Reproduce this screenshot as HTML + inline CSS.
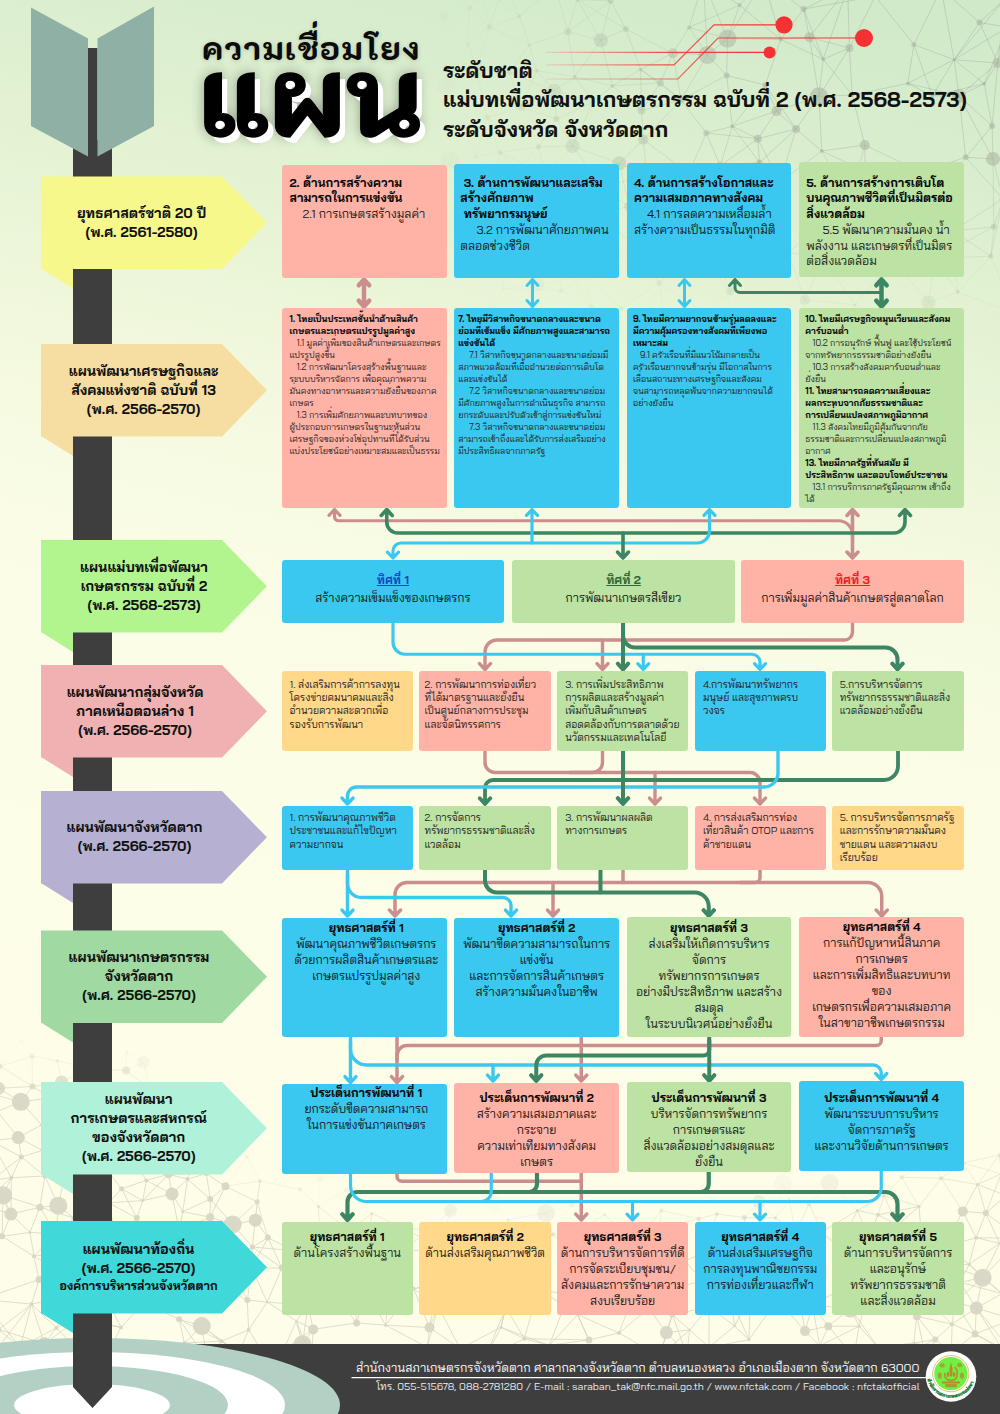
<!DOCTYPE html>
<html lang="th"><head><meta charset="utf-8"><title>ความเชื่อมโยงแผน</title>
<style>
html,body{margin:0;padding:0}
body{width:1000px;height:1414px;overflow:hidden;background:#fdfde8}
#pg{width:1000px;height:1414px;position:relative;overflow:hidden;transform:translateZ(0);font-family:"Bai Jamjuree", "Liberation Sans", "Noto Sans Thai", "Loma", sans-serif;color:#141414;
background:linear-gradient(192deg,#cfe9c9 0%,#d8edcd 10%,#e3f2d3 20%,#eff7db 30%,#f8fbe3 40%,#fcfde7 50%,#fefde9 100%)}
svg{position:absolute;left:0;top:0}
.bx{position:absolute;box-sizing:border-box;border-radius:3px;white-space:nowrap;overflow:hidden}
.bx b{font-weight:700;color:#0a0a0a}
.bx i{display:inline-block;width:13px}
.bx i.w{width:11px}
.r1{font-size:12.1px;line-height:15.75px}
.r2{font-size:8.9px;line-height:12px;color:#1e1a1a}
.r2 i{width:7px}
.r3{font-size:12px;line-height:18.5px;text-align:center;padding-top:11.3px!important}
.u{text-decoration:underline;text-decoration-thickness:1px;text-underline-offset:1px}
.r4{font-size:10.3px;line-height:13.4px;color:#202020}
.r6{font-size:12px;line-height:16px}
.c{text-align:center}
.lb{position:absolute;width:220px;height:92.5px;display:flex;align-items:center;justify-content:center;text-align:center;font-weight:700;font-size:14px;line-height:19px;white-space:nowrap;color:#111}
.t1{position:absolute;left:202px;top:27px;font-family:"K2D", "Bai Jamjuree", "Liberation Sans", "Noto Sans Thai", "Loma", sans-serif;font-weight:800;font-size:33px;line-height:40px;letter-spacing:1.5px;white-space:nowrap;color:#0b0b0b;transform-origin:0 33px;transform:scale(1,0.92);text-shadow:0 1px 6px rgba(0,0,0,.18)}
.t2{position:absolute;left:199px;top:37.8px;font-family:"K2D", "Bai Jamjuree", "Liberation Sans", "Noto Sans Thai", "Loma", sans-serif;font-weight:800;font-size:116px;line-height:120px;white-space:nowrap;color:#000;-webkit-text-stroke:1.6px #000;transform-origin:0 0;transform:scale(1.023,0.92);text-shadow:5.8px 7.4px 0 #fff,0 0 14px rgba(0,0,0,.4)}
.sub{position:absolute;left:443px;top:56px;font-weight:700;font-size:21.3px;line-height:29.3px;white-space:nowrap;color:#111}
.ft{position:absolute;right:80.5px;white-space:nowrap;color:#fff;text-align:right}
</style></head><body><div id="pg">
<svg width="1000" height="1414" viewBox="0 0 1000 1414">
<g stroke="#7d8a78" stroke-width="0.8" fill="#a9b3a2">
<line x1="600.8" y1="40.3" x2="610.8" y2="1.0" stroke-opacity="0.18"/>
<line x1="600.8" y1="40.3" x2="625.8" y2="29.1" stroke-opacity="0.18"/>
<line x1="600.8" y1="40.3" x2="612.4" y2="85.9" stroke-opacity="0.18"/>
<line x1="600.8" y1="40.3" x2="567.7" y2="31.8" stroke-opacity="0.14"/>
<line x1="600.8" y1="40.3" x2="574.8" y2="76.9" stroke-opacity="0.15"/>
<line x1="600.8" y1="40.3" x2="577.4" y2="-0.4" stroke-opacity="0.15"/>
<line x1="803.6" y1="9.0" x2="780.7" y2="39.4" stroke-opacity="0.32"/>
<line x1="803.6" y1="9.0" x2="809.4" y2="37.2" stroke-opacity="0.32"/>
<line x1="803.6" y1="9.0" x2="847.7" y2="-12.2" stroke-opacity="0.32"/>
<line x1="803.6" y1="9.0" x2="764.0" y2="-19.9" stroke-opacity="0.32"/>
<line x1="803.6" y1="9.0" x2="823.2" y2="59.2" stroke-opacity="0.32"/>
<line x1="803.6" y1="9.0" x2="875.3" y2="-3.7" stroke-opacity="0.32"/>
<line x1="732.2" y1="126.3" x2="757.8" y2="138.7" stroke-opacity="0.30"/>
<line x1="732.2" y1="126.3" x2="759.5" y2="162.5" stroke-opacity="0.30"/>
<line x1="732.2" y1="126.3" x2="765.3" y2="85.1" stroke-opacity="0.30"/>
<line x1="732.2" y1="126.3" x2="726.7" y2="75.4" stroke-opacity="0.30"/>
<line x1="732.2" y1="126.3" x2="706.2" y2="133.0" stroke-opacity="0.28"/>
<line x1="732.2" y1="126.3" x2="720.3" y2="165.9" stroke-opacity="0.28"/>
<line x1="732.2" y1="126.3" x2="776.5" y2="111.1" stroke-opacity="0.30"/>
<line x1="436.0" y1="183.0" x2="450.0" y2="159.7" stroke-opacity="0.01"/>
<line x1="436.0" y1="183.0" x2="464.2" y2="233.7" stroke-opacity="0.01"/>
<line x1="436.0" y1="183.0" x2="465.8" y2="204.1" stroke-opacity="0.01"/>
<line x1="443.3" y1="16.3" x2="489.4" y2="27.1" stroke-opacity="0.02"/>
<line x1="443.3" y1="16.3" x2="437.0" y2="62.4" stroke-opacity="0.02"/>
<line x1="443.3" y1="16.3" x2="481.2" y2="-14.3" stroke-opacity="0.02"/>
<line x1="443.3" y1="16.3" x2="467.9" y2="44.6" stroke-opacity="0.02"/>
<line x1="443.3" y1="16.3" x2="469.5" y2="8.1" stroke-opacity="0.02"/>
<line x1="663.2" y1="310.7" x2="659.2" y2="282.9" stroke-opacity="0.06"/>
<line x1="663.2" y1="310.7" x2="642.4" y2="328.6" stroke-opacity="0.03"/>
<line x1="663.2" y1="310.7" x2="706.9" y2="313.8" stroke-opacity="0.06"/>
<line x1="663.2" y1="310.7" x2="621.1" y2="308.6" stroke-opacity="0.05"/>
<line x1="476.8" y1="69.3" x2="489.4" y2="27.1" stroke-opacity="0.06"/>
<line x1="476.8" y1="69.3" x2="437.0" y2="62.4" stroke-opacity="0.02"/>
<line x1="476.8" y1="69.3" x2="509.3" y2="72.8" stroke-opacity="0.06"/>
<line x1="476.8" y1="69.3" x2="467.9" y2="44.6" stroke-opacity="0.05"/>
<line x1="476.8" y1="69.3" x2="446.2" y2="86.2" stroke-opacity="0.03"/>
<line x1="476.8" y1="69.3" x2="487.2" y2="117.6" stroke-opacity="0.06"/>
<line x1="757.8" y1="138.7" x2="796.1" y2="129.0" stroke-opacity="0.32"/>
<line x1="757.8" y1="138.7" x2="759.5" y2="162.5" stroke-opacity="0.32"/>
<line x1="757.8" y1="138.7" x2="779.8" y2="182.2" stroke-opacity="0.28"/>
<line x1="757.8" y1="138.7" x2="706.2" y2="133.0" stroke-opacity="0.28"/>
<line x1="757.8" y1="138.7" x2="720.3" y2="165.9" stroke-opacity="0.28"/>
<line x1="757.8" y1="138.7" x2="776.5" y2="111.1" stroke-opacity="0.32"/>
<line x1="1005.3" y1="-1.4" x2="1007.7" y2="27.2" stroke-opacity="0.32"/>
<line x1="1005.3" y1="-1.4" x2="979.5" y2="22.5" stroke-opacity="0.32"/>
<line x1="1005.3" y1="-1.4" x2="954.1" y2="59.7" stroke-opacity="0.32"/>
<line x1="1005.3" y1="-1.4" x2="941.2" y2="-11.3" stroke-opacity="0.32"/>
<line x1="1005.3" y1="-1.4" x2="997.8" y2="63.0" stroke-opacity="0.32"/>
<line x1="932.3" y1="95.8" x2="913.9" y2="44.6" stroke-opacity="0.32"/>
<line x1="932.3" y1="95.8" x2="984.2" y2="83.8" stroke-opacity="0.32"/>
<line x1="932.3" y1="95.8" x2="907.8" y2="83.4" stroke-opacity="0.32"/>
<line x1="932.3" y1="95.8" x2="954.1" y2="59.7" stroke-opacity="0.32"/>
<line x1="932.3" y1="95.8" x2="959.0" y2="95.9" stroke-opacity="0.32"/>
<line x1="489.4" y1="27.1" x2="529.4" y2="44.9" stroke-opacity="0.07"/>
<line x1="489.4" y1="27.1" x2="481.2" y2="-14.3" stroke-opacity="0.06"/>
<line x1="489.4" y1="27.1" x2="467.9" y2="44.6" stroke-opacity="0.05"/>
<line x1="489.4" y1="27.1" x2="519.3" y2="16.3" stroke-opacity="0.07"/>
<line x1="489.4" y1="27.1" x2="469.5" y2="8.1" stroke-opacity="0.05"/>
<line x1="489.4" y1="27.1" x2="504.9" y2="-18.9" stroke-opacity="0.07"/>
<line x1="591.3" y1="306.5" x2="642.4" y2="328.6" stroke-opacity="0.03"/>
<line x1="591.3" y1="306.5" x2="560.7" y2="257.0" stroke-opacity="0.04"/>
<line x1="591.3" y1="306.5" x2="584.6" y2="275.6" stroke-opacity="0.04"/>
<line x1="591.3" y1="306.5" x2="621.1" y2="308.6" stroke-opacity="0.04"/>
<line x1="591.3" y1="306.5" x2="561.2" y2="291.1" stroke-opacity="0.04"/>
<line x1="512.1" y1="212.6" x2="551.3" y2="209.8" stroke-opacity="0.07"/>
<line x1="512.1" y1="212.6" x2="494.2" y2="175.6" stroke-opacity="0.07"/>
<line x1="512.1" y1="212.6" x2="464.2" y2="233.7" stroke-opacity="0.03"/>
<line x1="512.1" y1="212.6" x2="465.8" y2="204.1" stroke-opacity="0.03"/>
<line x1="512.1" y1="212.6" x2="517.5" y2="169.9" stroke-opacity="0.07"/>
<line x1="512.1" y1="212.6" x2="501.5" y2="258.2" stroke-opacity="0.04"/>
<line x1="796.1" y1="129.0" x2="821.8" y2="151.0" stroke-opacity="0.32"/>
<line x1="796.1" y1="129.0" x2="759.5" y2="162.5" stroke-opacity="0.32"/>
<line x1="796.1" y1="129.0" x2="765.3" y2="85.1" stroke-opacity="0.32"/>
<line x1="796.1" y1="129.0" x2="779.8" y2="182.2" stroke-opacity="0.28"/>
<line x1="796.1" y1="129.0" x2="818.9" y2="96.3" stroke-opacity="0.32"/>
<line x1="796.1" y1="129.0" x2="776.5" y2="111.1" stroke-opacity="0.32"/>
<line x1="739.6" y1="5.1" x2="780.7" y2="39.4" stroke-opacity="0.31"/>
<line x1="739.6" y1="5.1" x2="727.5" y2="38.6" stroke-opacity="0.30"/>
<line x1="739.6" y1="5.1" x2="703.4" y2="-18.7" stroke-opacity="0.27"/>
<line x1="739.6" y1="5.1" x2="689.1" y2="27.4" stroke-opacity="0.26"/>
<line x1="739.6" y1="5.1" x2="764.0" y2="-19.9" stroke-opacity="0.31"/>
<line x1="437.0" y1="62.4" x2="467.9" y2="44.6" stroke-opacity="0.02"/>
<line x1="437.0" y1="62.4" x2="446.2" y2="86.2" stroke-opacity="0.02"/>
<line x1="821.8" y1="151.0" x2="865.1" y2="171.2" stroke-opacity="0.30"/>
<line x1="821.8" y1="151.0" x2="849.6" y2="202.6" stroke-opacity="0.25"/>
<line x1="821.8" y1="151.0" x2="779.8" y2="182.2" stroke-opacity="0.28"/>
<line x1="821.8" y1="151.0" x2="818.9" y2="96.3" stroke-opacity="0.32"/>
<line x1="821.8" y1="151.0" x2="864.8" y2="145.1" stroke-opacity="0.32"/>
<line x1="594.8" y1="214.2" x2="551.3" y2="209.8" stroke-opacity="0.10"/>
<line x1="594.8" y1="214.2" x2="639.2" y2="247.5" stroke-opacity="0.12"/>
<line x1="594.8" y1="214.2" x2="628.9" y2="206.5" stroke-opacity="0.12"/>
<line x1="594.8" y1="214.2" x2="560.7" y2="257.0" stroke-opacity="0.07"/>
<line x1="594.8" y1="214.2" x2="602.1" y2="187.3" stroke-opacity="0.12"/>
<line x1="681.0" y1="99.9" x2="643.3" y2="139.6" stroke-opacity="0.22"/>
<line x1="681.0" y1="99.9" x2="672.9" y2="53.2" stroke-opacity="0.25"/>
<line x1="681.0" y1="99.9" x2="726.7" y2="75.4" stroke-opacity="0.25"/>
<line x1="681.0" y1="99.9" x2="641.5" y2="110.5" stroke-opacity="0.21"/>
<line x1="681.0" y1="99.9" x2="706.2" y2="133.0" stroke-opacity="0.25"/>
<line x1="681.0" y1="99.9" x2="640.6" y2="69.4" stroke-opacity="0.21"/>
<line x1="681.0" y1="99.9" x2="660.4" y2="82.9" stroke-opacity="0.23"/>
<line x1="681.0" y1="99.9" x2="707.4" y2="54.9" stroke-opacity="0.25"/>
<line x1="892.5" y1="259.6" x2="874.0" y2="209.2" stroke-opacity="0.16"/>
<line x1="892.5" y1="259.6" x2="935.3" y2="258.5" stroke-opacity="0.16"/>
<line x1="892.5" y1="259.6" x2="928.6" y2="302.4" stroke-opacity="0.09"/>
<line x1="892.5" y1="259.6" x2="865.3" y2="243.0" stroke-opacity="0.16"/>
<line x1="892.5" y1="259.6" x2="855.0" y2="304.9" stroke-opacity="0.09"/>
<line x1="551.3" y1="209.8" x2="544.7" y2="174.0" stroke-opacity="0.10"/>
<line x1="551.3" y1="209.8" x2="560.7" y2="257.0" stroke-opacity="0.07"/>
<line x1="551.3" y1="209.8" x2="517.5" y2="169.9" stroke-opacity="0.09"/>
<line x1="725.6" y1="330.1" x2="730.2" y2="291.6" stroke-opacity="0.04"/>
<line x1="725.6" y1="330.1" x2="761.7" y2="341.7" stroke-opacity="0.03"/>
<line x1="725.6" y1="330.1" x2="706.9" y2="313.8" stroke-opacity="0.04"/>
<line x1="852.3" y1="95.2" x2="849.4" y2="48.0" stroke-opacity="0.32"/>
<line x1="852.3" y1="95.2" x2="907.8" y2="83.4" stroke-opacity="0.32"/>
<line x1="852.3" y1="95.2" x2="818.9" y2="96.3" stroke-opacity="0.32"/>
<line x1="852.3" y1="95.2" x2="864.8" y2="145.1" stroke-opacity="0.32"/>
<line x1="852.3" y1="95.2" x2="823.2" y2="59.2" stroke-opacity="0.32"/>
<line x1="1007.7" y1="27.2" x2="984.2" y2="83.8" stroke-opacity="0.32"/>
<line x1="1007.7" y1="27.2" x2="979.5" y2="22.5" stroke-opacity="0.32"/>
<line x1="1007.7" y1="27.2" x2="954.1" y2="59.7" stroke-opacity="0.32"/>
<line x1="1007.7" y1="27.2" x2="997.8" y2="63.0" stroke-opacity="0.32"/>
<line x1="659.2" y1="282.9" x2="693.9" y2="245.7" stroke-opacity="0.09"/>
<line x1="659.2" y1="282.9" x2="639.2" y2="247.5" stroke-opacity="0.09"/>
<line x1="659.2" y1="282.9" x2="642.4" y2="328.6" stroke-opacity="0.03"/>
<line x1="659.2" y1="282.9" x2="706.9" y2="313.8" stroke-opacity="0.06"/>
<line x1="659.2" y1="282.9" x2="621.1" y2="308.6" stroke-opacity="0.05"/>
<line x1="494.2" y1="175.6" x2="450.0" y2="159.7" stroke-opacity="0.03"/>
<line x1="494.2" y1="175.6" x2="465.8" y2="204.1" stroke-opacity="0.03"/>
<line x1="494.2" y1="175.6" x2="475.4" y2="156.8" stroke-opacity="0.05"/>
<line x1="494.2" y1="175.6" x2="500.1" y2="152.6" stroke-opacity="0.07"/>
<line x1="494.2" y1="175.6" x2="517.5" y2="169.9" stroke-opacity="0.07"/>
<line x1="874.0" y1="209.2" x2="831.1" y2="217.7" stroke-opacity="0.23"/>
<line x1="874.0" y1="209.2" x2="921.1" y2="171.8" stroke-opacity="0.24"/>
<line x1="874.0" y1="209.2" x2="865.1" y2="171.2" stroke-opacity="0.24"/>
<line x1="874.0" y1="209.2" x2="849.6" y2="202.6" stroke-opacity="0.24"/>
<line x1="874.0" y1="209.2" x2="865.3" y2="243.0" stroke-opacity="0.19"/>
<line x1="831.1" y1="217.7" x2="849.6" y2="202.6" stroke-opacity="0.23"/>
<line x1="831.1" y1="217.7" x2="865.3" y2="243.0" stroke-opacity="0.19"/>
<line x1="831.1" y1="217.7" x2="823.4" y2="257.3" stroke-opacity="0.16"/>
<line x1="831.1" y1="217.7" x2="788.3" y2="252.3" stroke-opacity="0.17"/>
<line x1="759.5" y1="162.5" x2="779.8" y2="182.2" stroke-opacity="0.28"/>
<line x1="759.5" y1="162.5" x2="720.3" y2="165.9" stroke-opacity="0.28"/>
<line x1="693.9" y1="245.7" x2="639.2" y2="247.5" stroke-opacity="0.12"/>
<line x1="693.9" y1="245.7" x2="719.6" y2="227.0" stroke-opacity="0.15"/>
<line x1="693.9" y1="245.7" x2="730.2" y2="291.6" stroke-opacity="0.10"/>
<line x1="693.9" y1="245.7" x2="717.5" y2="257.1" stroke-opacity="0.15"/>
<line x1="693.9" y1="245.7" x2="746.3" y2="231.1" stroke-opacity="0.15"/>
<line x1="693.9" y1="245.7" x2="683.5" y2="200.6" stroke-opacity="0.15"/>
<line x1="639.2" y1="247.5" x2="628.9" y2="206.5" stroke-opacity="0.12"/>
<line x1="639.2" y1="247.5" x2="584.6" y2="275.6" stroke-opacity="0.07"/>
<line x1="642.4" y1="328.6" x2="621.1" y2="308.6" stroke-opacity="0.03"/>
<line x1="450.0" y1="159.7" x2="462.9" y2="125.4" stroke-opacity="0.03"/>
<line x1="450.0" y1="159.7" x2="465.8" y2="204.1" stroke-opacity="0.03"/>
<line x1="450.0" y1="159.7" x2="475.4" y2="156.8" stroke-opacity="0.03"/>
<line x1="908.0" y1="325.6" x2="928.6" y2="302.4" stroke-opacity="0.06"/>
<line x1="908.0" y1="325.6" x2="886.0" y2="338.8" stroke-opacity="0.03"/>
<line x1="908.0" y1="325.6" x2="855.0" y2="304.9" stroke-opacity="0.06"/>
<line x1="908.0" y1="325.6" x2="956.9" y2="333.4" stroke-opacity="0.04"/>
<line x1="572.6" y1="146.1" x2="544.7" y2="174.0" stroke-opacity="0.11"/>
<line x1="572.6" y1="146.1" x2="556.4" y2="119.0" stroke-opacity="0.13"/>
<line x1="572.6" y1="146.1" x2="619.3" y2="163.3" stroke-opacity="0.15"/>
<line x1="572.6" y1="146.1" x2="602.1" y2="187.3" stroke-opacity="0.15"/>
<line x1="572.6" y1="146.1" x2="593.4" y2="102.0" stroke-opacity="0.15"/>
<line x1="572.6" y1="146.1" x2="538.5" y2="146.8" stroke-opacity="0.11"/>
<line x1="509.3" y1="72.8" x2="529.4" y2="44.9" stroke-opacity="0.09"/>
<line x1="509.3" y1="72.8" x2="536.7" y2="70.7" stroke-opacity="0.09"/>
<line x1="509.3" y1="72.8" x2="554.1" y2="90.8" stroke-opacity="0.09"/>
<line x1="509.3" y1="72.8" x2="521.4" y2="107.4" stroke-opacity="0.09"/>
<line x1="544.7" y1="174.0" x2="500.1" y2="152.6" stroke-opacity="0.08"/>
<line x1="544.7" y1="174.0" x2="517.5" y2="169.9" stroke-opacity="0.09"/>
<line x1="544.7" y1="174.0" x2="538.5" y2="146.8" stroke-opacity="0.11"/>
<line x1="765.3" y1="85.1" x2="780.7" y2="39.4" stroke-opacity="0.32"/>
<line x1="765.3" y1="85.1" x2="726.7" y2="75.4" stroke-opacity="0.30"/>
<line x1="765.3" y1="85.1" x2="776.5" y2="111.1" stroke-opacity="0.32"/>
<line x1="628.9" y1="206.5" x2="619.3" y2="163.3" stroke-opacity="0.16"/>
<line x1="628.9" y1="206.5" x2="602.1" y2="187.3" stroke-opacity="0.15"/>
<line x1="628.9" y1="206.5" x2="646.9" y2="174.9" stroke-opacity="0.16"/>
<line x1="990.9" y1="256.2" x2="957.7" y2="292.0" stroke-opacity="0.11"/>
<line x1="990.9" y1="256.2" x2="935.3" y2="258.5" stroke-opacity="0.16"/>
<line x1="990.9" y1="256.2" x2="1013.7" y2="313.0" stroke-opacity="0.08"/>
<line x1="990.9" y1="256.2" x2="1003.0" y2="198.8" stroke-opacity="0.17"/>
<line x1="990.9" y1="256.2" x2="953.0" y2="230.9" stroke-opacity="0.17"/>
<line x1="990.9" y1="256.2" x2="993.8" y2="226.8" stroke-opacity="0.17"/>
<line x1="719.6" y1="227.0" x2="711.0" y2="192.7" stroke-opacity="0.19"/>
<line x1="719.6" y1="227.0" x2="717.5" y2="257.1" stroke-opacity="0.15"/>
<line x1="719.6" y1="227.0" x2="753.8" y2="260.2" stroke-opacity="0.16"/>
<line x1="719.6" y1="227.0" x2="746.3" y2="231.1" stroke-opacity="0.19"/>
<line x1="719.6" y1="227.0" x2="683.5" y2="200.6" stroke-opacity="0.19"/>
<line x1="957.7" y1="292.0" x2="935.3" y2="258.5" stroke-opacity="0.11"/>
<line x1="957.7" y1="292.0" x2="928.6" y2="302.4" stroke-opacity="0.09"/>
<line x1="957.7" y1="292.0" x2="1013.7" y2="313.0" stroke-opacity="0.08"/>
<line x1="957.7" y1="292.0" x2="953.0" y2="230.9" stroke-opacity="0.11"/>
<line x1="957.7" y1="292.0" x2="1006.4" y2="354.5" stroke-opacity="0.01"/>
<line x1="957.7" y1="292.0" x2="956.9" y2="333.4" stroke-opacity="0.04"/>
<line x1="643.3" y1="139.6" x2="688.9" y2="173.5" stroke-opacity="0.22"/>
<line x1="643.3" y1="139.6" x2="619.3" y2="163.3" stroke-opacity="0.19"/>
<line x1="643.3" y1="139.6" x2="646.9" y2="174.9" stroke-opacity="0.20"/>
<line x1="643.3" y1="139.6" x2="641.5" y2="110.5" stroke-opacity="0.21"/>
<line x1="464.2" y1="233.7" x2="465.8" y2="204.1" stroke-opacity="0.03"/>
<line x1="464.2" y1="233.7" x2="501.5" y2="258.2" stroke-opacity="0.03"/>
<line x1="529.4" y1="44.9" x2="536.7" y2="70.7" stroke-opacity="0.11"/>
<line x1="529.4" y1="44.9" x2="567.7" y2="31.8" stroke-opacity="0.11"/>
<line x1="529.4" y1="44.9" x2="519.3" y2="16.3" stroke-opacity="0.10"/>
<line x1="610.8" y1="1.0" x2="625.8" y2="29.1" stroke-opacity="0.19"/>
<line x1="610.8" y1="1.0" x2="567.7" y2="31.8" stroke-opacity="0.14"/>
<line x1="610.8" y1="1.0" x2="555.3" y2="-13.9" stroke-opacity="0.13"/>
<line x1="610.8" y1="1.0" x2="577.4" y2="-0.4" stroke-opacity="0.15"/>
<line x1="462.9" y1="125.4" x2="475.4" y2="156.8" stroke-opacity="0.04"/>
<line x1="462.9" y1="125.4" x2="500.1" y2="152.6" stroke-opacity="0.04"/>
<line x1="462.9" y1="125.4" x2="446.2" y2="86.2" stroke-opacity="0.03"/>
<line x1="462.9" y1="125.4" x2="487.2" y2="117.6" stroke-opacity="0.04"/>
<line x1="780.7" y1="39.4" x2="727.5" y2="38.6" stroke-opacity="0.30"/>
<line x1="780.7" y1="39.4" x2="809.4" y2="37.2" stroke-opacity="0.32"/>
<line x1="780.7" y1="39.4" x2="764.0" y2="-19.9" stroke-opacity="0.32"/>
<line x1="780.7" y1="39.4" x2="823.2" y2="59.2" stroke-opacity="0.32"/>
<line x1="556.4" y1="119.0" x2="554.1" y2="90.8" stroke-opacity="0.13"/>
<line x1="556.4" y1="119.0" x2="521.4" y2="107.4" stroke-opacity="0.10"/>
<line x1="556.4" y1="119.0" x2="593.4" y2="102.0" stroke-opacity="0.13"/>
<line x1="556.4" y1="119.0" x2="538.5" y2="146.8" stroke-opacity="0.11"/>
<line x1="625.8" y1="29.1" x2="672.9" y2="53.2" stroke-opacity="0.20"/>
<line x1="625.8" y1="29.1" x2="577.4" y2="-0.4" stroke-opacity="0.15"/>
<line x1="625.8" y1="29.1" x2="640.6" y2="69.4" stroke-opacity="0.20"/>
<line x1="688.9" y1="173.5" x2="711.0" y2="192.7" stroke-opacity="0.24"/>
<line x1="688.9" y1="173.5" x2="646.9" y2="174.9" stroke-opacity="0.20"/>
<line x1="688.9" y1="173.5" x2="706.2" y2="133.0" stroke-opacity="0.24"/>
<line x1="688.9" y1="173.5" x2="720.3" y2="165.9" stroke-opacity="0.24"/>
<line x1="688.9" y1="173.5" x2="683.5" y2="200.6" stroke-opacity="0.20"/>
<line x1="612.4" y1="85.9" x2="593.4" y2="102.0" stroke-opacity="0.17"/>
<line x1="612.4" y1="85.9" x2="574.8" y2="76.9" stroke-opacity="0.15"/>
<line x1="612.4" y1="85.9" x2="641.5" y2="110.5" stroke-opacity="0.19"/>
<line x1="612.4" y1="85.9" x2="640.6" y2="69.4" stroke-opacity="0.19"/>
<line x1="612.4" y1="85.9" x2="660.4" y2="82.9" stroke-opacity="0.19"/>
<line x1="913.9" y1="44.6" x2="907.8" y2="83.4" stroke-opacity="0.32"/>
<line x1="913.9" y1="44.6" x2="954.1" y2="59.7" stroke-opacity="0.32"/>
<line x1="913.9" y1="44.6" x2="941.2" y2="-11.3" stroke-opacity="0.32"/>
<line x1="913.9" y1="44.6" x2="875.3" y2="-3.7" stroke-opacity="0.32"/>
<line x1="727.5" y1="38.6" x2="726.7" y2="75.4" stroke-opacity="0.30"/>
<line x1="727.5" y1="38.6" x2="703.4" y2="-18.7" stroke-opacity="0.27"/>
<line x1="727.5" y1="38.6" x2="689.1" y2="27.4" stroke-opacity="0.26"/>
<line x1="727.5" y1="38.6" x2="764.0" y2="-19.9" stroke-opacity="0.30"/>
<line x1="727.5" y1="38.6" x2="707.4" y2="54.9" stroke-opacity="0.28"/>
<line x1="935.3" y1="258.5" x2="928.6" y2="302.4" stroke-opacity="0.09"/>
<line x1="935.3" y1="258.5" x2="953.0" y2="230.9" stroke-opacity="0.16"/>
<line x1="935.3" y1="258.5" x2="993.8" y2="226.8" stroke-opacity="0.16"/>
<line x1="503.6" y1="288.8" x2="490.6" y2="310.6" stroke-opacity="0.02"/>
<line x1="503.6" y1="288.8" x2="537.3" y2="284.2" stroke-opacity="0.03"/>
<line x1="503.6" y1="288.8" x2="561.2" y2="291.1" stroke-opacity="0.03"/>
<line x1="503.6" y1="288.8" x2="501.5" y2="258.2" stroke-opacity="0.03"/>
<line x1="730.2" y1="291.6" x2="761.7" y2="341.7" stroke-opacity="0.03"/>
<line x1="730.2" y1="291.6" x2="717.5" y2="257.1" stroke-opacity="0.10"/>
<line x1="730.2" y1="291.6" x2="753.8" y2="260.2" stroke-opacity="0.10"/>
<line x1="730.2" y1="291.6" x2="706.9" y2="313.8" stroke-opacity="0.06"/>
<line x1="928.6" y1="302.4" x2="956.9" y2="333.4" stroke-opacity="0.04"/>
<line x1="560.7" y1="257.0" x2="584.6" y2="275.6" stroke-opacity="0.07"/>
<line x1="560.7" y1="257.0" x2="537.3" y2="284.2" stroke-opacity="0.04"/>
<line x1="560.7" y1="257.0" x2="561.2" y2="291.1" stroke-opacity="0.05"/>
<line x1="993.0" y1="158.9" x2="992.1" y2="125.9" stroke-opacity="0.32"/>
<line x1="993.0" y1="158.9" x2="965.7" y2="157.3" stroke-opacity="0.32"/>
<line x1="993.0" y1="158.9" x2="1003.0" y2="198.8" stroke-opacity="0.26"/>
<line x1="993.0" y1="158.9" x2="959.0" y2="95.9" stroke-opacity="0.32"/>
<line x1="993.0" y1="158.9" x2="993.8" y2="226.8" stroke-opacity="0.21"/>
<line x1="992.1" y1="125.9" x2="965.7" y2="157.3" stroke-opacity="0.32"/>
<line x1="992.1" y1="125.9" x2="984.2" y2="83.8" stroke-opacity="0.32"/>
<line x1="992.1" y1="125.9" x2="959.0" y2="95.9" stroke-opacity="0.32"/>
<line x1="992.1" y1="125.9" x2="997.8" y2="63.0" stroke-opacity="0.32"/>
<line x1="536.7" y1="70.7" x2="554.1" y2="90.8" stroke-opacity="0.11"/>
<line x1="536.7" y1="70.7" x2="521.4" y2="107.4" stroke-opacity="0.10"/>
<line x1="536.7" y1="70.7" x2="574.8" y2="76.9" stroke-opacity="0.11"/>
<line x1="921.1" y1="171.8" x2="865.1" y2="171.2" stroke-opacity="0.30"/>
<line x1="921.1" y1="171.8" x2="965.7" y2="157.3" stroke-opacity="0.30"/>
<line x1="921.1" y1="171.8" x2="953.0" y2="230.9" stroke-opacity="0.21"/>
<line x1="921.1" y1="171.8" x2="864.8" y2="145.1" stroke-opacity="0.30"/>
<line x1="804.8" y1="299.9" x2="833.5" y2="330.6" stroke-opacity="0.05"/>
<line x1="804.8" y1="299.9" x2="855.0" y2="304.9" stroke-opacity="0.09"/>
<line x1="804.8" y1="299.9" x2="823.4" y2="257.3" stroke-opacity="0.10"/>
<line x1="804.8" y1="299.9" x2="788.3" y2="252.3" stroke-opacity="0.10"/>
<line x1="804.8" y1="299.9" x2="813.8" y2="350.1" stroke-opacity="0.02"/>
<line x1="865.1" y1="171.2" x2="849.6" y2="202.6" stroke-opacity="0.25"/>
<line x1="865.1" y1="171.2" x2="864.8" y2="145.1" stroke-opacity="0.30"/>
<line x1="849.4" y1="48.0" x2="809.4" y2="37.2" stroke-opacity="0.32"/>
<line x1="849.4" y1="48.0" x2="847.7" y2="-12.2" stroke-opacity="0.32"/>
<line x1="849.4" y1="48.0" x2="818.9" y2="96.3" stroke-opacity="0.32"/>
<line x1="849.4" y1="48.0" x2="823.2" y2="59.2" stroke-opacity="0.32"/>
<line x1="849.4" y1="48.0" x2="875.3" y2="-3.7" stroke-opacity="0.32"/>
<line x1="490.6" y1="310.6" x2="537.3" y2="284.2" stroke-opacity="0.02"/>
<line x1="490.6" y1="310.6" x2="501.5" y2="258.2" stroke-opacity="0.02"/>
<line x1="481.2" y1="-14.3" x2="519.3" y2="16.3" stroke-opacity="0.06"/>
<line x1="481.2" y1="-14.3" x2="469.5" y2="8.1" stroke-opacity="0.05"/>
<line x1="481.2" y1="-14.3" x2="504.9" y2="-18.9" stroke-opacity="0.06"/>
<line x1="619.3" y1="163.3" x2="602.1" y2="187.3" stroke-opacity="0.15"/>
<line x1="619.3" y1="163.3" x2="646.9" y2="174.9" stroke-opacity="0.19"/>
<line x1="761.7" y1="341.7" x2="813.8" y2="350.1" stroke-opacity="0.02"/>
<line x1="711.0" y1="192.7" x2="746.3" y2="231.1" stroke-opacity="0.20"/>
<line x1="711.0" y1="192.7" x2="720.3" y2="165.9" stroke-opacity="0.24"/>
<line x1="711.0" y1="192.7" x2="683.5" y2="200.6" stroke-opacity="0.20"/>
<line x1="672.9" y1="53.2" x2="689.1" y2="27.4" stroke-opacity="0.25"/>
<line x1="672.9" y1="53.2" x2="640.6" y2="69.4" stroke-opacity="0.21"/>
<line x1="672.9" y1="53.2" x2="660.4" y2="82.9" stroke-opacity="0.23"/>
<line x1="672.9" y1="53.2" x2="707.4" y2="54.9" stroke-opacity="0.25"/>
<line x1="849.6" y1="202.6" x2="865.3" y2="243.0" stroke-opacity="0.19"/>
<line x1="849.6" y1="202.6" x2="864.8" y2="145.1" stroke-opacity="0.25"/>
<line x1="602.1" y1="187.3" x2="646.9" y2="174.9" stroke-opacity="0.15"/>
<line x1="554.1" y1="90.8" x2="521.4" y2="107.4" stroke-opacity="0.10"/>
<line x1="554.1" y1="90.8" x2="593.4" y2="102.0" stroke-opacity="0.13"/>
<line x1="554.1" y1="90.8" x2="574.8" y2="76.9" stroke-opacity="0.13"/>
<line x1="965.7" y1="157.3" x2="1003.0" y2="198.8" stroke-opacity="0.26"/>
<line x1="965.7" y1="157.3" x2="959.0" y2="95.9" stroke-opacity="0.32"/>
<line x1="779.8" y1="182.2" x2="746.3" y2="231.1" stroke-opacity="0.20"/>
<line x1="717.5" y1="257.1" x2="753.8" y2="260.2" stroke-opacity="0.15"/>
<line x1="717.5" y1="257.1" x2="746.3" y2="231.1" stroke-opacity="0.15"/>
<line x1="833.5" y1="330.6" x2="855.0" y2="304.9" stroke-opacity="0.05"/>
<line x1="833.5" y1="330.6" x2="813.8" y2="350.1" stroke-opacity="0.02"/>
<line x1="984.2" y1="83.8" x2="954.1" y2="59.7" stroke-opacity="0.32"/>
<line x1="984.2" y1="83.8" x2="959.0" y2="95.9" stroke-opacity="0.32"/>
<line x1="984.2" y1="83.8" x2="997.8" y2="63.0" stroke-opacity="0.32"/>
<line x1="475.4" y1="156.8" x2="500.1" y2="152.6" stroke-opacity="0.05"/>
<line x1="475.4" y1="156.8" x2="487.2" y2="117.6" stroke-opacity="0.05"/>
<line x1="886.0" y1="338.8" x2="855.0" y2="304.9" stroke-opacity="0.03"/>
<line x1="809.4" y1="37.2" x2="847.7" y2="-12.2" stroke-opacity="0.32"/>
<line x1="809.4" y1="37.2" x2="818.9" y2="96.3" stroke-opacity="0.32"/>
<line x1="809.4" y1="37.2" x2="823.2" y2="59.2" stroke-opacity="0.32"/>
<line x1="646.9" y1="174.9" x2="683.5" y2="200.6" stroke-opacity="0.20"/>
<line x1="1013.7" y1="313.0" x2="1006.4" y2="354.5" stroke-opacity="0.01"/>
<line x1="1013.7" y1="313.0" x2="956.9" y2="333.4" stroke-opacity="0.04"/>
<line x1="500.1" y1="152.6" x2="517.5" y2="169.9" stroke-opacity="0.08"/>
<line x1="500.1" y1="152.6" x2="487.2" y2="117.6" stroke-opacity="0.07"/>
<line x1="500.1" y1="152.6" x2="538.5" y2="146.8" stroke-opacity="0.08"/>
<line x1="521.4" y1="107.4" x2="487.2" y2="117.6" stroke-opacity="0.07"/>
<line x1="847.7" y1="-12.2" x2="823.2" y2="59.2" stroke-opacity="0.32"/>
<line x1="847.7" y1="-12.2" x2="875.3" y2="-3.7" stroke-opacity="0.32"/>
<line x1="567.7" y1="31.8" x2="555.3" y2="-13.9" stroke-opacity="0.13"/>
<line x1="567.7" y1="31.8" x2="574.8" y2="76.9" stroke-opacity="0.14"/>
<line x1="567.7" y1="31.8" x2="577.4" y2="-0.4" stroke-opacity="0.14"/>
<line x1="907.8" y1="83.4" x2="954.1" y2="59.7" stroke-opacity="0.32"/>
<line x1="907.8" y1="83.4" x2="959.0" y2="95.9" stroke-opacity="0.32"/>
<line x1="753.8" y1="260.2" x2="746.3" y2="231.1" stroke-opacity="0.16"/>
<line x1="753.8" y1="260.2" x2="788.3" y2="252.3" stroke-opacity="0.16"/>
<line x1="726.7" y1="75.4" x2="707.4" y2="54.9" stroke-opacity="0.28"/>
<line x1="467.9" y1="44.6" x2="446.2" y2="86.2" stroke-opacity="0.03"/>
<line x1="467.9" y1="44.6" x2="469.5" y2="8.1" stroke-opacity="0.05"/>
<line x1="593.4" y1="102.0" x2="574.8" y2="76.9" stroke-opacity="0.15"/>
<line x1="555.3" y1="-13.9" x2="577.4" y2="-0.4" stroke-opacity="0.13"/>
<line x1="555.3" y1="-13.9" x2="519.3" y2="16.3" stroke-opacity="0.10"/>
<line x1="555.3" y1="-13.9" x2="504.9" y2="-18.9" stroke-opacity="0.08"/>
<line x1="517.5" y1="169.9" x2="538.5" y2="146.8" stroke-opacity="0.09"/>
<line x1="979.5" y1="22.5" x2="954.1" y2="59.7" stroke-opacity="0.32"/>
<line x1="979.5" y1="22.5" x2="941.2" y2="-11.3" stroke-opacity="0.32"/>
<line x1="979.5" y1="22.5" x2="997.8" y2="63.0" stroke-opacity="0.32"/>
<line x1="1003.0" y1="198.8" x2="953.0" y2="230.9" stroke-opacity="0.21"/>
<line x1="1003.0" y1="198.8" x2="993.8" y2="226.8" stroke-opacity="0.21"/>
<line x1="865.3" y1="243.0" x2="823.4" y2="257.3" stroke-opacity="0.16"/>
<line x1="641.5" y1="110.5" x2="640.6" y2="69.4" stroke-opacity="0.21"/>
<line x1="641.5" y1="110.5" x2="660.4" y2="82.9" stroke-opacity="0.21"/>
<line x1="953.0" y1="230.9" x2="993.8" y2="226.8" stroke-opacity="0.21"/>
<line x1="855.0" y1="304.9" x2="823.4" y2="257.3" stroke-opacity="0.09"/>
<line x1="823.4" y1="257.3" x2="788.3" y2="252.3" stroke-opacity="0.16"/>
<line x1="746.3" y1="231.1" x2="788.3" y2="252.3" stroke-opacity="0.17"/>
<line x1="703.4" y1="-18.7" x2="689.1" y2="27.4" stroke-opacity="0.26"/>
<line x1="703.4" y1="-18.7" x2="764.0" y2="-19.9" stroke-opacity="0.27"/>
<line x1="703.4" y1="-18.7" x2="707.4" y2="54.9" stroke-opacity="0.27"/>
<line x1="706.2" y1="133.0" x2="720.3" y2="165.9" stroke-opacity="0.28"/>
<line x1="818.9" y1="96.3" x2="823.2" y2="59.2" stroke-opacity="0.32"/>
<line x1="818.9" y1="96.3" x2="776.5" y2="111.1" stroke-opacity="0.32"/>
<line x1="689.1" y1="27.4" x2="707.4" y2="54.9" stroke-opacity="0.26"/>
<line x1="954.1" y1="59.7" x2="959.0" y2="95.9" stroke-opacity="0.32"/>
<line x1="954.1" y1="59.7" x2="941.2" y2="-11.3" stroke-opacity="0.32"/>
<line x1="954.1" y1="59.7" x2="997.8" y2="63.0" stroke-opacity="0.32"/>
<line x1="1006.4" y1="354.5" x2="956.9" y2="333.4" stroke-opacity="0.01"/>
<line x1="959.0" y1="95.9" x2="997.8" y2="63.0" stroke-opacity="0.32"/>
<line x1="584.6" y1="275.6" x2="537.3" y2="284.2" stroke-opacity="0.04"/>
<line x1="584.6" y1="275.6" x2="621.1" y2="308.6" stroke-opacity="0.05"/>
<line x1="584.6" y1="275.6" x2="561.2" y2="291.1" stroke-opacity="0.05"/>
<line x1="519.3" y1="16.3" x2="504.9" y2="-18.9" stroke-opacity="0.08"/>
<line x1="941.2" y1="-11.3" x2="875.3" y2="-3.7" stroke-opacity="0.32"/>
<line x1="469.5" y1="8.1" x2="504.9" y2="-18.9" stroke-opacity="0.05"/>
<line x1="640.6" y1="69.4" x2="660.4" y2="82.9" stroke-opacity="0.21"/>
<line x1="537.3" y1="284.2" x2="561.2" y2="291.1" stroke-opacity="0.04"/>
<line x1="537.3" y1="284.2" x2="501.5" y2="258.2" stroke-opacity="0.04"/>
<circle cx="600.8" cy="40.3" r="7" stroke="none" fill-opacity="0.30"/>
<circle cx="803.6" cy="9.0" r="3" stroke="none" fill-opacity="0.55"/>
<circle cx="732.2" cy="126.3" r="2" stroke="none" fill-opacity="0.52"/>
<circle cx="436.0" cy="183.0" r="5" stroke="none" fill-opacity="0.02"/>
<circle cx="443.3" cy="16.3" r="5" stroke="none" fill-opacity="0.04"/>
<circle cx="663.2" cy="310.7" r="3" stroke="none" fill-opacity="0.10"/>
<circle cx="476.8" cy="69.3" r="9" stroke="none" fill-opacity="0.09"/>
<circle cx="757.8" cy="138.7" r="4" stroke="none" fill-opacity="0.55"/>
<circle cx="1005.3" cy="-1.4" r="2" stroke="none" fill-opacity="0.55"/>
<circle cx="932.3" cy="95.8" r="2" stroke="none" fill-opacity="0.55"/>
<circle cx="489.4" cy="27.1" r="3" stroke="none" fill-opacity="0.12"/>
<circle cx="591.3" cy="306.5" r="2.5" stroke="none" fill-opacity="0.08"/>
<circle cx="512.1" cy="212.6" r="2" stroke="none" fill-opacity="0.11"/>
<circle cx="796.1" cy="129.0" r="4" stroke="none" fill-opacity="0.55"/>
<circle cx="739.6" cy="5.1" r="2" stroke="none" fill-opacity="0.53"/>
<circle cx="437.0" cy="62.4" r="2" stroke="none" fill-opacity="0.03"/>
<circle cx="821.8" cy="151.0" r="2" stroke="none" fill-opacity="0.55"/>
<circle cx="594.8" cy="214.2" r="3" stroke="none" fill-opacity="0.21"/>
<circle cx="681.0" cy="99.9" r="3.5" stroke="none" fill-opacity="0.43"/>
<circle cx="892.5" cy="259.6" r="2.5" stroke="none" fill-opacity="0.28"/>
<circle cx="551.3" cy="209.8" r="2.5" stroke="none" fill-opacity="0.16"/>
<circle cx="725.6" cy="330.1" r="2" stroke="none" fill-opacity="0.08"/>
<circle cx="852.3" cy="95.2" r="1.5" stroke="none" fill-opacity="0.55"/>
<circle cx="1007.7" cy="27.2" r="3.5" stroke="none" fill-opacity="0.55"/>
<circle cx="659.2" cy="282.9" r="3" stroke="none" fill-opacity="0.15"/>
<circle cx="494.2" cy="175.6" r="1.5" stroke="none" fill-opacity="0.11"/>
<circle cx="874.0" cy="209.2" r="5" stroke="none" fill-opacity="0.41"/>
<circle cx="831.1" cy="217.7" r="7" stroke="none" fill-opacity="0.39"/>
<circle cx="759.5" cy="162.5" r="3" stroke="none" fill-opacity="0.54"/>
<circle cx="693.9" cy="245.7" r="2" stroke="none" fill-opacity="0.26"/>
<circle cx="639.2" cy="247.5" r="9" stroke="none" fill-opacity="0.21"/>
<circle cx="642.4" cy="328.6" r="5" stroke="none" fill-opacity="0.06"/>
<circle cx="450.0" cy="159.7" r="9" stroke="none" fill-opacity="0.05"/>
<circle cx="908.0" cy="325.6" r="2" stroke="none" fill-opacity="0.09"/>
<circle cx="572.6" cy="146.1" r="7" stroke="none" fill-opacity="0.25"/>
<circle cx="509.3" cy="72.8" r="2.5" stroke="none" fill-opacity="0.15"/>
<circle cx="544.7" cy="174.0" r="5" stroke="none" fill-opacity="0.19"/>
<circle cx="765.3" cy="85.1" r="3" stroke="none" fill-opacity="0.55"/>
<circle cx="628.9" cy="206.5" r="5" stroke="none" fill-opacity="0.27"/>
<circle cx="990.9" cy="256.2" r="2.5" stroke="none" fill-opacity="0.29"/>
<circle cx="719.6" cy="227.0" r="3.5" stroke="none" fill-opacity="0.33"/>
<circle cx="957.7" cy="292.0" r="2" stroke="none" fill-opacity="0.19"/>
<circle cx="643.3" cy="139.6" r="5" stroke="none" fill-opacity="0.37"/>
<circle cx="464.2" cy="233.7" r="2.5" stroke="none" fill-opacity="0.05"/>
<circle cx="529.4" cy="44.9" r="1.5" stroke="none" fill-opacity="0.18"/>
<circle cx="610.8" cy="1.0" r="3" stroke="none" fill-opacity="0.32"/>
<circle cx="462.9" cy="125.4" r="4" stroke="none" fill-opacity="0.07"/>
<circle cx="780.7" cy="39.4" r="2" stroke="none" fill-opacity="0.55"/>
<circle cx="556.4" cy="119.0" r="3" stroke="none" fill-opacity="0.23"/>
<circle cx="625.8" cy="29.1" r="3" stroke="none" fill-opacity="0.34"/>
<circle cx="688.9" cy="173.5" r="2" stroke="none" fill-opacity="0.42"/>
<circle cx="612.4" cy="85.9" r="2" stroke="none" fill-opacity="0.32"/>
<circle cx="913.9" cy="44.6" r="2.5" stroke="none" fill-opacity="0.55"/>
<circle cx="727.5" cy="38.6" r="9" stroke="none" fill-opacity="0.51"/>
<circle cx="935.3" cy="258.5" r="2.5" stroke="none" fill-opacity="0.28"/>
<circle cx="503.6" cy="288.8" r="1.5" stroke="none" fill-opacity="0.05"/>
<circle cx="730.2" cy="291.6" r="4" stroke="none" fill-opacity="0.18"/>
<circle cx="928.6" cy="302.4" r="7" stroke="none" fill-opacity="0.16"/>
<circle cx="560.7" cy="257.0" r="1.5" stroke="none" fill-opacity="0.12"/>
<circle cx="993.0" cy="158.9" r="7" stroke="none" fill-opacity="0.55"/>
<circle cx="992.1" cy="125.9" r="3" stroke="none" fill-opacity="0.55"/>
<circle cx="536.7" cy="70.7" r="2" stroke="none" fill-opacity="0.19"/>
<circle cx="921.1" cy="171.8" r="3" stroke="none" fill-opacity="0.52"/>
<circle cx="804.8" cy="299.9" r="5" stroke="none" fill-opacity="0.17"/>
<circle cx="865.1" cy="171.2" r="3.5" stroke="none" fill-opacity="0.52"/>
<circle cx="849.4" cy="48.0" r="4" stroke="none" fill-opacity="0.55"/>
<circle cx="490.6" cy="310.6" r="7" stroke="none" fill-opacity="0.03"/>
<circle cx="481.2" cy="-14.3" r="2.5" stroke="none" fill-opacity="0.10"/>
<circle cx="619.3" cy="163.3" r="7" stroke="none" fill-opacity="0.33"/>
<circle cx="761.7" cy="341.7" r="3" stroke="none" fill-opacity="0.05"/>
<circle cx="711.0" cy="192.7" r="2.5" stroke="none" fill-opacity="0.41"/>
<circle cx="672.9" cy="53.2" r="5" stroke="none" fill-opacity="0.42"/>
<circle cx="849.6" cy="202.6" r="2.5" stroke="none" fill-opacity="0.43"/>
<circle cx="602.1" cy="187.3" r="3" stroke="none" fill-opacity="0.26"/>
<circle cx="465.8" cy="204.1" r="3" stroke="none" fill-opacity="0.06"/>
<circle cx="554.1" cy="90.8" r="7" stroke="none" fill-opacity="0.22"/>
<circle cx="965.7" cy="157.3" r="3" stroke="none" fill-opacity="0.55"/>
<circle cx="779.8" cy="182.2" r="3.5" stroke="none" fill-opacity="0.49"/>
<circle cx="717.5" cy="257.1" r="4" stroke="none" fill-opacity="0.26"/>
<circle cx="833.5" cy="330.6" r="3.5" stroke="none" fill-opacity="0.08"/>
<circle cx="984.2" cy="83.8" r="2" stroke="none" fill-opacity="0.55"/>
<circle cx="475.4" cy="156.8" r="1.5" stroke="none" fill-opacity="0.09"/>
<circle cx="886.0" cy="338.8" r="1.5" stroke="none" fill-opacity="0.06"/>
<circle cx="809.4" cy="37.2" r="5" stroke="none" fill-opacity="0.55"/>
<circle cx="646.9" cy="174.9" r="3.5" stroke="none" fill-opacity="0.35"/>
<circle cx="1013.7" cy="313.0" r="3.5" stroke="none" fill-opacity="0.13"/>
<circle cx="500.1" cy="152.6" r="2.5" stroke="none" fill-opacity="0.13"/>
<circle cx="521.4" cy="107.4" r="3.5" stroke="none" fill-opacity="0.17"/>
<circle cx="847.7" cy="-12.2" r="5" stroke="none" fill-opacity="0.55"/>
<circle cx="567.7" cy="31.8" r="3.5" stroke="none" fill-opacity="0.25"/>
<circle cx="907.8" cy="83.4" r="2" stroke="none" fill-opacity="0.55"/>
<circle cx="753.8" cy="260.2" r="3.5" stroke="none" fill-opacity="0.27"/>
<circle cx="726.7" cy="75.4" r="3" stroke="none" fill-opacity="0.51"/>
<circle cx="467.9" cy="44.6" r="2" stroke="none" fill-opacity="0.08"/>
<circle cx="593.4" cy="102.0" r="2" stroke="none" fill-opacity="0.29"/>
<circle cx="555.3" cy="-13.9" r="2" stroke="none" fill-opacity="0.23"/>
<circle cx="517.5" cy="169.9" r="3" stroke="none" fill-opacity="0.15"/>
<circle cx="979.5" cy="22.5" r="3" stroke="none" fill-opacity="0.55"/>
<circle cx="706.9" cy="313.8" r="3" stroke="none" fill-opacity="0.11"/>
<circle cx="574.8" cy="76.9" r="2" stroke="none" fill-opacity="0.26"/>
<circle cx="1003.0" cy="198.8" r="3.5" stroke="none" fill-opacity="0.44"/>
<circle cx="865.3" cy="243.0" r="4" stroke="none" fill-opacity="0.32"/>
<circle cx="641.5" cy="110.5" r="4" stroke="none" fill-opacity="0.37"/>
<circle cx="953.0" cy="230.9" r="7" stroke="none" fill-opacity="0.35"/>
<circle cx="855.0" cy="304.9" r="1.5" stroke="none" fill-opacity="0.15"/>
<circle cx="823.4" cy="257.3" r="1.5" stroke="none" fill-opacity="0.28"/>
<circle cx="746.3" cy="231.1" r="7" stroke="none" fill-opacity="0.35"/>
<circle cx="788.3" cy="252.3" r="2" stroke="none" fill-opacity="0.30"/>
<circle cx="703.4" cy="-18.7" r="2" stroke="none" fill-opacity="0.47"/>
<circle cx="446.2" cy="86.2" r="9" stroke="none" fill-opacity="0.04"/>
<circle cx="706.2" cy="133.0" r="3" stroke="none" fill-opacity="0.48"/>
<circle cx="818.9" cy="96.3" r="9" stroke="none" fill-opacity="0.55"/>
<circle cx="720.3" cy="165.9" r="4" stroke="none" fill-opacity="0.49"/>
<circle cx="689.1" cy="27.4" r="2" stroke="none" fill-opacity="0.45"/>
<circle cx="954.1" cy="59.7" r="1.5" stroke="none" fill-opacity="0.55"/>
<circle cx="1006.4" cy="354.5" r="4" stroke="none" fill-opacity="0.02"/>
<circle cx="487.2" cy="117.6" r="3" stroke="none" fill-opacity="0.11"/>
<circle cx="959.0" cy="95.9" r="7" stroke="none" fill-opacity="0.55"/>
<circle cx="577.4" cy="-0.4" r="2" stroke="none" fill-opacity="0.26"/>
<circle cx="584.6" cy="275.6" r="1.5" stroke="none" fill-opacity="0.12"/>
<circle cx="519.3" cy="16.3" r="2" stroke="none" fill-opacity="0.17"/>
<circle cx="864.8" cy="145.1" r="5" stroke="none" fill-opacity="0.55"/>
<circle cx="941.2" cy="-11.3" r="9" stroke="none" fill-opacity="0.55"/>
<circle cx="764.0" cy="-19.9" r="9" stroke="none" fill-opacity="0.55"/>
<circle cx="683.5" cy="200.6" r="2" stroke="none" fill-opacity="0.35"/>
<circle cx="469.5" cy="8.1" r="2.5" stroke="none" fill-opacity="0.08"/>
<circle cx="640.6" cy="69.4" r="2" stroke="none" fill-opacity="0.37"/>
<circle cx="660.4" cy="82.9" r="3.5" stroke="none" fill-opacity="0.40"/>
<circle cx="813.8" cy="350.1" r="2.5" stroke="none" fill-opacity="0.03"/>
<circle cx="823.2" cy="59.2" r="2" stroke="none" fill-opacity="0.55"/>
<circle cx="537.3" cy="284.2" r="7" stroke="none" fill-opacity="0.07"/>
<circle cx="707.4" cy="54.9" r="9" stroke="none" fill-opacity="0.48"/>
<circle cx="538.5" cy="146.8" r="2.5" stroke="none" fill-opacity="0.20"/>
<circle cx="956.9" cy="333.4" r="2" stroke="none" fill-opacity="0.07"/>
<circle cx="504.9" cy="-18.9" r="3" stroke="none" fill-opacity="0.14"/>
<circle cx="997.8" cy="63.0" r="5" stroke="none" fill-opacity="0.55"/>
<circle cx="621.1" cy="308.6" r="2.5" stroke="none" fill-opacity="0.09"/>
<circle cx="875.3" cy="-3.7" r="2" stroke="none" fill-opacity="0.55"/>
<circle cx="993.8" cy="226.8" r="3" stroke="none" fill-opacity="0.37"/>
<circle cx="776.5" cy="111.1" r="5" stroke="none" fill-opacity="0.55"/>
<circle cx="561.2" cy="291.1" r="2.5" stroke="none" fill-opacity="0.08"/>
<circle cx="501.5" cy="258.2" r="3.5" stroke="none" fill-opacity="0.07"/>
</g>
<g stroke="#cfccb8" stroke-width="0.8" fill="#d8d6c4">
<line x1="450.5" y1="1210.3" x2="440.6" y2="1247.1" stroke-opacity="0.24"/>
<line x1="450.5" y1="1210.3" x2="493.4" y2="1202.7" stroke-opacity="0.05"/>
<line x1="450.5" y1="1210.3" x2="430.0" y2="1230.0" stroke-opacity="0.24"/>
<line x1="941.2" y1="1178.3" x2="977.5" y2="1184.5" stroke-opacity="0.51"/>
<line x1="941.2" y1="1178.3" x2="963.1" y2="1163.0" stroke-opacity="0.38"/>
<line x1="941.2" y1="1178.3" x2="931.6" y2="1159.6" stroke-opacity="0.23"/>
<line x1="941.2" y1="1178.3" x2="962.8" y2="1211.4" stroke-opacity="0.51"/>
<line x1="941.2" y1="1178.3" x2="919.1" y2="1206.4" stroke-opacity="0.51"/>
<line x1="941.2" y1="1178.3" x2="901.8" y2="1177.3" stroke-opacity="0.37"/>
<line x1="941.2" y1="1178.3" x2="954.1" y2="1142.3" stroke-opacity="0.08"/>
<line x1="508.2" y1="1219.7" x2="519.9" y2="1237.7" stroke-opacity="0.27"/>
<line x1="508.2" y1="1219.7" x2="499.8" y2="1245.2" stroke-opacity="0.27"/>
<line x1="508.2" y1="1219.7" x2="545.9" y2="1212.9" stroke-opacity="0.22"/>
<line x1="508.2" y1="1219.7" x2="493.4" y2="1202.7" stroke-opacity="0.05"/>
<line x1="172.0" y1="1194.0" x2="179.1" y2="1230.1" stroke-opacity="0.80"/>
<line x1="172.0" y1="1194.0" x2="168.5" y2="1174.3" stroke-opacity="0.80"/>
<line x1="172.0" y1="1194.0" x2="146.3" y2="1180.4" stroke-opacity="0.80"/>
<line x1="172.0" y1="1194.0" x2="182.8" y2="1211.7" stroke-opacity="0.80"/>
<line x1="172.0" y1="1194.0" x2="187.5" y2="1179.1" stroke-opacity="0.80"/>
<line x1="172.0" y1="1194.0" x2="142.8" y2="1200.6" stroke-opacity="0.80"/>
<line x1="635.1" y1="1289.6" x2="619.1" y2="1333.0" stroke-opacity="0.80"/>
<line x1="635.1" y1="1289.6" x2="619.0" y2="1277.1" stroke-opacity="0.80"/>
<line x1="635.1" y1="1289.6" x2="647.3" y2="1264.0" stroke-opacity="0.80"/>
<line x1="635.1" y1="1289.6" x2="671.2" y2="1288.8" stroke-opacity="0.80"/>
<line x1="635.1" y1="1289.6" x2="600.7" y2="1263.0" stroke-opacity="0.80"/>
<line x1="635.1" y1="1289.6" x2="648.8" y2="1308.2" stroke-opacity="0.80"/>
<line x1="77.9" y1="1123.2" x2="102.7" y2="1103.8" stroke-opacity="0.80"/>
<line x1="77.9" y1="1123.2" x2="73.7" y2="1097.0" stroke-opacity="0.79"/>
<line x1="77.9" y1="1123.2" x2="90.5" y2="1148.4" stroke-opacity="0.80"/>
<line x1="77.9" y1="1123.2" x2="71.9" y2="1143.6" stroke-opacity="0.80"/>
<line x1="77.9" y1="1123.2" x2="102.7" y2="1128.8" stroke-opacity="0.80"/>
<line x1="74.3" y1="1295.3" x2="67.1" y2="1275.1" stroke-opacity="0.80"/>
<line x1="74.3" y1="1295.3" x2="89.1" y2="1268.5" stroke-opacity="0.80"/>
<line x1="74.3" y1="1295.3" x2="56.4" y2="1327.9" stroke-opacity="0.80"/>
<line x1="74.3" y1="1295.3" x2="98.4" y2="1323.5" stroke-opacity="0.80"/>
<line x1="74.3" y1="1295.3" x2="80.9" y2="1317.6" stroke-opacity="0.80"/>
<line x1="74.3" y1="1295.3" x2="107.6" y2="1300.4" stroke-opacity="0.80"/>
<line x1="74.3" y1="1295.3" x2="31.6" y2="1304.1" stroke-opacity="0.80"/>
<line x1="74.3" y1="1295.3" x2="39.0" y2="1279.6" stroke-opacity="0.80"/>
<line x1="1001.5" y1="1348.0" x2="1017.6" y2="1358.5" stroke-opacity="0.80"/>
<line x1="1001.5" y1="1348.0" x2="976.4" y2="1308.1" stroke-opacity="0.80"/>
<line x1="1001.5" y1="1348.0" x2="1013.1" y2="1319.1" stroke-opacity="0.80"/>
<line x1="1001.5" y1="1348.0" x2="975.1" y2="1334.0" stroke-opacity="0.80"/>
<line x1="1001.5" y1="1348.0" x2="951.3" y2="1352.3" stroke-opacity="0.80"/>
<line x1="660.1" y1="1229.3" x2="698.9" y2="1218.7" stroke-opacity="0.47"/>
<line x1="660.1" y1="1229.3" x2="635.2" y2="1242.7" stroke-opacity="0.57"/>
<line x1="660.1" y1="1229.3" x2="647.3" y2="1264.0" stroke-opacity="0.57"/>
<line x1="660.1" y1="1229.3" x2="661.3" y2="1210.6" stroke-opacity="0.32"/>
<line x1="660.1" y1="1229.3" x2="684.8" y2="1260.8" stroke-opacity="0.57"/>
<line x1="177.8" y1="1102.3" x2="201.4" y2="1111.7" stroke-opacity="0.11"/>
<line x1="177.8" y1="1102.3" x2="158.5" y2="1106.6" stroke-opacity="0.26"/>
<line x1="177.8" y1="1102.3" x2="150.4" y2="1089.2" stroke-opacity="0.26"/>
<line x1="177.8" y1="1102.3" x2="190.2" y2="1137.7" stroke-opacity="0.26"/>
<line x1="11.3" y1="1177.7" x2="-8.8" y2="1180.5" stroke-opacity="0.80"/>
<line x1="11.3" y1="1177.7" x2="-9.0" y2="1140.9" stroke-opacity="0.80"/>
<line x1="11.3" y1="1177.7" x2="3.1" y2="1195.3" stroke-opacity="0.80"/>
<line x1="11.3" y1="1177.7" x2="44.8" y2="1176.0" stroke-opacity="0.80"/>
<line x1="11.3" y1="1177.7" x2="21.3" y2="1157.0" stroke-opacity="0.80"/>
<line x1="11.3" y1="1177.7" x2="-19.0" y2="1204.9" stroke-opacity="0.80"/>
<line x1="11.3" y1="1177.7" x2="10.9" y2="1214.1" stroke-opacity="0.80"/>
<line x1="438.2" y1="1306.4" x2="413.8" y2="1288.8" stroke-opacity="0.80"/>
<line x1="438.2" y1="1306.4" x2="460.6" y2="1280.0" stroke-opacity="0.80"/>
<line x1="438.2" y1="1306.4" x2="460.2" y2="1348.7" stroke-opacity="0.80"/>
<line x1="438.2" y1="1306.4" x2="429.5" y2="1327.5" stroke-opacity="0.80"/>
<line x1="438.2" y1="1306.4" x2="438.1" y2="1282.8" stroke-opacity="0.80"/>
<line x1="438.2" y1="1306.4" x2="427.3" y2="1347.3" stroke-opacity="0.80"/>
<line x1="519.9" y1="1237.7" x2="499.8" y2="1245.2" stroke-opacity="0.52"/>
<line x1="519.9" y1="1237.7" x2="517.2" y2="1266.0" stroke-opacity="0.52"/>
<line x1="519.9" y1="1237.7" x2="552.7" y2="1234.6" stroke-opacity="0.52"/>
<line x1="519.9" y1="1237.7" x2="545.9" y2="1212.9" stroke-opacity="0.22"/>
<line x1="499.8" y1="1245.2" x2="481.5" y2="1268.4" stroke-opacity="0.60"/>
<line x1="499.8" y1="1245.2" x2="517.2" y2="1266.0" stroke-opacity="0.60"/>
<line x1="499.8" y1="1245.2" x2="493.4" y2="1202.7" stroke-opacity="0.05"/>
<line x1="1017.6" y1="1358.5" x2="976.4" y2="1308.1" stroke-opacity="0.80"/>
<line x1="1017.6" y1="1358.5" x2="1013.1" y2="1319.1" stroke-opacity="0.80"/>
<line x1="1017.6" y1="1358.5" x2="975.1" y2="1334.0" stroke-opacity="0.80"/>
<line x1="1017.6" y1="1358.5" x2="951.3" y2="1352.3" stroke-opacity="0.80"/>
<line x1="853.8" y1="1260.7" x2="868.6" y2="1238.2" stroke-opacity="0.80"/>
<line x1="853.8" y1="1260.7" x2="839.3" y2="1246.7" stroke-opacity="0.80"/>
<line x1="853.8" y1="1260.7" x2="867.6" y2="1294.0" stroke-opacity="0.80"/>
<line x1="853.8" y1="1260.7" x2="844.2" y2="1287.5" stroke-opacity="0.80"/>
<line x1="853.8" y1="1260.7" x2="884.9" y2="1262.0" stroke-opacity="0.80"/>
<line x1="976.4" y1="1308.1" x2="982.6" y2="1277.7" stroke-opacity="0.80"/>
<line x1="976.4" y1="1308.1" x2="1013.1" y2="1319.1" stroke-opacity="0.80"/>
<line x1="976.4" y1="1308.1" x2="975.1" y2="1334.0" stroke-opacity="0.80"/>
<line x1="976.4" y1="1308.1" x2="1002.0" y2="1293.6" stroke-opacity="0.80"/>
<line x1="976.4" y1="1308.1" x2="952.1" y2="1324.2" stroke-opacity="0.80"/>
<line x1="976.4" y1="1308.1" x2="960.1" y2="1282.3" stroke-opacity="0.80"/>
<line x1="976.4" y1="1308.1" x2="955.2" y2="1302.0" stroke-opacity="0.80"/>
<line x1="-19.4" y1="1091.3" x2="-2.8" y2="1111.5" stroke-opacity="0.75"/>
<line x1="-19.4" y1="1091.3" x2="-0.1" y2="1066.2" stroke-opacity="0.42"/>
<line x1="-19.4" y1="1091.3" x2="-1.5" y2="1088.3" stroke-opacity="0.71"/>
<line x1="-19.4" y1="1091.3" x2="-9.0" y2="1140.9" stroke-opacity="0.75"/>
<line x1="-19.4" y1="1091.3" x2="20.8" y2="1101.8" stroke-opacity="0.75"/>
<line x1="999.6" y1="1155.1" x2="977.5" y2="1184.5" stroke-opacity="0.40"/>
<line x1="999.6" y1="1155.1" x2="1001.3" y2="1173.8" stroke-opacity="0.40"/>
<line x1="999.6" y1="1155.1" x2="963.1" y2="1163.0" stroke-opacity="0.38"/>
<line x1="999.6" y1="1155.1" x2="1006.2" y2="1195.5" stroke-opacity="0.40"/>
<line x1="56.0" y1="1234.0" x2="73.7" y2="1218.1" stroke-opacity="0.80"/>
<line x1="56.0" y1="1234.0" x2="58.3" y2="1205.7" stroke-opacity="0.80"/>
<line x1="56.0" y1="1234.0" x2="69.9" y2="1249.9" stroke-opacity="0.80"/>
<line x1="56.0" y1="1234.0" x2="34.0" y2="1256.3" stroke-opacity="0.80"/>
<line x1="56.0" y1="1234.0" x2="39.9" y2="1207.2" stroke-opacity="0.80"/>
<line x1="56.0" y1="1234.0" x2="29.9" y2="1232.4" stroke-opacity="0.80"/>
<line x1="982.6" y1="1277.7" x2="999.7" y2="1243.4" stroke-opacity="0.80"/>
<line x1="982.6" y1="1277.7" x2="949.9" y2="1265.6" stroke-opacity="0.80"/>
<line x1="982.6" y1="1277.7" x2="1002.0" y2="1293.6" stroke-opacity="0.80"/>
<line x1="982.6" y1="1277.7" x2="1019.9" y2="1238.4" stroke-opacity="0.80"/>
<line x1="982.6" y1="1277.7" x2="960.1" y2="1282.3" stroke-opacity="0.80"/>
<line x1="982.6" y1="1277.7" x2="955.2" y2="1302.0" stroke-opacity="0.80"/>
<line x1="982.6" y1="1277.7" x2="969.1" y2="1264.3" stroke-opacity="0.80"/>
<line x1="102.7" y1="1103.8" x2="73.7" y2="1097.0" stroke-opacity="0.79"/>
<line x1="102.7" y1="1103.8" x2="132.1" y2="1125.7" stroke-opacity="0.80"/>
<line x1="102.7" y1="1103.8" x2="90.1" y2="1068.6" stroke-opacity="0.40"/>
<line x1="102.7" y1="1103.8" x2="102.7" y2="1128.8" stroke-opacity="0.80"/>
<line x1="85.1" y1="1040.4" x2="57.3" y2="1060.7" stroke-opacity="0.03"/>
<line x1="85.1" y1="1040.4" x2="90.1" y2="1068.6" stroke-opacity="0.03"/>
<line x1="178.3" y1="1268.8" x2="179.1" y2="1230.1" stroke-opacity="0.80"/>
<line x1="178.3" y1="1268.8" x2="142.9" y2="1276.6" stroke-opacity="0.80"/>
<line x1="178.3" y1="1268.8" x2="201.8" y2="1245.1" stroke-opacity="0.80"/>
<line x1="178.3" y1="1268.8" x2="209.3" y2="1280.2" stroke-opacity="0.80"/>
<line x1="178.3" y1="1268.8" x2="146.2" y2="1254.8" stroke-opacity="0.80"/>
<line x1="116.2" y1="1238.9" x2="89.1" y2="1268.5" stroke-opacity="0.80"/>
<line x1="116.2" y1="1238.9" x2="127.4" y2="1262.6" stroke-opacity="0.80"/>
<line x1="116.2" y1="1238.9" x2="108.7" y2="1202.8" stroke-opacity="0.80"/>
<line x1="116.2" y1="1238.9" x2="146.2" y2="1254.8" stroke-opacity="0.80"/>
<line x1="116.2" y1="1238.9" x2="136.8" y2="1218.1" stroke-opacity="0.80"/>
<line x1="101.2" y1="1163.1" x2="121.6" y2="1188.8" stroke-opacity="0.80"/>
<line x1="101.2" y1="1163.1" x2="66.1" y2="1169.9" stroke-opacity="0.80"/>
<line x1="101.2" y1="1163.1" x2="90.5" y2="1148.4" stroke-opacity="0.80"/>
<line x1="101.2" y1="1163.1" x2="128.7" y2="1151.4" stroke-opacity="0.80"/>
<line x1="101.2" y1="1163.1" x2="71.9" y2="1143.6" stroke-opacity="0.80"/>
<line x1="101.2" y1="1163.1" x2="102.7" y2="1128.8" stroke-opacity="0.80"/>
<line x1="201.4" y1="1111.7" x2="190.2" y2="1137.7" stroke-opacity="0.11"/>
<line x1="296.3" y1="1320.9" x2="311.7" y2="1359.8" stroke-opacity="0.80"/>
<line x1="296.3" y1="1320.9" x2="308.0" y2="1305.3" stroke-opacity="0.80"/>
<line x1="296.3" y1="1320.9" x2="313.2" y2="1329.4" stroke-opacity="0.80"/>
<line x1="296.3" y1="1320.9" x2="283.7" y2="1349.7" stroke-opacity="0.80"/>
<line x1="296.3" y1="1320.9" x2="267.2" y2="1302.1" stroke-opacity="0.80"/>
<line x1="296.3" y1="1320.9" x2="302.5" y2="1344.3" stroke-opacity="0.80"/>
<line x1="199.1" y1="1154.1" x2="163.3" y2="1145.4" stroke-opacity="0.70"/>
<line x1="199.1" y1="1154.1" x2="168.5" y2="1174.3" stroke-opacity="0.70"/>
<line x1="199.1" y1="1154.1" x2="187.5" y2="1179.1" stroke-opacity="0.70"/>
<line x1="199.1" y1="1154.1" x2="206.3" y2="1173.6" stroke-opacity="0.70"/>
<line x1="199.1" y1="1154.1" x2="190.2" y2="1137.7" stroke-opacity="0.59"/>
<line x1="868.6" y1="1238.2" x2="897.5" y2="1225.2" stroke-opacity="0.80"/>
<line x1="868.6" y1="1238.2" x2="878.0" y2="1214.8" stroke-opacity="0.79"/>
<line x1="868.6" y1="1238.2" x2="857.4" y2="1210.4" stroke-opacity="0.66"/>
<line x1="868.6" y1="1238.2" x2="839.3" y2="1246.7" stroke-opacity="0.80"/>
<line x1="868.6" y1="1238.2" x2="884.9" y2="1262.0" stroke-opacity="0.80"/>
<line x1="84.3" y1="1356.4" x2="44.4" y2="1343.5" stroke-opacity="0.80"/>
<line x1="84.3" y1="1356.4" x2="56.4" y2="1327.9" stroke-opacity="0.80"/>
<line x1="84.3" y1="1356.4" x2="98.4" y2="1323.5" stroke-opacity="0.80"/>
<line x1="84.3" y1="1356.4" x2="80.9" y2="1317.6" stroke-opacity="0.80"/>
<line x1="84.3" y1="1356.4" x2="109.0" y2="1351.0" stroke-opacity="0.80"/>
<line x1="73.7" y1="1218.1" x2="58.3" y2="1205.7" stroke-opacity="0.80"/>
<line x1="73.7" y1="1218.1" x2="69.9" y2="1249.9" stroke-opacity="0.80"/>
<line x1="73.7" y1="1218.1" x2="108.7" y2="1202.8" stroke-opacity="0.80"/>
<line x1="73.7" y1="1218.1" x2="39.9" y2="1207.2" stroke-opacity="0.80"/>
<line x1="232.7" y1="1224.4" x2="227.9" y2="1259.6" stroke-opacity="0.80"/>
<line x1="232.7" y1="1224.4" x2="210.3" y2="1199.1" stroke-opacity="0.80"/>
<line x1="232.7" y1="1224.4" x2="257.2" y2="1201.8" stroke-opacity="0.64"/>
<line x1="232.7" y1="1224.4" x2="210.1" y2="1217.2" stroke-opacity="0.80"/>
<line x1="232.7" y1="1224.4" x2="255.3" y2="1220.2" stroke-opacity="0.80"/>
<line x1="232.7" y1="1224.4" x2="252.4" y2="1247.1" stroke-opacity="0.80"/>
<line x1="977.5" y1="1184.5" x2="1001.3" y2="1173.8" stroke-opacity="0.65"/>
<line x1="977.5" y1="1184.5" x2="985.8" y2="1213.1" stroke-opacity="0.72"/>
<line x1="977.5" y1="1184.5" x2="963.1" y2="1163.0" stroke-opacity="0.38"/>
<line x1="977.5" y1="1184.5" x2="962.8" y2="1211.4" stroke-opacity="0.72"/>
<line x1="977.5" y1="1184.5" x2="1006.2" y2="1195.5" stroke-opacity="0.72"/>
<line x1="577.6" y1="1314.6" x2="619.1" y2="1333.0" stroke-opacity="0.80"/>
<line x1="577.6" y1="1314.6" x2="538.4" y2="1288.9" stroke-opacity="0.80"/>
<line x1="577.6" y1="1314.6" x2="549.2" y2="1345.4" stroke-opacity="0.80"/>
<line x1="577.6" y1="1314.6" x2="568.6" y2="1295.0" stroke-opacity="0.80"/>
<line x1="577.6" y1="1314.6" x2="588.9" y2="1339.9" stroke-opacity="0.80"/>
<line x1="924.8" y1="1298.1" x2="916.9" y2="1316.2" stroke-opacity="0.80"/>
<line x1="924.8" y1="1298.1" x2="894.5" y2="1290.9" stroke-opacity="0.80"/>
<line x1="924.8" y1="1298.1" x2="952.1" y2="1324.2" stroke-opacity="0.80"/>
<line x1="924.8" y1="1298.1" x2="960.1" y2="1282.3" stroke-opacity="0.80"/>
<line x1="924.8" y1="1298.1" x2="955.2" y2="1302.0" stroke-opacity="0.80"/>
<line x1="749.0" y1="1339.7" x2="709.0" y2="1347.3" stroke-opacity="0.80"/>
<line x1="749.0" y1="1339.7" x2="730.8" y2="1298.2" stroke-opacity="0.80"/>
<line x1="749.0" y1="1339.7" x2="750.4" y2="1295.6" stroke-opacity="0.80"/>
<line x1="749.0" y1="1339.7" x2="777.5" y2="1299.2" stroke-opacity="0.80"/>
<line x1="749.0" y1="1339.7" x2="734.6" y2="1326.0" stroke-opacity="0.80"/>
<line x1="184.5" y1="1343.0" x2="201.8" y2="1326.0" stroke-opacity="0.80"/>
<line x1="184.5" y1="1343.0" x2="206.9" y2="1359.4" stroke-opacity="0.80"/>
<line x1="184.5" y1="1343.0" x2="221.4" y2="1341.2" stroke-opacity="0.80"/>
<line x1="184.5" y1="1343.0" x2="238.9" y2="1353.1" stroke-opacity="0.80"/>
<line x1="184.5" y1="1343.0" x2="179.2" y2="1319.3" stroke-opacity="0.80"/>
<line x1="897.5" y1="1225.2" x2="878.0" y2="1214.8" stroke-opacity="0.79"/>
<line x1="897.5" y1="1225.2" x2="922.0" y2="1244.4" stroke-opacity="0.80"/>
<line x1="897.5" y1="1225.2" x2="884.0" y2="1195.5" stroke-opacity="0.55"/>
<line x1="897.5" y1="1225.2" x2="919.1" y2="1206.4" stroke-opacity="0.80"/>
<line x1="897.5" y1="1225.2" x2="884.9" y2="1262.0" stroke-opacity="0.80"/>
<line x1="20.2" y1="1347.3" x2="-1.4" y2="1329.5" stroke-opacity="0.80"/>
<line x1="20.2" y1="1347.3" x2="44.4" y2="1343.5" stroke-opacity="0.80"/>
<line x1="20.2" y1="1347.3" x2="56.4" y2="1327.9" stroke-opacity="0.80"/>
<line x1="20.2" y1="1347.3" x2="-18.6" y2="1299.3" stroke-opacity="0.80"/>
<line x1="20.2" y1="1347.3" x2="-9.1" y2="1357.2" stroke-opacity="0.80"/>
<line x1="20.2" y1="1347.3" x2="31.6" y2="1304.1" stroke-opacity="0.80"/>
<line x1="227.9" y1="1259.6" x2="247.3" y2="1300.1" stroke-opacity="0.80"/>
<line x1="227.9" y1="1259.6" x2="201.8" y2="1245.1" stroke-opacity="0.80"/>
<line x1="227.9" y1="1259.6" x2="209.3" y2="1280.2" stroke-opacity="0.80"/>
<line x1="227.9" y1="1259.6" x2="252.4" y2="1247.1" stroke-opacity="0.80"/>
<line x1="227.9" y1="1259.6" x2="251.7" y2="1268.3" stroke-opacity="0.80"/>
<line x1="247.3" y1="1300.1" x2="248.6" y2="1329.8" stroke-opacity="0.80"/>
<line x1="247.3" y1="1300.1" x2="209.3" y2="1280.2" stroke-opacity="0.80"/>
<line x1="247.3" y1="1300.1" x2="267.2" y2="1302.1" stroke-opacity="0.80"/>
<line x1="247.3" y1="1300.1" x2="251.7" y2="1268.3" stroke-opacity="0.80"/>
<line x1="51.5" y1="1097.7" x2="32.5" y2="1086.5" stroke-opacity="0.67"/>
<line x1="51.5" y1="1097.7" x2="41.6" y2="1124.9" stroke-opacity="0.80"/>
<line x1="51.5" y1="1097.7" x2="73.7" y2="1097.0" stroke-opacity="0.79"/>
<line x1="51.5" y1="1097.7" x2="20.8" y2="1101.8" stroke-opacity="0.80"/>
<line x1="51.5" y1="1097.7" x2="61.6" y2="1082.0" stroke-opacity="0.60"/>
<line x1="-2.8" y1="1111.5" x2="-1.5" y2="1088.3" stroke-opacity="0.71"/>
<line x1="-2.8" y1="1111.5" x2="-9.0" y2="1140.9" stroke-opacity="0.80"/>
<line x1="-2.8" y1="1111.5" x2="20.8" y2="1101.8" stroke-opacity="0.80"/>
<line x1="-2.8" y1="1111.5" x2="18.3" y2="1137.6" stroke-opacity="0.80"/>
<line x1="163.3" y1="1145.4" x2="168.5" y2="1174.3" stroke-opacity="0.80"/>
<line x1="163.3" y1="1145.4" x2="128.7" y2="1151.4" stroke-opacity="0.80"/>
<line x1="163.3" y1="1145.4" x2="132.1" y2="1125.7" stroke-opacity="0.80"/>
<line x1="163.3" y1="1145.4" x2="158.5" y2="1106.6" stroke-opacity="0.55"/>
<line x1="163.3" y1="1145.4" x2="190.2" y2="1137.7" stroke-opacity="0.59"/>
<line x1="356.6" y1="1322.9" x2="313.2" y2="1329.4" stroke-opacity="0.80"/>
<line x1="356.6" y1="1322.9" x2="328.4" y2="1287.9" stroke-opacity="0.80"/>
<line x1="356.6" y1="1322.9" x2="385.6" y2="1325.2" stroke-opacity="0.80"/>
<line x1="356.6" y1="1322.9" x2="366.4" y2="1290.9" stroke-opacity="0.80"/>
<line x1="356.6" y1="1322.9" x2="353.3" y2="1276.2" stroke-opacity="0.80"/>
<line x1="999.7" y1="1243.4" x2="1019.9" y2="1238.4" stroke-opacity="0.80"/>
<line x1="999.7" y1="1243.4" x2="985.8" y2="1213.1" stroke-opacity="0.80"/>
<line x1="999.7" y1="1243.4" x2="976.1" y2="1237.7" stroke-opacity="0.80"/>
<line x1="999.7" y1="1243.4" x2="969.1" y2="1264.3" stroke-opacity="0.80"/>
<line x1="698.9" y1="1218.7" x2="706.3" y2="1189.1" stroke-opacity="0.08"/>
<line x1="698.9" y1="1218.7" x2="717.0" y2="1214.0" stroke-opacity="0.43"/>
<line x1="698.9" y1="1218.7" x2="661.3" y2="1210.6" stroke-opacity="0.32"/>
<line x1="698.9" y1="1218.7" x2="703.2" y2="1253.4" stroke-opacity="0.47"/>
<line x1="-1.4" y1="1329.5" x2="44.4" y2="1343.5" stroke-opacity="0.80"/>
<line x1="-1.4" y1="1329.5" x2="-18.6" y2="1299.3" stroke-opacity="0.80"/>
<line x1="-1.4" y1="1329.5" x2="-9.1" y2="1357.2" stroke-opacity="0.80"/>
<line x1="-1.4" y1="1329.5" x2="31.6" y2="1304.1" stroke-opacity="0.80"/>
<line x1="709.0" y1="1347.3" x2="689.7" y2="1329.9" stroke-opacity="0.80"/>
<line x1="709.0" y1="1347.3" x2="709.1" y2="1307.0" stroke-opacity="0.80"/>
<line x1="709.0" y1="1347.3" x2="734.6" y2="1326.0" stroke-opacity="0.80"/>
<line x1="709.0" y1="1347.3" x2="686.8" y2="1354.5" stroke-opacity="0.80"/>
<line x1="2.1" y1="1236.3" x2="3.1" y2="1195.3" stroke-opacity="0.80"/>
<line x1="2.1" y1="1236.3" x2="34.0" y2="1256.3" stroke-opacity="0.80"/>
<line x1="2.1" y1="1236.3" x2="-19.0" y2="1204.9" stroke-opacity="0.80"/>
<line x1="2.1" y1="1236.3" x2="29.9" y2="1232.4" stroke-opacity="0.80"/>
<line x1="2.1" y1="1236.3" x2="10.9" y2="1214.1" stroke-opacity="0.80"/>
<line x1="481.5" y1="1268.4" x2="517.2" y2="1266.0" stroke-opacity="0.80"/>
<line x1="481.5" y1="1268.4" x2="460.6" y2="1280.0" stroke-opacity="0.80"/>
<line x1="481.5" y1="1268.4" x2="509.7" y2="1288.1" stroke-opacity="0.80"/>
<line x1="481.5" y1="1268.4" x2="438.1" y2="1282.8" stroke-opacity="0.80"/>
<line x1="311.7" y1="1359.8" x2="313.2" y2="1329.4" stroke-opacity="0.80"/>
<line x1="311.7" y1="1359.8" x2="283.7" y2="1349.7" stroke-opacity="0.80"/>
<line x1="311.7" y1="1359.8" x2="265.5" y2="1356.7" stroke-opacity="0.80"/>
<line x1="311.7" y1="1359.8" x2="302.5" y2="1344.3" stroke-opacity="0.80"/>
<line x1="58.3" y1="1205.7" x2="66.1" y2="1169.9" stroke-opacity="0.80"/>
<line x1="58.3" y1="1205.7" x2="44.8" y2="1176.0" stroke-opacity="0.80"/>
<line x1="58.3" y1="1205.7" x2="39.9" y2="1207.2" stroke-opacity="0.80"/>
<line x1="746.6" y1="1259.3" x2="744.4" y2="1217.5" stroke-opacity="0.51"/>
<line x1="746.6" y1="1259.3" x2="730.8" y2="1298.2" stroke-opacity="0.80"/>
<line x1="746.6" y1="1259.3" x2="750.4" y2="1295.6" stroke-opacity="0.80"/>
<line x1="746.6" y1="1259.3" x2="768.4" y2="1275.6" stroke-opacity="0.80"/>
<line x1="746.6" y1="1259.3" x2="703.2" y2="1253.4" stroke-opacity="0.80"/>
<line x1="805.0" y1="1331.1" x2="819.7" y2="1345.9" stroke-opacity="0.80"/>
<line x1="805.0" y1="1331.1" x2="828.3" y2="1326.2" stroke-opacity="0.80"/>
<line x1="805.0" y1="1331.1" x2="777.5" y2="1299.2" stroke-opacity="0.80"/>
<line x1="805.0" y1="1331.1" x2="798.0" y2="1289.0" stroke-opacity="0.80"/>
<line x1="805.0" y1="1331.1" x2="812.5" y2="1305.2" stroke-opacity="0.80"/>
<line x1="345.9" y1="1252.9" x2="320.0" y2="1246.4" stroke-opacity="0.80"/>
<line x1="345.9" y1="1252.9" x2="328.4" y2="1287.9" stroke-opacity="0.80"/>
<line x1="345.9" y1="1252.9" x2="349.6" y2="1230.7" stroke-opacity="0.71"/>
<line x1="345.9" y1="1252.9" x2="367.4" y2="1245.1" stroke-opacity="0.80"/>
<line x1="345.9" y1="1252.9" x2="305.9" y2="1263.4" stroke-opacity="0.80"/>
<line x1="345.9" y1="1252.9" x2="353.3" y2="1276.2" stroke-opacity="0.80"/>
<line x1="345.9" y1="1252.9" x2="369.5" y2="1265.8" stroke-opacity="0.80"/>
<line x1="916.9" y1="1316.2" x2="894.5" y2="1290.9" stroke-opacity="0.80"/>
<line x1="916.9" y1="1316.2" x2="935.3" y2="1339.6" stroke-opacity="0.80"/>
<line x1="916.9" y1="1316.2" x2="952.1" y2="1324.2" stroke-opacity="0.80"/>
<line x1="916.9" y1="1316.2" x2="925.7" y2="1357.3" stroke-opacity="0.80"/>
<line x1="916.9" y1="1316.2" x2="913.8" y2="1342.9" stroke-opacity="0.80"/>
<line x1="413.8" y1="1288.8" x2="389.3" y2="1289.3" stroke-opacity="0.80"/>
<line x1="413.8" y1="1288.8" x2="398.9" y2="1253.0" stroke-opacity="0.80"/>
<line x1="413.8" y1="1288.8" x2="460.6" y2="1280.0" stroke-opacity="0.80"/>
<line x1="413.8" y1="1288.8" x2="385.6" y2="1325.2" stroke-opacity="0.80"/>
<line x1="413.8" y1="1288.8" x2="429.5" y2="1327.5" stroke-opacity="0.80"/>
<line x1="413.8" y1="1288.8" x2="438.1" y2="1282.8" stroke-opacity="0.80"/>
<line x1="878.0" y1="1214.8" x2="857.4" y2="1210.4" stroke-opacity="0.66"/>
<line x1="878.0" y1="1214.8" x2="884.0" y2="1195.5" stroke-opacity="0.55"/>
<line x1="878.0" y1="1214.8" x2="919.1" y2="1206.4" stroke-opacity="0.79"/>
<line x1="586.0" y1="1227.0" x2="552.7" y2="1234.6" stroke-opacity="0.46"/>
<line x1="586.0" y1="1227.0" x2="579.5" y2="1257.0" stroke-opacity="0.46"/>
<line x1="586.0" y1="1227.0" x2="600.7" y2="1263.0" stroke-opacity="0.46"/>
<line x1="586.0" y1="1227.0" x2="571.7" y2="1204.7" stroke-opacity="0.14"/>
<line x1="586.0" y1="1227.0" x2="604.7" y2="1214.7" stroke-opacity="0.31"/>
<line x1="1013.1" y1="1319.1" x2="975.1" y2="1334.0" stroke-opacity="0.80"/>
<line x1="1013.1" y1="1319.1" x2="1002.0" y2="1293.6" stroke-opacity="0.80"/>
<line x1="744.4" y1="1217.5" x2="717.0" y2="1214.0" stroke-opacity="0.43"/>
<line x1="744.4" y1="1217.5" x2="758.9" y2="1201.6" stroke-opacity="0.31"/>
<line x1="744.4" y1="1217.5" x2="775.5" y2="1218.0" stroke-opacity="0.51"/>
<line x1="67.1" y1="1275.1" x2="89.1" y2="1268.5" stroke-opacity="0.80"/>
<line x1="67.1" y1="1275.1" x2="69.9" y2="1249.9" stroke-opacity="0.80"/>
<line x1="67.1" y1="1275.1" x2="34.0" y2="1256.3" stroke-opacity="0.80"/>
<line x1="67.1" y1="1275.1" x2="39.0" y2="1279.6" stroke-opacity="0.80"/>
<line x1="706.3" y1="1189.1" x2="717.0" y2="1214.0" stroke-opacity="0.08"/>
<line x1="619.1" y1="1333.0" x2="659.8" y2="1356.3" stroke-opacity="0.80"/>
<line x1="619.1" y1="1333.0" x2="588.9" y2="1339.9" stroke-opacity="0.80"/>
<line x1="619.1" y1="1333.0" x2="648.8" y2="1308.2" stroke-opacity="0.80"/>
<line x1="293.1" y1="1250.6" x2="320.0" y2="1246.4" stroke-opacity="0.80"/>
<line x1="293.1" y1="1250.6" x2="281.8" y2="1267.8" stroke-opacity="0.80"/>
<line x1="293.1" y1="1250.6" x2="267.9" y2="1237.6" stroke-opacity="0.80"/>
<line x1="293.1" y1="1250.6" x2="252.4" y2="1247.1" stroke-opacity="0.80"/>
<line x1="293.1" y1="1250.6" x2="305.9" y2="1263.4" stroke-opacity="0.80"/>
<line x1="922.0" y1="1244.4" x2="949.9" y2="1265.6" stroke-opacity="0.80"/>
<line x1="922.0" y1="1244.4" x2="919.1" y2="1206.4" stroke-opacity="0.80"/>
<line x1="922.0" y1="1244.4" x2="943.8" y2="1246.8" stroke-opacity="0.80"/>
<line x1="922.0" y1="1244.4" x2="884.9" y2="1262.0" stroke-opacity="0.80"/>
<line x1="320.0" y1="1246.4" x2="349.6" y2="1230.7" stroke-opacity="0.71"/>
<line x1="320.0" y1="1246.4" x2="318.4" y2="1206.5" stroke-opacity="0.46"/>
<line x1="320.0" y1="1246.4" x2="305.9" y2="1263.4" stroke-opacity="0.80"/>
<line x1="121.6" y1="1188.8" x2="146.3" y2="1180.4" stroke-opacity="0.80"/>
<line x1="121.6" y1="1188.8" x2="108.7" y2="1202.8" stroke-opacity="0.80"/>
<line x1="121.6" y1="1188.8" x2="136.8" y2="1218.1" stroke-opacity="0.80"/>
<line x1="121.6" y1="1188.8" x2="142.8" y2="1200.6" stroke-opacity="0.80"/>
<line x1="850.6" y1="1308.6" x2="894.5" y2="1290.9" stroke-opacity="0.80"/>
<line x1="850.6" y1="1308.6" x2="859.1" y2="1326.2" stroke-opacity="0.80"/>
<line x1="850.6" y1="1308.6" x2="828.3" y2="1326.2" stroke-opacity="0.80"/>
<line x1="850.6" y1="1308.6" x2="867.6" y2="1294.0" stroke-opacity="0.80"/>
<line x1="850.6" y1="1308.6" x2="844.2" y2="1287.5" stroke-opacity="0.80"/>
<line x1="850.6" y1="1308.6" x2="812.5" y2="1305.2" stroke-opacity="0.80"/>
<line x1="850.6" y1="1308.6" x2="878.4" y2="1347.7" stroke-opacity="0.80"/>
<line x1="308.0" y1="1305.3" x2="313.2" y2="1329.4" stroke-opacity="0.80"/>
<line x1="308.0" y1="1305.3" x2="328.4" y2="1287.9" stroke-opacity="0.80"/>
<line x1="308.0" y1="1305.3" x2="267.2" y2="1302.1" stroke-opacity="0.80"/>
<line x1="308.0" y1="1305.3" x2="302.5" y2="1344.3" stroke-opacity="0.80"/>
<line x1="1001.3" y1="1173.8" x2="985.8" y2="1213.1" stroke-opacity="0.65"/>
<line x1="1001.3" y1="1173.8" x2="963.1" y2="1163.0" stroke-opacity="0.38"/>
<line x1="1001.3" y1="1173.8" x2="1006.2" y2="1195.5" stroke-opacity="0.65"/>
<line x1="717.0" y1="1214.0" x2="703.2" y2="1253.4" stroke-opacity="0.43"/>
<line x1="-0.1" y1="1066.2" x2="-1.5" y2="1088.3" stroke-opacity="0.42"/>
<line x1="-0.1" y1="1066.2" x2="32.5" y2="1086.5" stroke-opacity="0.42"/>
<line x1="-0.1" y1="1066.2" x2="21.1" y2="1040.7" stroke-opacity="0.06"/>
<line x1="-0.1" y1="1066.2" x2="32.0" y2="1056.1" stroke-opacity="0.26"/>
<line x1="635.2" y1="1242.7" x2="619.0" y2="1277.1" stroke-opacity="0.72"/>
<line x1="635.2" y1="1242.7" x2="647.3" y2="1264.0" stroke-opacity="0.72"/>
<line x1="635.2" y1="1242.7" x2="661.3" y2="1210.6" stroke-opacity="0.32"/>
<line x1="635.2" y1="1242.7" x2="600.7" y2="1263.0" stroke-opacity="0.72"/>
<line x1="635.2" y1="1242.7" x2="604.7" y2="1214.7" stroke-opacity="0.31"/>
<line x1="819.7" y1="1345.9" x2="859.1" y2="1326.2" stroke-opacity="0.80"/>
<line x1="819.7" y1="1345.9" x2="828.3" y2="1326.2" stroke-opacity="0.80"/>
<line x1="819.7" y1="1345.9" x2="853.8" y2="1356.7" stroke-opacity="0.80"/>
<line x1="819.7" y1="1345.9" x2="812.5" y2="1305.2" stroke-opacity="0.80"/>
<line x1="-8.8" y1="1180.5" x2="-9.0" y2="1140.9" stroke-opacity="0.80"/>
<line x1="-8.8" y1="1180.5" x2="3.1" y2="1195.3" stroke-opacity="0.80"/>
<line x1="-8.8" y1="1180.5" x2="21.3" y2="1157.0" stroke-opacity="0.80"/>
<line x1="-8.8" y1="1180.5" x2="-19.0" y2="1204.9" stroke-opacity="0.80"/>
<line x1="-8.8" y1="1180.5" x2="10.9" y2="1214.1" stroke-opacity="0.80"/>
<line x1="619.0" y1="1277.1" x2="647.3" y2="1264.0" stroke-opacity="0.80"/>
<line x1="619.0" y1="1277.1" x2="579.5" y2="1257.0" stroke-opacity="0.80"/>
<line x1="619.0" y1="1277.1" x2="600.7" y2="1263.0" stroke-opacity="0.80"/>
<line x1="619.0" y1="1277.1" x2="648.8" y2="1308.2" stroke-opacity="0.80"/>
<line x1="389.3" y1="1289.3" x2="398.9" y2="1253.0" stroke-opacity="0.80"/>
<line x1="389.3" y1="1289.3" x2="385.6" y2="1325.2" stroke-opacity="0.80"/>
<line x1="389.3" y1="1289.3" x2="366.4" y2="1290.9" stroke-opacity="0.80"/>
<line x1="389.3" y1="1289.3" x2="369.5" y2="1265.8" stroke-opacity="0.80"/>
<line x1="949.9" y1="1265.6" x2="943.8" y2="1246.8" stroke-opacity="0.80"/>
<line x1="949.9" y1="1265.6" x2="960.1" y2="1282.3" stroke-opacity="0.80"/>
<line x1="949.9" y1="1265.6" x2="969.1" y2="1264.3" stroke-opacity="0.80"/>
<line x1="371.9" y1="1213.4" x2="349.6" y2="1230.7" stroke-opacity="0.44"/>
<line x1="371.9" y1="1213.4" x2="346.7" y2="1190.1" stroke-opacity="0.18"/>
<line x1="371.9" y1="1213.4" x2="367.4" y2="1245.1" stroke-opacity="0.44"/>
<line x1="371.9" y1="1213.4" x2="402.7" y2="1228.1" stroke-opacity="0.44"/>
<line x1="894.5" y1="1290.9" x2="867.6" y2="1294.0" stroke-opacity="0.80"/>
<line x1="894.5" y1="1290.9" x2="884.9" y2="1262.0" stroke-opacity="0.80"/>
<line x1="730.8" y1="1298.2" x2="750.4" y2="1295.6" stroke-opacity="0.80"/>
<line x1="730.8" y1="1298.2" x2="709.1" y2="1307.0" stroke-opacity="0.80"/>
<line x1="730.8" y1="1298.2" x2="702.6" y2="1280.9" stroke-opacity="0.80"/>
<line x1="730.8" y1="1298.2" x2="734.6" y2="1326.0" stroke-opacity="0.80"/>
<line x1="647.3" y1="1264.0" x2="684.8" y2="1260.8" stroke-opacity="0.80"/>
<line x1="647.3" y1="1264.0" x2="671.2" y2="1288.8" stroke-opacity="0.80"/>
<line x1="201.8" y1="1326.0" x2="206.9" y2="1359.4" stroke-opacity="0.80"/>
<line x1="201.8" y1="1326.0" x2="221.4" y2="1341.2" stroke-opacity="0.80"/>
<line x1="201.8" y1="1326.0" x2="238.9" y2="1353.1" stroke-opacity="0.80"/>
<line x1="201.8" y1="1326.0" x2="179.2" y2="1319.3" stroke-opacity="0.80"/>
<line x1="538.4" y1="1288.9" x2="517.2" y2="1266.0" stroke-opacity="0.80"/>
<line x1="538.4" y1="1288.9" x2="524.3" y2="1338.7" stroke-opacity="0.80"/>
<line x1="538.4" y1="1288.9" x2="509.7" y2="1288.1" stroke-opacity="0.80"/>
<line x1="538.4" y1="1288.9" x2="505.9" y2="1307.4" stroke-opacity="0.80"/>
<line x1="538.4" y1="1288.9" x2="568.6" y2="1295.0" stroke-opacity="0.80"/>
<line x1="313.2" y1="1329.4" x2="283.7" y2="1349.7" stroke-opacity="0.80"/>
<line x1="313.2" y1="1329.4" x2="302.5" y2="1344.3" stroke-opacity="0.80"/>
<line x1="66.1" y1="1169.9" x2="44.8" y2="1176.0" stroke-opacity="0.80"/>
<line x1="66.1" y1="1169.9" x2="90.5" y2="1148.4" stroke-opacity="0.80"/>
<line x1="66.1" y1="1169.9" x2="42.5" y2="1150.3" stroke-opacity="0.80"/>
<line x1="66.1" y1="1169.9" x2="71.9" y2="1143.6" stroke-opacity="0.80"/>
<line x1="328.4" y1="1287.9" x2="366.4" y2="1290.9" stroke-opacity="0.80"/>
<line x1="328.4" y1="1287.9" x2="305.9" y2="1263.4" stroke-opacity="0.80"/>
<line x1="328.4" y1="1287.9" x2="353.3" y2="1276.2" stroke-opacity="0.80"/>
<line x1="126.1" y1="1070.5" x2="126.5" y2="1052.1" stroke-opacity="0.16"/>
<line x1="126.1" y1="1070.5" x2="143.4" y2="1062.2" stroke-opacity="0.14"/>
<line x1="126.1" y1="1070.5" x2="150.4" y2="1089.2" stroke-opacity="0.41"/>
<line x1="126.1" y1="1070.5" x2="90.1" y2="1068.6" stroke-opacity="0.40"/>
<line x1="517.2" y1="1266.0" x2="509.7" y2="1288.1" stroke-opacity="0.80"/>
<line x1="517.2" y1="1266.0" x2="505.9" y2="1307.4" stroke-opacity="0.80"/>
<line x1="210.3" y1="1199.1" x2="182.8" y2="1211.7" stroke-opacity="0.80"/>
<line x1="210.3" y1="1199.1" x2="187.5" y2="1179.1" stroke-opacity="0.80"/>
<line x1="210.3" y1="1199.1" x2="225.4" y2="1186.3" stroke-opacity="0.80"/>
<line x1="210.3" y1="1199.1" x2="210.1" y2="1217.2" stroke-opacity="0.80"/>
<line x1="210.3" y1="1199.1" x2="206.3" y2="1173.6" stroke-opacity="0.80"/>
<line x1="281.8" y1="1267.8" x2="267.9" y2="1237.6" stroke-opacity="0.80"/>
<line x1="281.8" y1="1267.8" x2="252.4" y2="1247.1" stroke-opacity="0.80"/>
<line x1="281.8" y1="1267.8" x2="267.2" y2="1302.1" stroke-opacity="0.80"/>
<line x1="281.8" y1="1267.8" x2="305.9" y2="1263.4" stroke-opacity="0.80"/>
<line x1="281.8" y1="1267.8" x2="251.7" y2="1268.3" stroke-opacity="0.80"/>
<line x1="857.4" y1="1210.4" x2="821.6" y2="1232.1" stroke-opacity="0.66"/>
<line x1="857.4" y1="1210.4" x2="839.3" y2="1246.7" stroke-opacity="0.66"/>
<line x1="857.4" y1="1210.4" x2="829.8" y2="1183.0" stroke-opacity="0.21"/>
<line x1="857.4" y1="1210.4" x2="884.0" y2="1195.5" stroke-opacity="0.55"/>
<line x1="859.1" y1="1326.2" x2="828.3" y2="1326.2" stroke-opacity="0.80"/>
<line x1="859.1" y1="1326.2" x2="853.8" y2="1356.7" stroke-opacity="0.80"/>
<line x1="859.1" y1="1326.2" x2="867.6" y2="1294.0" stroke-opacity="0.80"/>
<line x1="859.1" y1="1326.2" x2="878.4" y2="1347.7" stroke-opacity="0.80"/>
<line x1="975.1" y1="1334.0" x2="952.1" y2="1324.2" stroke-opacity="0.80"/>
<line x1="975.1" y1="1334.0" x2="951.3" y2="1352.3" stroke-opacity="0.80"/>
<line x1="975.1" y1="1334.0" x2="955.2" y2="1302.0" stroke-opacity="0.80"/>
<line x1="260.0" y1="1180.9" x2="246.9" y2="1156.5" stroke-opacity="0.16"/>
<line x1="260.0" y1="1180.9" x2="257.2" y2="1201.8" stroke-opacity="0.33"/>
<line x1="260.0" y1="1180.9" x2="300.2" y2="1189.5" stroke-opacity="0.26"/>
<line x1="260.0" y1="1180.9" x2="225.4" y2="1186.3" stroke-opacity="0.33"/>
<line x1="260.0" y1="1180.9" x2="255.3" y2="1220.2" stroke-opacity="0.33"/>
<line x1="828.3" y1="1326.2" x2="853.8" y2="1356.7" stroke-opacity="0.80"/>
<line x1="828.3" y1="1326.2" x2="812.5" y2="1305.2" stroke-opacity="0.80"/>
<line x1="179.1" y1="1230.1" x2="201.8" y2="1245.1" stroke-opacity="0.80"/>
<line x1="179.1" y1="1230.1" x2="182.8" y2="1211.7" stroke-opacity="0.80"/>
<line x1="179.1" y1="1230.1" x2="210.1" y2="1217.2" stroke-opacity="0.80"/>
<line x1="349.6" y1="1230.7" x2="318.4" y2="1206.5" stroke-opacity="0.46"/>
<line x1="349.6" y1="1230.7" x2="367.4" y2="1245.1" stroke-opacity="0.71"/>
<line x1="89.1" y1="1268.5" x2="69.9" y2="1249.9" stroke-opacity="0.80"/>
<line x1="89.1" y1="1268.5" x2="127.4" y2="1262.6" stroke-opacity="0.80"/>
<line x1="89.1" y1="1268.5" x2="107.6" y2="1300.4" stroke-opacity="0.80"/>
<line x1="750.4" y1="1295.6" x2="777.5" y2="1299.2" stroke-opacity="0.80"/>
<line x1="750.4" y1="1295.6" x2="768.4" y2="1275.6" stroke-opacity="0.80"/>
<line x1="750.4" y1="1295.6" x2="734.6" y2="1326.0" stroke-opacity="0.80"/>
<line x1="206.9" y1="1359.4" x2="221.4" y2="1341.2" stroke-opacity="0.80"/>
<line x1="206.9" y1="1359.4" x2="238.9" y2="1353.1" stroke-opacity="0.80"/>
<line x1="206.9" y1="1359.4" x2="179.2" y2="1319.3" stroke-opacity="0.80"/>
<line x1="398.9" y1="1253.0" x2="440.6" y2="1247.1" stroke-opacity="0.75"/>
<line x1="398.9" y1="1253.0" x2="367.4" y2="1245.1" stroke-opacity="0.80"/>
<line x1="398.9" y1="1253.0" x2="369.5" y2="1265.8" stroke-opacity="0.80"/>
<line x1="398.9" y1="1253.0" x2="402.7" y2="1228.1" stroke-opacity="0.57"/>
<line x1="398.9" y1="1253.0" x2="430.0" y2="1230.0" stroke-opacity="0.54"/>
<line x1="-1.5" y1="1088.3" x2="32.5" y2="1086.5" stroke-opacity="0.67"/>
<line x1="-1.5" y1="1088.3" x2="20.8" y2="1101.8" stroke-opacity="0.71"/>
<line x1="689.7" y1="1329.9" x2="709.1" y2="1307.0" stroke-opacity="0.80"/>
<line x1="689.7" y1="1329.9" x2="659.8" y2="1356.3" stroke-opacity="0.80"/>
<line x1="689.7" y1="1329.9" x2="672.3" y2="1314.6" stroke-opacity="0.80"/>
<line x1="689.7" y1="1329.9" x2="686.8" y2="1354.5" stroke-opacity="0.80"/>
<line x1="689.7" y1="1329.9" x2="666.4" y2="1332.6" stroke-opacity="0.80"/>
<line x1="853.8" y1="1356.7" x2="894.9" y2="1358.4" stroke-opacity="0.80"/>
<line x1="853.8" y1="1356.7" x2="878.4" y2="1347.7" stroke-opacity="0.80"/>
<line x1="44.4" y1="1343.5" x2="56.4" y2="1327.9" stroke-opacity="0.80"/>
<line x1="44.4" y1="1343.5" x2="80.9" y2="1317.6" stroke-opacity="0.80"/>
<line x1="44.4" y1="1343.5" x2="-9.1" y2="1357.2" stroke-opacity="0.80"/>
<line x1="44.4" y1="1343.5" x2="31.6" y2="1304.1" stroke-opacity="0.80"/>
<line x1="460.6" y1="1280.0" x2="440.6" y2="1247.1" stroke-opacity="0.75"/>
<line x1="460.6" y1="1280.0" x2="438.1" y2="1282.8" stroke-opacity="0.80"/>
<line x1="319.9" y1="1178.8" x2="318.4" y2="1206.5" stroke-opacity="0.08"/>
<line x1="319.9" y1="1178.8" x2="346.7" y2="1190.1" stroke-opacity="0.08"/>
<line x1="319.9" y1="1178.8" x2="300.2" y2="1189.5" stroke-opacity="0.08"/>
<line x1="709.1" y1="1307.0" x2="702.6" y2="1280.9" stroke-opacity="0.80"/>
<line x1="709.1" y1="1307.0" x2="734.6" y2="1326.0" stroke-opacity="0.80"/>
<line x1="709.1" y1="1307.0" x2="672.3" y2="1314.6" stroke-opacity="0.80"/>
<line x1="168.5" y1="1174.3" x2="146.3" y2="1180.4" stroke-opacity="0.80"/>
<line x1="168.5" y1="1174.3" x2="187.5" y2="1179.1" stroke-opacity="0.80"/>
<line x1="168.5" y1="1174.3" x2="206.3" y2="1173.6" stroke-opacity="0.80"/>
<line x1="168.5" y1="1174.3" x2="142.8" y2="1200.6" stroke-opacity="0.80"/>
<line x1="1002.0" y1="1293.6" x2="960.1" y2="1282.3" stroke-opacity="0.80"/>
<line x1="1002.0" y1="1293.6" x2="969.1" y2="1264.3" stroke-opacity="0.80"/>
<line x1="248.6" y1="1329.8" x2="221.4" y2="1341.2" stroke-opacity="0.80"/>
<line x1="248.6" y1="1329.8" x2="238.9" y2="1353.1" stroke-opacity="0.80"/>
<line x1="248.6" y1="1329.8" x2="265.5" y2="1356.7" stroke-opacity="0.80"/>
<line x1="248.6" y1="1329.8" x2="267.2" y2="1302.1" stroke-opacity="0.80"/>
<line x1="702.6" y1="1280.9" x2="684.8" y2="1260.8" stroke-opacity="0.80"/>
<line x1="702.6" y1="1280.9" x2="671.2" y2="1288.8" stroke-opacity="0.80"/>
<line x1="702.6" y1="1280.9" x2="703.2" y2="1253.4" stroke-opacity="0.80"/>
<line x1="-9.0" y1="1140.9" x2="21.3" y2="1157.0" stroke-opacity="0.80"/>
<line x1="-9.0" y1="1140.9" x2="18.3" y2="1137.6" stroke-opacity="0.80"/>
<line x1="221.4" y1="1341.2" x2="238.9" y2="1353.1" stroke-opacity="0.80"/>
<line x1="221.4" y1="1341.2" x2="179.2" y2="1319.3" stroke-opacity="0.80"/>
<line x1="1019.9" y1="1238.4" x2="985.8" y2="1213.1" stroke-opacity="0.80"/>
<line x1="1019.9" y1="1238.4" x2="976.1" y2="1237.7" stroke-opacity="0.80"/>
<line x1="1019.9" y1="1238.4" x2="1006.2" y2="1195.5" stroke-opacity="0.80"/>
<line x1="246.9" y1="1156.5" x2="225.4" y2="1186.3" stroke-opacity="0.16"/>
<line x1="32.5" y1="1086.5" x2="21.1" y2="1040.7" stroke-opacity="0.06"/>
<line x1="32.5" y1="1086.5" x2="32.0" y2="1056.1" stroke-opacity="0.26"/>
<line x1="32.5" y1="1086.5" x2="20.8" y2="1101.8" stroke-opacity="0.67"/>
<line x1="32.5" y1="1086.5" x2="61.6" y2="1082.0" stroke-opacity="0.60"/>
<line x1="985.8" y1="1213.1" x2="976.1" y2="1237.7" stroke-opacity="0.80"/>
<line x1="985.8" y1="1213.1" x2="962.8" y2="1211.4" stroke-opacity="0.80"/>
<line x1="985.8" y1="1213.1" x2="1006.2" y2="1195.5" stroke-opacity="0.80"/>
<line x1="146.3" y1="1180.4" x2="128.7" y2="1151.4" stroke-opacity="0.80"/>
<line x1="146.3" y1="1180.4" x2="142.8" y2="1200.6" stroke-opacity="0.80"/>
<line x1="963.1" y1="1163.0" x2="931.6" y2="1159.6" stroke-opacity="0.23"/>
<line x1="963.1" y1="1163.0" x2="954.1" y2="1142.3" stroke-opacity="0.08"/>
<line x1="142.9" y1="1276.6" x2="143.9" y2="1302.9" stroke-opacity="0.80"/>
<line x1="142.9" y1="1276.6" x2="127.4" y2="1262.6" stroke-opacity="0.80"/>
<line x1="142.9" y1="1276.6" x2="107.6" y2="1300.4" stroke-opacity="0.80"/>
<line x1="142.9" y1="1276.6" x2="146.2" y2="1254.8" stroke-opacity="0.80"/>
<line x1="385.6" y1="1325.2" x2="366.4" y2="1290.9" stroke-opacity="0.80"/>
<line x1="385.6" y1="1325.2" x2="429.5" y2="1327.5" stroke-opacity="0.80"/>
<line x1="385.6" y1="1325.2" x2="427.3" y2="1347.3" stroke-opacity="0.80"/>
<line x1="56.4" y1="1327.9" x2="80.9" y2="1317.6" stroke-opacity="0.80"/>
<line x1="56.4" y1="1327.9" x2="31.6" y2="1304.1" stroke-opacity="0.80"/>
<line x1="524.3" y1="1338.7" x2="549.2" y2="1345.4" stroke-opacity="0.80"/>
<line x1="524.3" y1="1338.7" x2="485.2" y2="1358.2" stroke-opacity="0.80"/>
<line x1="524.3" y1="1338.7" x2="505.9" y2="1307.4" stroke-opacity="0.80"/>
<line x1="524.3" y1="1338.7" x2="588.9" y2="1339.9" stroke-opacity="0.80"/>
<line x1="524.3" y1="1338.7" x2="501.0" y2="1327.3" stroke-opacity="0.80"/>
<line x1="440.6" y1="1247.1" x2="438.1" y2="1282.8" stroke-opacity="0.75"/>
<line x1="440.6" y1="1247.1" x2="402.7" y2="1228.1" stroke-opacity="0.57"/>
<line x1="440.6" y1="1247.1" x2="430.0" y2="1230.0" stroke-opacity="0.54"/>
<line x1="789.1" y1="1200.5" x2="795.7" y2="1232.5" stroke-opacity="0.33"/>
<line x1="789.1" y1="1200.5" x2="809.0" y2="1203.8" stroke-opacity="0.33"/>
<line x1="789.1" y1="1200.5" x2="758.9" y2="1201.6" stroke-opacity="0.31"/>
<line x1="789.1" y1="1200.5" x2="783.0" y2="1183.4" stroke-opacity="0.09"/>
<line x1="789.1" y1="1200.5" x2="775.5" y2="1218.0" stroke-opacity="0.33"/>
<line x1="98.4" y1="1323.5" x2="80.9" y2="1317.6" stroke-opacity="0.80"/>
<line x1="98.4" y1="1323.5" x2="109.0" y2="1351.0" stroke-opacity="0.80"/>
<line x1="98.4" y1="1323.5" x2="121.0" y2="1327.4" stroke-opacity="0.80"/>
<line x1="98.4" y1="1323.5" x2="107.6" y2="1300.4" stroke-opacity="0.80"/>
<line x1="795.7" y1="1232.5" x2="821.6" y2="1232.1" stroke-opacity="0.76"/>
<line x1="795.7" y1="1232.5" x2="809.0" y2="1203.8" stroke-opacity="0.41"/>
<line x1="795.7" y1="1232.5" x2="804.0" y2="1270.0" stroke-opacity="0.76"/>
<line x1="795.7" y1="1232.5" x2="775.5" y2="1218.0" stroke-opacity="0.55"/>
<line x1="238.9" y1="1353.1" x2="283.7" y2="1349.7" stroke-opacity="0.80"/>
<line x1="238.9" y1="1353.1" x2="265.5" y2="1356.7" stroke-opacity="0.80"/>
<line x1="21.1" y1="1040.7" x2="57.3" y2="1060.7" stroke-opacity="0.06"/>
<line x1="21.1" y1="1040.7" x2="32.0" y2="1056.1" stroke-opacity="0.06"/>
<line x1="69.9" y1="1249.9" x2="34.0" y2="1256.3" stroke-opacity="0.80"/>
<line x1="69.9" y1="1249.9" x2="39.0" y2="1279.6" stroke-opacity="0.80"/>
<line x1="552.7" y1="1234.6" x2="545.9" y2="1212.9" stroke-opacity="0.22"/>
<line x1="552.7" y1="1234.6" x2="579.5" y2="1257.0" stroke-opacity="0.52"/>
<line x1="552.7" y1="1234.6" x2="571.7" y2="1204.7" stroke-opacity="0.14"/>
<line x1="57.3" y1="1060.7" x2="32.0" y2="1056.1" stroke-opacity="0.26"/>
<line x1="57.3" y1="1060.7" x2="61.6" y2="1082.0" stroke-opacity="0.31"/>
<line x1="57.3" y1="1060.7" x2="90.1" y2="1068.6" stroke-opacity="0.31"/>
<line x1="821.6" y1="1232.1" x2="809.0" y2="1203.8" stroke-opacity="0.41"/>
<line x1="821.6" y1="1232.1" x2="839.3" y2="1246.7" stroke-opacity="0.80"/>
<line x1="821.6" y1="1232.1" x2="804.0" y2="1270.0" stroke-opacity="0.80"/>
<line x1="659.8" y1="1356.3" x2="672.3" y2="1314.6" stroke-opacity="0.80"/>
<line x1="659.8" y1="1356.3" x2="686.8" y2="1354.5" stroke-opacity="0.80"/>
<line x1="659.8" y1="1356.3" x2="666.4" y2="1332.6" stroke-opacity="0.80"/>
<line x1="318.4" y1="1206.5" x2="346.7" y2="1190.1" stroke-opacity="0.18"/>
<line x1="318.4" y1="1206.5" x2="300.2" y2="1189.5" stroke-opacity="0.26"/>
<line x1="80.9" y1="1317.6" x2="109.0" y2="1351.0" stroke-opacity="0.80"/>
<line x1="80.9" y1="1317.6" x2="121.0" y2="1327.4" stroke-opacity="0.80"/>
<line x1="80.9" y1="1317.6" x2="107.6" y2="1300.4" stroke-opacity="0.80"/>
<line x1="201.8" y1="1245.1" x2="209.3" y2="1280.2" stroke-opacity="0.80"/>
<line x1="201.8" y1="1245.1" x2="210.1" y2="1217.2" stroke-opacity="0.80"/>
<line x1="935.3" y1="1339.6" x2="952.1" y2="1324.2" stroke-opacity="0.80"/>
<line x1="935.3" y1="1339.6" x2="925.7" y2="1357.3" stroke-opacity="0.80"/>
<line x1="935.3" y1="1339.6" x2="951.3" y2="1352.3" stroke-opacity="0.80"/>
<line x1="935.3" y1="1339.6" x2="894.9" y2="1358.4" stroke-opacity="0.80"/>
<line x1="935.3" y1="1339.6" x2="913.8" y2="1342.9" stroke-opacity="0.80"/>
<line x1="952.1" y1="1324.2" x2="951.3" y2="1352.3" stroke-opacity="0.80"/>
<line x1="952.1" y1="1324.2" x2="955.2" y2="1302.0" stroke-opacity="0.80"/>
<line x1="182.8" y1="1211.7" x2="187.5" y2="1179.1" stroke-opacity="0.80"/>
<line x1="182.8" y1="1211.7" x2="210.1" y2="1217.2" stroke-opacity="0.80"/>
<line x1="809.0" y1="1203.8" x2="829.8" y2="1183.0" stroke-opacity="0.21"/>
<line x1="809.0" y1="1203.8" x2="783.0" y2="1183.4" stroke-opacity="0.09"/>
<line x1="3.1" y1="1195.3" x2="-19.0" y2="1204.9" stroke-opacity="0.80"/>
<line x1="3.1" y1="1195.3" x2="39.9" y2="1207.2" stroke-opacity="0.80"/>
<line x1="3.1" y1="1195.3" x2="10.9" y2="1214.1" stroke-opacity="0.80"/>
<line x1="545.9" y1="1212.9" x2="571.7" y2="1204.7" stroke-opacity="0.14"/>
<line x1="209.3" y1="1280.2" x2="251.7" y2="1268.3" stroke-opacity="0.80"/>
<line x1="931.6" y1="1159.6" x2="901.8" y2="1177.3" stroke-opacity="0.23"/>
<line x1="931.6" y1="1159.6" x2="954.1" y2="1142.3" stroke-opacity="0.08"/>
<line x1="839.3" y1="1246.7" x2="844.2" y2="1287.5" stroke-opacity="0.80"/>
<line x1="867.6" y1="1294.0" x2="844.2" y2="1287.5" stroke-opacity="0.80"/>
<line x1="867.6" y1="1294.0" x2="884.9" y2="1262.0" stroke-opacity="0.80"/>
<line x1="976.1" y1="1237.7" x2="962.8" y2="1211.4" stroke-opacity="0.80"/>
<line x1="976.1" y1="1237.7" x2="943.8" y2="1246.8" stroke-opacity="0.80"/>
<line x1="976.1" y1="1237.7" x2="969.1" y2="1264.3" stroke-opacity="0.80"/>
<line x1="283.7" y1="1349.7" x2="265.5" y2="1356.7" stroke-opacity="0.80"/>
<line x1="283.7" y1="1349.7" x2="302.5" y2="1344.3" stroke-opacity="0.80"/>
<line x1="41.6" y1="1124.9" x2="20.8" y2="1101.8" stroke-opacity="0.80"/>
<line x1="41.6" y1="1124.9" x2="42.5" y2="1150.3" stroke-opacity="0.80"/>
<line x1="41.6" y1="1124.9" x2="18.3" y2="1137.6" stroke-opacity="0.80"/>
<line x1="41.6" y1="1124.9" x2="71.9" y2="1143.6" stroke-opacity="0.80"/>
<line x1="44.8" y1="1176.0" x2="21.3" y2="1157.0" stroke-opacity="0.80"/>
<line x1="44.8" y1="1176.0" x2="42.5" y2="1150.3" stroke-opacity="0.80"/>
<line x1="44.8" y1="1176.0" x2="39.9" y2="1207.2" stroke-opacity="0.80"/>
<line x1="549.2" y1="1345.4" x2="568.6" y2="1295.0" stroke-opacity="0.80"/>
<line x1="549.2" y1="1345.4" x2="588.9" y2="1339.9" stroke-opacity="0.80"/>
<line x1="549.2" y1="1345.4" x2="501.0" y2="1327.3" stroke-opacity="0.80"/>
<line x1="265.5" y1="1356.7" x2="302.5" y2="1344.3" stroke-opacity="0.80"/>
<line x1="366.4" y1="1290.9" x2="353.3" y2="1276.2" stroke-opacity="0.80"/>
<line x1="366.4" y1="1290.9" x2="369.5" y2="1265.8" stroke-opacity="0.80"/>
<line x1="884.0" y1="1195.5" x2="919.1" y2="1206.4" stroke-opacity="0.55"/>
<line x1="884.0" y1="1195.5" x2="901.8" y2="1177.3" stroke-opacity="0.37"/>
<line x1="257.2" y1="1201.8" x2="267.9" y2="1237.6" stroke-opacity="0.64"/>
<line x1="257.2" y1="1201.8" x2="225.4" y2="1186.3" stroke-opacity="0.64"/>
<line x1="257.2" y1="1201.8" x2="255.3" y2="1220.2" stroke-opacity="0.64"/>
<line x1="-18.6" y1="1299.3" x2="-9.1" y2="1357.2" stroke-opacity="0.80"/>
<line x1="-18.6" y1="1299.3" x2="31.6" y2="1304.1" stroke-opacity="0.80"/>
<line x1="-18.6" y1="1299.3" x2="39.0" y2="1279.6" stroke-opacity="0.80"/>
<line x1="143.9" y1="1302.9" x2="127.4" y2="1262.6" stroke-opacity="0.80"/>
<line x1="143.9" y1="1302.9" x2="121.0" y2="1327.4" stroke-opacity="0.80"/>
<line x1="143.9" y1="1302.9" x2="107.6" y2="1300.4" stroke-opacity="0.80"/>
<line x1="143.9" y1="1302.9" x2="179.2" y2="1319.3" stroke-opacity="0.80"/>
<line x1="460.2" y1="1348.7" x2="485.2" y2="1358.2" stroke-opacity="0.80"/>
<line x1="460.2" y1="1348.7" x2="429.5" y2="1327.5" stroke-opacity="0.80"/>
<line x1="460.2" y1="1348.7" x2="427.3" y2="1347.3" stroke-opacity="0.80"/>
<line x1="460.2" y1="1348.7" x2="501.0" y2="1327.3" stroke-opacity="0.80"/>
<line x1="-9.1" y1="1357.2" x2="31.6" y2="1304.1" stroke-opacity="0.80"/>
<line x1="962.8" y1="1211.4" x2="943.8" y2="1246.8" stroke-opacity="0.80"/>
<line x1="126.5" y1="1052.1" x2="143.4" y2="1062.2" stroke-opacity="0.14"/>
<line x1="684.8" y1="1260.8" x2="671.2" y2="1288.8" stroke-opacity="0.80"/>
<line x1="684.8" y1="1260.8" x2="703.2" y2="1253.4" stroke-opacity="0.80"/>
<line x1="73.7" y1="1097.0" x2="61.6" y2="1082.0" stroke-opacity="0.60"/>
<line x1="73.7" y1="1097.0" x2="90.1" y2="1068.6" stroke-opacity="0.40"/>
<line x1="143.4" y1="1062.2" x2="150.4" y2="1089.2" stroke-opacity="0.14"/>
<line x1="777.5" y1="1299.2" x2="768.4" y2="1275.6" stroke-opacity="0.80"/>
<line x1="777.5" y1="1299.2" x2="798.0" y2="1289.0" stroke-opacity="0.80"/>
<line x1="777.5" y1="1299.2" x2="812.5" y2="1305.2" stroke-opacity="0.80"/>
<line x1="777.5" y1="1299.2" x2="804.0" y2="1270.0" stroke-opacity="0.80"/>
<line x1="90.5" y1="1148.4" x2="71.9" y2="1143.6" stroke-opacity="0.80"/>
<line x1="90.5" y1="1148.4" x2="102.7" y2="1128.8" stroke-opacity="0.80"/>
<line x1="509.7" y1="1288.1" x2="505.9" y2="1307.4" stroke-opacity="0.80"/>
<line x1="509.7" y1="1288.1" x2="501.0" y2="1327.3" stroke-opacity="0.80"/>
<line x1="919.1" y1="1206.4" x2="901.8" y2="1177.3" stroke-opacity="0.37"/>
<line x1="127.4" y1="1262.6" x2="107.6" y2="1300.4" stroke-opacity="0.80"/>
<line x1="127.4" y1="1262.6" x2="146.2" y2="1254.8" stroke-opacity="0.80"/>
<line x1="579.5" y1="1257.0" x2="600.7" y2="1263.0" stroke-opacity="0.80"/>
<line x1="579.5" y1="1257.0" x2="568.6" y2="1295.0" stroke-opacity="0.80"/>
<line x1="109.0" y1="1351.0" x2="121.0" y2="1327.4" stroke-opacity="0.80"/>
<line x1="109.0" y1="1351.0" x2="107.6" y2="1300.4" stroke-opacity="0.80"/>
<line x1="121.0" y1="1327.4" x2="107.6" y2="1300.4" stroke-opacity="0.80"/>
<line x1="925.7" y1="1357.3" x2="951.3" y2="1352.3" stroke-opacity="0.80"/>
<line x1="925.7" y1="1357.3" x2="894.9" y2="1358.4" stroke-opacity="0.80"/>
<line x1="925.7" y1="1357.3" x2="913.8" y2="1342.9" stroke-opacity="0.80"/>
<line x1="187.5" y1="1179.1" x2="206.3" y2="1173.6" stroke-opacity="0.80"/>
<line x1="128.7" y1="1151.4" x2="132.1" y2="1125.7" stroke-opacity="0.80"/>
<line x1="128.7" y1="1151.4" x2="102.7" y2="1128.8" stroke-opacity="0.80"/>
<line x1="768.4" y1="1275.6" x2="798.0" y2="1289.0" stroke-opacity="0.80"/>
<line x1="768.4" y1="1275.6" x2="804.0" y2="1270.0" stroke-opacity="0.80"/>
<line x1="485.2" y1="1358.2" x2="505.9" y2="1307.4" stroke-opacity="0.80"/>
<line x1="485.2" y1="1358.2" x2="427.3" y2="1347.3" stroke-opacity="0.80"/>
<line x1="485.2" y1="1358.2" x2="501.0" y2="1327.3" stroke-opacity="0.80"/>
<line x1="429.5" y1="1327.5" x2="438.1" y2="1282.8" stroke-opacity="0.80"/>
<line x1="429.5" y1="1327.5" x2="427.3" y2="1347.3" stroke-opacity="0.80"/>
<line x1="34.0" y1="1256.3" x2="39.0" y2="1279.6" stroke-opacity="0.80"/>
<line x1="34.0" y1="1256.3" x2="29.9" y2="1232.4" stroke-opacity="0.80"/>
<line x1="672.3" y1="1314.6" x2="671.2" y2="1288.8" stroke-opacity="0.80"/>
<line x1="672.3" y1="1314.6" x2="648.8" y2="1308.2" stroke-opacity="0.80"/>
<line x1="672.3" y1="1314.6" x2="686.8" y2="1354.5" stroke-opacity="0.80"/>
<line x1="672.3" y1="1314.6" x2="666.4" y2="1332.6" stroke-opacity="0.80"/>
<line x1="108.7" y1="1202.8" x2="136.8" y2="1218.1" stroke-opacity="0.80"/>
<line x1="108.7" y1="1202.8" x2="142.8" y2="1200.6" stroke-opacity="0.80"/>
<line x1="951.3" y1="1352.3" x2="913.8" y2="1342.9" stroke-opacity="0.80"/>
<line x1="894.9" y1="1358.4" x2="913.8" y2="1342.9" stroke-opacity="0.80"/>
<line x1="894.9" y1="1358.4" x2="878.4" y2="1347.7" stroke-opacity="0.80"/>
<line x1="671.2" y1="1288.8" x2="648.8" y2="1308.2" stroke-opacity="0.80"/>
<line x1="367.4" y1="1245.1" x2="353.3" y2="1276.2" stroke-opacity="0.80"/>
<line x1="367.4" y1="1245.1" x2="369.5" y2="1265.8" stroke-opacity="0.80"/>
<line x1="367.4" y1="1245.1" x2="402.7" y2="1228.1" stroke-opacity="0.57"/>
<line x1="943.8" y1="1246.8" x2="960.1" y2="1282.3" stroke-opacity="0.80"/>
<line x1="943.8" y1="1246.8" x2="969.1" y2="1264.3" stroke-opacity="0.80"/>
<line x1="267.9" y1="1237.6" x2="255.3" y2="1220.2" stroke-opacity="0.80"/>
<line x1="267.9" y1="1237.6" x2="252.4" y2="1247.1" stroke-opacity="0.80"/>
<line x1="267.9" y1="1237.6" x2="251.7" y2="1268.3" stroke-opacity="0.80"/>
<line x1="505.9" y1="1307.4" x2="501.0" y2="1327.3" stroke-opacity="0.80"/>
<line x1="798.0" y1="1289.0" x2="812.5" y2="1305.2" stroke-opacity="0.80"/>
<line x1="798.0" y1="1289.0" x2="804.0" y2="1270.0" stroke-opacity="0.80"/>
<line x1="225.4" y1="1186.3" x2="210.1" y2="1217.2" stroke-opacity="0.80"/>
<line x1="225.4" y1="1186.3" x2="206.3" y2="1173.6" stroke-opacity="0.80"/>
<line x1="600.7" y1="1263.0" x2="568.6" y2="1295.0" stroke-opacity="0.80"/>
<line x1="571.7" y1="1204.7" x2="604.7" y2="1214.7" stroke-opacity="0.14"/>
<line x1="132.1" y1="1125.7" x2="158.5" y2="1106.6" stroke-opacity="0.55"/>
<line x1="132.1" y1="1125.7" x2="102.7" y2="1128.8" stroke-opacity="0.80"/>
<line x1="255.3" y1="1220.2" x2="252.4" y2="1247.1" stroke-opacity="0.80"/>
<line x1="158.5" y1="1106.6" x2="150.4" y2="1089.2" stroke-opacity="0.41"/>
<line x1="146.2" y1="1254.8" x2="136.8" y2="1218.1" stroke-opacity="0.80"/>
<line x1="844.2" y1="1287.5" x2="812.5" y2="1305.2" stroke-opacity="0.80"/>
<line x1="21.3" y1="1157.0" x2="42.5" y2="1150.3" stroke-opacity="0.80"/>
<line x1="21.3" y1="1157.0" x2="18.3" y2="1137.6" stroke-opacity="0.80"/>
<line x1="568.6" y1="1295.0" x2="588.9" y2="1339.9" stroke-opacity="0.80"/>
<line x1="42.5" y1="1150.3" x2="18.3" y2="1137.6" stroke-opacity="0.80"/>
<line x1="42.5" y1="1150.3" x2="71.9" y2="1143.6" stroke-opacity="0.80"/>
<line x1="136.8" y1="1218.1" x2="142.8" y2="1200.6" stroke-opacity="0.80"/>
<line x1="252.4" y1="1247.1" x2="251.7" y2="1268.3" stroke-opacity="0.80"/>
<line x1="960.1" y1="1282.3" x2="955.2" y2="1302.0" stroke-opacity="0.80"/>
<line x1="960.1" y1="1282.3" x2="969.1" y2="1264.3" stroke-opacity="0.80"/>
<line x1="267.2" y1="1302.1" x2="251.7" y2="1268.3" stroke-opacity="0.80"/>
<line x1="-19.0" y1="1204.9" x2="10.9" y2="1214.1" stroke-opacity="0.80"/>
<line x1="758.9" y1="1201.6" x2="783.0" y2="1183.4" stroke-opacity="0.09"/>
<line x1="758.9" y1="1201.6" x2="775.5" y2="1218.0" stroke-opacity="0.31"/>
<line x1="783.0" y1="1183.4" x2="775.5" y2="1218.0" stroke-opacity="0.09"/>
<line x1="812.5" y1="1305.2" x2="804.0" y2="1270.0" stroke-opacity="0.80"/>
<line x1="61.6" y1="1082.0" x2="90.1" y2="1068.6" stroke-opacity="0.40"/>
<line x1="39.9" y1="1207.2" x2="29.9" y2="1232.4" stroke-opacity="0.80"/>
<line x1="39.9" y1="1207.2" x2="10.9" y2="1214.1" stroke-opacity="0.80"/>
<line x1="353.3" y1="1276.2" x2="369.5" y2="1265.8" stroke-opacity="0.80"/>
<line x1="71.9" y1="1143.6" x2="102.7" y2="1128.8" stroke-opacity="0.80"/>
<line x1="913.8" y1="1342.9" x2="878.4" y2="1347.7" stroke-opacity="0.80"/>
<line x1="206.3" y1="1173.6" x2="190.2" y2="1137.7" stroke-opacity="0.59"/>
<line x1="402.7" y1="1228.1" x2="430.0" y2="1230.0" stroke-opacity="0.54"/>
<line x1="648.8" y1="1308.2" x2="666.4" y2="1332.6" stroke-opacity="0.80"/>
<line x1="31.6" y1="1304.1" x2="39.0" y2="1279.6" stroke-opacity="0.80"/>
<line x1="29.9" y1="1232.4" x2="10.9" y2="1214.1" stroke-opacity="0.80"/>
<line x1="686.8" y1="1354.5" x2="666.4" y2="1332.6" stroke-opacity="0.80"/>
<circle cx="450.5" cy="1210.3" r="6.5" stroke="none" fill-opacity="0.28"/>
<circle cx="941.2" cy="1178.3" r="2" stroke="none" fill-opacity="0.61"/>
<circle cx="508.2" cy="1219.7" r="1.5" stroke="none" fill-opacity="0.32"/>
<circle cx="172.0" cy="1194.0" r="6.5" stroke="none" fill-opacity="0.95"/>
<circle cx="635.1" cy="1289.6" r="1.2" stroke="none" fill-opacity="0.95"/>
<circle cx="77.9" cy="1123.2" r="1.5" stroke="none" fill-opacity="0.95"/>
<circle cx="74.3" cy="1295.3" r="2" stroke="none" fill-opacity="0.95"/>
<circle cx="1001.5" cy="1348.0" r="2.5" stroke="none" fill-opacity="0.95"/>
<circle cx="660.1" cy="1229.3" r="2.5" stroke="none" fill-opacity="0.67"/>
<circle cx="177.8" cy="1102.3" r="3" stroke="none" fill-opacity="0.31"/>
<circle cx="11.3" cy="1177.7" r="2" stroke="none" fill-opacity="0.95"/>
<circle cx="438.2" cy="1306.4" r="2.5" stroke="none" fill-opacity="0.95"/>
<circle cx="519.9" cy="1237.7" r="2" stroke="none" fill-opacity="0.62"/>
<circle cx="499.8" cy="1245.2" r="2" stroke="none" fill-opacity="0.72"/>
<circle cx="1017.6" cy="1358.5" r="4" stroke="none" fill-opacity="0.95"/>
<circle cx="853.8" cy="1260.7" r="1.2" stroke="none" fill-opacity="0.95"/>
<circle cx="976.4" cy="1308.1" r="6.5" stroke="none" fill-opacity="0.95"/>
<circle cx="-19.4" cy="1091.3" r="3" stroke="none" fill-opacity="0.89"/>
<circle cx="999.6" cy="1155.1" r="2" stroke="none" fill-opacity="0.48"/>
<circle cx="56.0" cy="1234.0" r="1.5" stroke="none" fill-opacity="0.95"/>
<circle cx="982.6" cy="1277.7" r="9" stroke="none" fill-opacity="0.95"/>
<circle cx="102.7" cy="1103.8" r="2" stroke="none" fill-opacity="0.95"/>
<circle cx="85.1" cy="1040.4" r="1.5" stroke="none" fill-opacity="0.03"/>
<circle cx="178.3" cy="1268.8" r="1.5" stroke="none" fill-opacity="0.95"/>
<circle cx="116.2" cy="1238.9" r="1.5" stroke="none" fill-opacity="0.95"/>
<circle cx="101.2" cy="1163.1" r="2.5" stroke="none" fill-opacity="0.95"/>
<circle cx="201.4" cy="1111.7" r="2.5" stroke="none" fill-opacity="0.13"/>
<circle cx="296.3" cy="1320.9" r="1.2" stroke="none" fill-opacity="0.95"/>
<circle cx="199.1" cy="1154.1" r="4" stroke="none" fill-opacity="0.83"/>
<circle cx="868.6" cy="1238.2" r="1.5" stroke="none" fill-opacity="0.95"/>
<circle cx="84.3" cy="1356.4" r="2" stroke="none" fill-opacity="0.95"/>
<circle cx="73.7" cy="1218.1" r="2" stroke="none" fill-opacity="0.95"/>
<circle cx="232.7" cy="1224.4" r="9" stroke="none" fill-opacity="0.95"/>
<circle cx="977.5" cy="1184.5" r="1.5" stroke="none" fill-opacity="0.85"/>
<circle cx="577.6" cy="1314.6" r="1.2" stroke="none" fill-opacity="0.95"/>
<circle cx="924.8" cy="1298.1" r="3" stroke="none" fill-opacity="0.95"/>
<circle cx="749.0" cy="1339.7" r="1.5" stroke="none" fill-opacity="0.95"/>
<circle cx="184.5" cy="1343.0" r="2" stroke="none" fill-opacity="0.95"/>
<circle cx="897.5" cy="1225.2" r="3.5" stroke="none" fill-opacity="0.95"/>
<circle cx="20.2" cy="1347.3" r="2" stroke="none" fill-opacity="0.95"/>
<circle cx="227.9" cy="1259.6" r="4" stroke="none" fill-opacity="0.95"/>
<circle cx="247.3" cy="1300.1" r="3" stroke="none" fill-opacity="0.95"/>
<circle cx="51.5" cy="1097.7" r="3" stroke="none" fill-opacity="0.95"/>
<circle cx="-2.8" cy="1111.5" r="2" stroke="none" fill-opacity="0.95"/>
<circle cx="163.3" cy="1145.4" r="3" stroke="none" fill-opacity="0.95"/>
<circle cx="356.6" cy="1322.9" r="3.5" stroke="none" fill-opacity="0.95"/>
<circle cx="999.7" cy="1243.4" r="1.2" stroke="none" fill-opacity="0.95"/>
<circle cx="698.9" cy="1218.7" r="2" stroke="none" fill-opacity="0.56"/>
<circle cx="-1.4" cy="1329.5" r="2.5" stroke="none" fill-opacity="0.95"/>
<circle cx="709.0" cy="1347.3" r="1.5" stroke="none" fill-opacity="0.95"/>
<circle cx="2.1" cy="1236.3" r="3" stroke="none" fill-opacity="0.95"/>
<circle cx="481.5" cy="1268.4" r="9" stroke="none" fill-opacity="0.95"/>
<circle cx="311.7" cy="1359.8" r="3" stroke="none" fill-opacity="0.95"/>
<circle cx="58.3" cy="1205.7" r="9" stroke="none" fill-opacity="0.95"/>
<circle cx="746.6" cy="1259.3" r="3" stroke="none" fill-opacity="0.95"/>
<circle cx="805.0" cy="1331.1" r="5" stroke="none" fill-opacity="0.95"/>
<circle cx="345.9" cy="1252.9" r="2" stroke="none" fill-opacity="0.95"/>
<circle cx="916.9" cy="1316.2" r="4" stroke="none" fill-opacity="0.95"/>
<circle cx="413.8" cy="1288.8" r="2" stroke="none" fill-opacity="0.95"/>
<circle cx="878.0" cy="1214.8" r="2" stroke="none" fill-opacity="0.94"/>
<circle cx="586.0" cy="1227.0" r="2" stroke="none" fill-opacity="0.54"/>
<circle cx="1013.1" cy="1319.1" r="2" stroke="none" fill-opacity="0.95"/>
<circle cx="744.4" cy="1217.5" r="2.5" stroke="none" fill-opacity="0.60"/>
<circle cx="67.1" cy="1275.1" r="5" stroke="none" fill-opacity="0.95"/>
<circle cx="706.3" cy="1189.1" r="6.5" stroke="none" fill-opacity="0.10"/>
<circle cx="619.1" cy="1333.0" r="2" stroke="none" fill-opacity="0.95"/>
<circle cx="293.1" cy="1250.6" r="3" stroke="none" fill-opacity="0.95"/>
<circle cx="922.0" cy="1244.4" r="2" stroke="none" fill-opacity="0.95"/>
<circle cx="320.0" cy="1246.4" r="2" stroke="none" fill-opacity="0.95"/>
<circle cx="121.6" cy="1188.8" r="2.5" stroke="none" fill-opacity="0.95"/>
<circle cx="850.6" cy="1308.6" r="9" stroke="none" fill-opacity="0.95"/>
<circle cx="308.0" cy="1305.3" r="2.5" stroke="none" fill-opacity="0.95"/>
<circle cx="1001.3" cy="1173.8" r="1.2" stroke="none" fill-opacity="0.78"/>
<circle cx="717.0" cy="1214.0" r="2" stroke="none" fill-opacity="0.51"/>
<circle cx="-0.1" cy="1066.2" r="2.5" stroke="none" fill-opacity="0.49"/>
<circle cx="635.2" cy="1242.7" r="2" stroke="none" fill-opacity="0.85"/>
<circle cx="819.7" cy="1345.9" r="1.5" stroke="none" fill-opacity="0.95"/>
<circle cx="-8.8" cy="1180.5" r="2.5" stroke="none" fill-opacity="0.95"/>
<circle cx="619.0" cy="1277.1" r="9" stroke="none" fill-opacity="0.95"/>
<circle cx="389.3" cy="1289.3" r="3" stroke="none" fill-opacity="0.95"/>
<circle cx="949.9" cy="1265.6" r="2" stroke="none" fill-opacity="0.95"/>
<circle cx="371.9" cy="1213.4" r="1.5" stroke="none" fill-opacity="0.52"/>
<circle cx="894.5" cy="1290.9" r="2" stroke="none" fill-opacity="0.95"/>
<circle cx="730.8" cy="1298.2" r="1.5" stroke="none" fill-opacity="0.95"/>
<circle cx="647.3" cy="1264.0" r="1.5" stroke="none" fill-opacity="0.95"/>
<circle cx="201.8" cy="1326.0" r="9" stroke="none" fill-opacity="0.95"/>
<circle cx="538.4" cy="1288.9" r="2" stroke="none" fill-opacity="0.95"/>
<circle cx="313.2" cy="1329.4" r="5" stroke="none" fill-opacity="0.95"/>
<circle cx="66.1" cy="1169.9" r="2" stroke="none" fill-opacity="0.95"/>
<circle cx="328.4" cy="1287.9" r="1.5" stroke="none" fill-opacity="0.95"/>
<circle cx="126.1" cy="1070.5" r="4" stroke="none" fill-opacity="0.49"/>
<circle cx="517.2" cy="1266.0" r="2" stroke="none" fill-opacity="0.95"/>
<circle cx="210.3" cy="1199.1" r="3" stroke="none" fill-opacity="0.95"/>
<circle cx="281.8" cy="1267.8" r="3" stroke="none" fill-opacity="0.95"/>
<circle cx="857.4" cy="1210.4" r="1.5" stroke="none" fill-opacity="0.79"/>
<circle cx="859.1" cy="1326.2" r="1.5" stroke="none" fill-opacity="0.95"/>
<circle cx="975.1" cy="1334.0" r="3.5" stroke="none" fill-opacity="0.95"/>
<circle cx="260.0" cy="1180.9" r="2" stroke="none" fill-opacity="0.39"/>
<circle cx="828.3" cy="1326.2" r="4" stroke="none" fill-opacity="0.95"/>
<circle cx="179.1" cy="1230.1" r="2" stroke="none" fill-opacity="0.95"/>
<circle cx="349.6" cy="1230.7" r="3" stroke="none" fill-opacity="0.85"/>
<circle cx="89.1" cy="1268.5" r="2" stroke="none" fill-opacity="0.95"/>
<circle cx="750.4" cy="1295.6" r="3.5" stroke="none" fill-opacity="0.95"/>
<circle cx="206.9" cy="1359.4" r="2.5" stroke="none" fill-opacity="0.95"/>
<circle cx="398.9" cy="1253.0" r="1.5" stroke="none" fill-opacity="0.95"/>
<circle cx="-1.5" cy="1088.3" r="6.5" stroke="none" fill-opacity="0.84"/>
<circle cx="689.7" cy="1329.9" r="1.2" stroke="none" fill-opacity="0.95"/>
<circle cx="853.8" cy="1356.7" r="1.5" stroke="none" fill-opacity="0.95"/>
<circle cx="44.4" cy="1343.5" r="6.5" stroke="none" fill-opacity="0.95"/>
<circle cx="460.6" cy="1280.0" r="1.5" stroke="none" fill-opacity="0.95"/>
<circle cx="319.9" cy="1178.8" r="3.5" stroke="none" fill-opacity="0.10"/>
<circle cx="709.1" cy="1307.0" r="1.5" stroke="none" fill-opacity="0.95"/>
<circle cx="168.5" cy="1174.3" r="4" stroke="none" fill-opacity="0.95"/>
<circle cx="1002.0" cy="1293.6" r="2" stroke="none" fill-opacity="0.95"/>
<circle cx="248.6" cy="1329.8" r="2" stroke="none" fill-opacity="0.95"/>
<circle cx="702.6" cy="1280.9" r="1.5" stroke="none" fill-opacity="0.95"/>
<circle cx="-9.0" cy="1140.9" r="2" stroke="none" fill-opacity="0.95"/>
<circle cx="221.4" cy="1341.2" r="2" stroke="none" fill-opacity="0.95"/>
<circle cx="1019.9" cy="1238.4" r="6.5" stroke="none" fill-opacity="0.95"/>
<circle cx="246.9" cy="1156.5" r="2" stroke="none" fill-opacity="0.19"/>
<circle cx="32.5" cy="1086.5" r="3" stroke="none" fill-opacity="0.79"/>
<circle cx="985.8" cy="1213.1" r="3" stroke="none" fill-opacity="0.95"/>
<circle cx="146.3" cy="1180.4" r="2" stroke="none" fill-opacity="0.95"/>
<circle cx="963.1" cy="1163.0" r="2" stroke="none" fill-opacity="0.46"/>
<circle cx="661.3" cy="1210.6" r="2" stroke="none" fill-opacity="0.38"/>
<circle cx="142.9" cy="1276.6" r="3" stroke="none" fill-opacity="0.95"/>
<circle cx="385.6" cy="1325.2" r="1.5" stroke="none" fill-opacity="0.95"/>
<circle cx="56.4" cy="1327.9" r="2" stroke="none" fill-opacity="0.95"/>
<circle cx="524.3" cy="1338.7" r="2" stroke="none" fill-opacity="0.95"/>
<circle cx="440.6" cy="1247.1" r="2" stroke="none" fill-opacity="0.89"/>
<circle cx="789.1" cy="1200.5" r="2" stroke="none" fill-opacity="0.39"/>
<circle cx="98.4" cy="1323.5" r="5" stroke="none" fill-opacity="0.95"/>
<circle cx="795.7" cy="1232.5" r="3" stroke="none" fill-opacity="0.90"/>
<circle cx="238.9" cy="1353.1" r="3" stroke="none" fill-opacity="0.95"/>
<circle cx="21.1" cy="1040.7" r="1.5" stroke="none" fill-opacity="0.08"/>
<circle cx="69.9" cy="1249.9" r="2.5" stroke="none" fill-opacity="0.95"/>
<circle cx="552.7" cy="1234.6" r="2" stroke="none" fill-opacity="0.62"/>
<circle cx="57.3" cy="1060.7" r="1.5" stroke="none" fill-opacity="0.37"/>
<circle cx="821.6" cy="1232.1" r="2" stroke="none" fill-opacity="0.95"/>
<circle cx="659.8" cy="1356.3" r="3" stroke="none" fill-opacity="0.95"/>
<circle cx="318.4" cy="1206.5" r="1.5" stroke="none" fill-opacity="0.54"/>
<circle cx="80.9" cy="1317.6" r="1.5" stroke="none" fill-opacity="0.95"/>
<circle cx="201.8" cy="1245.1" r="2.5" stroke="none" fill-opacity="0.95"/>
<circle cx="935.3" cy="1339.6" r="3" stroke="none" fill-opacity="0.95"/>
<circle cx="952.1" cy="1324.2" r="2" stroke="none" fill-opacity="0.95"/>
<circle cx="182.8" cy="1211.7" r="1.5" stroke="none" fill-opacity="0.95"/>
<circle cx="809.0" cy="1203.8" r="2.5" stroke="none" fill-opacity="0.49"/>
<circle cx="3.1" cy="1195.3" r="9" stroke="none" fill-opacity="0.95"/>
<circle cx="545.9" cy="1212.9" r="9" stroke="none" fill-opacity="0.27"/>
<circle cx="209.3" cy="1280.2" r="5" stroke="none" fill-opacity="0.95"/>
<circle cx="493.4" cy="1202.7" r="9" stroke="none" fill-opacity="0.06"/>
<circle cx="931.6" cy="1159.6" r="2.5" stroke="none" fill-opacity="0.28"/>
<circle cx="839.3" cy="1246.7" r="1.5" stroke="none" fill-opacity="0.95"/>
<circle cx="867.6" cy="1294.0" r="1.5" stroke="none" fill-opacity="0.95"/>
<circle cx="976.1" cy="1237.7" r="2" stroke="none" fill-opacity="0.95"/>
<circle cx="283.7" cy="1349.7" r="1.2" stroke="none" fill-opacity="0.95"/>
<circle cx="41.6" cy="1124.9" r="1.5" stroke="none" fill-opacity="0.95"/>
<circle cx="44.8" cy="1176.0" r="2.5" stroke="none" fill-opacity="0.95"/>
<circle cx="829.8" cy="1183.0" r="9" stroke="none" fill-opacity="0.25"/>
<circle cx="549.2" cy="1345.4" r="2" stroke="none" fill-opacity="0.95"/>
<circle cx="265.5" cy="1356.7" r="2" stroke="none" fill-opacity="0.95"/>
<circle cx="366.4" cy="1290.9" r="3" stroke="none" fill-opacity="0.95"/>
<circle cx="884.0" cy="1195.5" r="1.5" stroke="none" fill-opacity="0.66"/>
<circle cx="257.2" cy="1201.8" r="2.5" stroke="none" fill-opacity="0.76"/>
<circle cx="-18.6" cy="1299.3" r="6.5" stroke="none" fill-opacity="0.95"/>
<circle cx="143.9" cy="1302.9" r="5" stroke="none" fill-opacity="0.95"/>
<circle cx="460.2" cy="1348.7" r="3" stroke="none" fill-opacity="0.95"/>
<circle cx="-9.1" cy="1357.2" r="6.5" stroke="none" fill-opacity="0.95"/>
<circle cx="962.8" cy="1211.4" r="5" stroke="none" fill-opacity="0.95"/>
<circle cx="126.5" cy="1052.1" r="1.5" stroke="none" fill-opacity="0.19"/>
<circle cx="684.8" cy="1260.8" r="2" stroke="none" fill-opacity="0.95"/>
<circle cx="73.7" cy="1097.0" r="2" stroke="none" fill-opacity="0.94"/>
<circle cx="143.4" cy="1062.2" r="6.5" stroke="none" fill-opacity="0.16"/>
<circle cx="777.5" cy="1299.2" r="1.2" stroke="none" fill-opacity="0.95"/>
<circle cx="90.5" cy="1148.4" r="5" stroke="none" fill-opacity="0.95"/>
<circle cx="509.7" cy="1288.1" r="3.5" stroke="none" fill-opacity="0.95"/>
<circle cx="919.1" cy="1206.4" r="1.5" stroke="none" fill-opacity="0.95"/>
<circle cx="346.7" cy="1190.1" r="2.5" stroke="none" fill-opacity="0.21"/>
<circle cx="127.4" cy="1262.6" r="2" stroke="none" fill-opacity="0.95"/>
<circle cx="1006.2" cy="1195.5" r="1.5" stroke="none" fill-opacity="0.95"/>
<circle cx="579.5" cy="1257.0" r="2" stroke="none" fill-opacity="0.95"/>
<circle cx="109.0" cy="1351.0" r="3.5" stroke="none" fill-opacity="0.95"/>
<circle cx="121.0" cy="1327.4" r="2" stroke="none" fill-opacity="0.95"/>
<circle cx="925.7" cy="1357.3" r="1.2" stroke="none" fill-opacity="0.95"/>
<circle cx="107.6" cy="1300.4" r="1.2" stroke="none" fill-opacity="0.95"/>
<circle cx="187.5" cy="1179.1" r="2" stroke="none" fill-opacity="0.95"/>
<circle cx="128.7" cy="1151.4" r="4" stroke="none" fill-opacity="0.95"/>
<circle cx="768.4" cy="1275.6" r="6.5" stroke="none" fill-opacity="0.95"/>
<circle cx="485.2" cy="1358.2" r="1.5" stroke="none" fill-opacity="0.95"/>
<circle cx="429.5" cy="1327.5" r="5" stroke="none" fill-opacity="0.95"/>
<circle cx="734.6" cy="1326.0" r="1.2" stroke="none" fill-opacity="0.95"/>
<circle cx="34.0" cy="1256.3" r="2" stroke="none" fill-opacity="0.95"/>
<circle cx="672.3" cy="1314.6" r="3" stroke="none" fill-opacity="0.95"/>
<circle cx="108.7" cy="1202.8" r="1.2" stroke="none" fill-opacity="0.95"/>
<circle cx="300.2" cy="1189.5" r="2" stroke="none" fill-opacity="0.31"/>
<circle cx="951.3" cy="1352.3" r="2.5" stroke="none" fill-opacity="0.95"/>
<circle cx="894.9" cy="1358.4" r="1.5" stroke="none" fill-opacity="0.95"/>
<circle cx="179.2" cy="1319.3" r="3" stroke="none" fill-opacity="0.95"/>
<circle cx="32.0" cy="1056.1" r="2.5" stroke="none" fill-opacity="0.31"/>
<circle cx="671.2" cy="1288.8" r="3" stroke="none" fill-opacity="0.95"/>
<circle cx="367.4" cy="1245.1" r="6.5" stroke="none" fill-opacity="0.95"/>
<circle cx="943.8" cy="1246.8" r="2.5" stroke="none" fill-opacity="0.95"/>
<circle cx="267.9" cy="1237.6" r="3" stroke="none" fill-opacity="0.95"/>
<circle cx="505.9" cy="1307.4" r="2" stroke="none" fill-opacity="0.95"/>
<circle cx="438.1" cy="1282.8" r="3" stroke="none" fill-opacity="0.95"/>
<circle cx="798.0" cy="1289.0" r="2" stroke="none" fill-opacity="0.95"/>
<circle cx="225.4" cy="1186.3" r="4" stroke="none" fill-opacity="0.95"/>
<circle cx="210.1" cy="1217.2" r="4" stroke="none" fill-opacity="0.95"/>
<circle cx="600.7" cy="1263.0" r="5" stroke="none" fill-opacity="0.95"/>
<circle cx="571.7" cy="1204.7" r="2.5" stroke="none" fill-opacity="0.17"/>
<circle cx="132.1" cy="1125.7" r="3" stroke="none" fill-opacity="0.95"/>
<circle cx="255.3" cy="1220.2" r="6.5" stroke="none" fill-opacity="0.95"/>
<circle cx="158.5" cy="1106.6" r="2" stroke="none" fill-opacity="0.65"/>
<circle cx="146.2" cy="1254.8" r="2" stroke="none" fill-opacity="0.95"/>
<circle cx="844.2" cy="1287.5" r="5" stroke="none" fill-opacity="0.95"/>
<circle cx="20.8" cy="1101.8" r="9" stroke="none" fill-opacity="0.95"/>
<circle cx="21.3" cy="1157.0" r="2.5" stroke="none" fill-opacity="0.95"/>
<circle cx="901.8" cy="1177.3" r="2" stroke="none" fill-opacity="0.44"/>
<circle cx="150.4" cy="1089.2" r="3" stroke="none" fill-opacity="0.49"/>
<circle cx="954.1" cy="1142.3" r="2" stroke="none" fill-opacity="0.09"/>
<circle cx="568.6" cy="1295.0" r="3.5" stroke="none" fill-opacity="0.95"/>
<circle cx="42.5" cy="1150.3" r="2" stroke="none" fill-opacity="0.95"/>
<circle cx="136.8" cy="1218.1" r="3" stroke="none" fill-opacity="0.95"/>
<circle cx="252.4" cy="1247.1" r="2.5" stroke="none" fill-opacity="0.95"/>
<circle cx="960.1" cy="1282.3" r="1.5" stroke="none" fill-opacity="0.95"/>
<circle cx="267.2" cy="1302.1" r="1.2" stroke="none" fill-opacity="0.95"/>
<circle cx="-19.0" cy="1204.9" r="3" stroke="none" fill-opacity="0.95"/>
<circle cx="305.9" cy="1263.4" r="6.5" stroke="none" fill-opacity="0.95"/>
<circle cx="703.2" cy="1253.4" r="1.5" stroke="none" fill-opacity="0.95"/>
<circle cx="758.9" cy="1201.6" r="6.5" stroke="none" fill-opacity="0.37"/>
<circle cx="783.0" cy="1183.4" r="9" stroke="none" fill-opacity="0.11"/>
<circle cx="588.9" cy="1339.9" r="3.5" stroke="none" fill-opacity="0.95"/>
<circle cx="812.5" cy="1305.2" r="1.2" stroke="none" fill-opacity="0.95"/>
<circle cx="61.6" cy="1082.0" r="6.5" stroke="none" fill-opacity="0.71"/>
<circle cx="39.9" cy="1207.2" r="3.5" stroke="none" fill-opacity="0.95"/>
<circle cx="353.3" cy="1276.2" r="2.5" stroke="none" fill-opacity="0.95"/>
<circle cx="804.0" cy="1270.0" r="6.5" stroke="none" fill-opacity="0.95"/>
<circle cx="90.1" cy="1068.6" r="5" stroke="none" fill-opacity="0.48"/>
<circle cx="427.3" cy="1347.3" r="1.5" stroke="none" fill-opacity="0.95"/>
<circle cx="604.7" cy="1214.7" r="1.5" stroke="none" fill-opacity="0.37"/>
<circle cx="955.2" cy="1302.0" r="3" stroke="none" fill-opacity="0.95"/>
<circle cx="884.9" cy="1262.0" r="6.5" stroke="none" fill-opacity="0.95"/>
<circle cx="18.3" cy="1137.6" r="6.5" stroke="none" fill-opacity="0.95"/>
<circle cx="71.9" cy="1143.6" r="1.5" stroke="none" fill-opacity="0.95"/>
<circle cx="369.5" cy="1265.8" r="2" stroke="none" fill-opacity="0.95"/>
<circle cx="913.8" cy="1342.9" r="1.2" stroke="none" fill-opacity="0.95"/>
<circle cx="206.3" cy="1173.6" r="2.5" stroke="none" fill-opacity="0.95"/>
<circle cx="402.7" cy="1228.1" r="5" stroke="none" fill-opacity="0.68"/>
<circle cx="878.4" cy="1347.7" r="1.5" stroke="none" fill-opacity="0.95"/>
<circle cx="142.8" cy="1200.6" r="1.5" stroke="none" fill-opacity="0.95"/>
<circle cx="648.8" cy="1308.2" r="2.5" stroke="none" fill-opacity="0.95"/>
<circle cx="501.0" cy="1327.3" r="1.5" stroke="none" fill-opacity="0.95"/>
<circle cx="31.6" cy="1304.1" r="2" stroke="none" fill-opacity="0.95"/>
<circle cx="39.0" cy="1279.6" r="3.5" stroke="none" fill-opacity="0.95"/>
<circle cx="29.9" cy="1232.4" r="1.5" stroke="none" fill-opacity="0.95"/>
<circle cx="686.8" cy="1354.5" r="2.5" stroke="none" fill-opacity="0.95"/>
<circle cx="102.7" cy="1128.8" r="2" stroke="none" fill-opacity="0.95"/>
<circle cx="302.5" cy="1344.3" r="9" stroke="none" fill-opacity="0.95"/>
<circle cx="190.2" cy="1137.7" r="1.5" stroke="none" fill-opacity="0.70"/>
<circle cx="251.7" cy="1268.3" r="4" stroke="none" fill-opacity="0.95"/>
<circle cx="430.0" cy="1230.0" r="3" stroke="none" fill-opacity="0.64"/>
<circle cx="775.5" cy="1218.0" r="1.5" stroke="none" fill-opacity="0.65"/>
<circle cx="969.1" cy="1264.3" r="1.5" stroke="none" fill-opacity="0.95"/>
<circle cx="666.4" cy="1332.6" r="6.5" stroke="none" fill-opacity="0.95"/>
<circle cx="10.9" cy="1214.1" r="6.5" stroke="none" fill-opacity="0.95"/>
</g>
<defs><linearGradient id="rl" x1="0" x2="1" y1="0" y2="0"><stop offset="0" stop-color="#f23030" stop-opacity="0.12"/><stop offset="0.5" stop-color="#f23030" stop-opacity="0.8"/><stop offset="1" stop-color="#f23030"/></linearGradient></defs>
<g fill="none" stroke="#f03434" stroke-width="1.2">
<path d="M546 64.8 L674 64.8 L714 24.8 L784 24.8" stroke="url(#rl)"/>
<path d="M546 79 L678 79 L718 38 L864 38" stroke="url(#rl)"/>
<path d="M546 52.4 L770 52.4 L770 52.5" stroke="url(#rl)"/>
</g>
<circle cx="784" cy="24.8" r="8.6" fill="#f53232"/><circle cx="864" cy="38" r="9" fill="#f53232"/><circle cx="769.6" cy="52.4" r="6" fill="#f53232"/>
<!-- footer -->
<rect x="0" y="1344" width="1000" height="70" fill="#3e3e3e"/>
<ellipse cx="92" cy="1405" rx="248" ry="67" fill="#b3d0c5"/>
<ellipse cx="92" cy="1405" rx="193" ry="53" fill="#fff"/>
<ellipse cx="92" cy="1405" rx="136" ry="39" fill="#b3d0c5"/>
<ellipse cx="92" cy="1405" rx="78" ry="21" fill="#fff"/>
<!-- shaft -->
<path d="M88 48 L97.5 48 L97.5 140 L112 140 L112 1387 L92.5 1408 L73 1387 L73 140 L88 140 Z" fill="#3e3e3e"/>
<path d="M31 7.5 L88 38.4 L88 156.6 L31 126 Z" fill="#8fb0a4"/>
<path d="M154 6.6 L97.5 38.4 L97.5 156.6 L154 126 Z" fill="#8fb0a4"/>
<path d="M41 268.5 L73 268.5 L73 288.5 Z" fill="#f6f88b"/>
<path d="M41 176.5 L222 176.5 L267 222.75 L222 269.0 L41 269.0 Z" fill="#f6f88b"/>
<path d="M41 436 L73 436 L73 456 Z" fill="#f6dea2"/>
<path d="M41 344 L222 344 L267 390.25 L222 436.5 L41 436.5 Z" fill="#f6dea2"/>
<path d="M41 632 L73 632 L73 652 Z" fill="#b2f58f"/>
<path d="M41 540 L222 540 L267 586.25 L222 632.5 L41 632.5 Z" fill="#b2f58f"/>
<path d="M41 757 L73 757 L73 777 Z" fill="#f0b1b3"/>
<path d="M41 665 L222 665 L267 711.25 L222 757.5 L41 757.5 Z" fill="#f0b1b3"/>
<path d="M41 883 L73 883 L73 903 Z" fill="#b6b1d3"/>
<path d="M41 791 L222 791 L267 837.25 L222 883.5 L41 883.5 Z" fill="#b6b1d3"/>
<path d="M41 1022.5 L73 1022.5 L73 1042.5 Z" fill="#a0daa2"/>
<path d="M41 930.5 L222 930.5 L267 976.75 L222 1023.0 L41 1023.0 Z" fill="#a0daa2"/>
<path d="M41 1174 L73 1174 L73 1194 Z" fill="#b0f1d9"/>
<path d="M41 1082 L222 1082 L267 1128.25 L222 1174.5 L41 1174.5 Z" fill="#b0f1d9"/>
<path d="M41 1313 L73 1313 L73 1333 Z" fill="#3fd9d9"/>
<path d="M41 1221 L222 1221 L267 1267.25 L222 1313.5 L41 1313.5 Z" fill="#3fd9d9"/>
<g fill="none" stroke-linecap="round" stroke-linejoin="round">
<path d="M364.00 279.50 L364.00 306.50 M358.80 285.30 L364.00 279.50 L369.20 285.30 M358.80 300.70 L364.00 306.50 L369.20 300.70" stroke="#cc8d8f" stroke-width="4.5"/>
<path d="M532.50 279.50 L532.50 306.50 M527.00 285.40 L532.50 279.50 L538.00 285.40 M527.00 300.60 L532.50 306.50 L538.00 300.60" stroke="#3bc8f0" stroke-width="3"/>
<path d="M684.50 279.50 L684.50 306.50 M679.00 285.40 L684.50 279.50 L690.00 285.40 M679.00 300.60 L684.50 306.50 L690.00 300.60" stroke="#3bc8f0" stroke-width="3"/>
<path d="M881.50 292.50 L740.00 292.50 C737.24 292.50 735.00 290.26 735.00 287.50 L735.00 279.50 M729.50 285.40 L735.00 279.50 L740.50 285.40" stroke="#3d8663" stroke-width="3"/>
<path d="M881.50 279.50 L881.50 306.50 M876.30 285.30 L881.50 279.50 L886.70 285.30 M876.30 300.70 L881.50 306.50 L886.70 300.70" stroke="#3d8663" stroke-width="4.5"/>
<path d="M334.50 509.50 L334.50 516.75 C334.50 518.96 336.29 520.75 338.50 520.75 L838.50 520.75 C846.23 520.75 852.50 527.02 852.50 534.75 L852.50 540.00 M329.00 515.40 L334.50 509.50 L340.00 515.40" stroke="#cc8d8f" stroke-width="3.2"/>
<path d="M852.50 509.50 L852.50 558.00 M847.00 515.40 L852.50 509.50 L858.00 515.40 M847.00 552.10 L852.50 558.00 L858.00 552.10" stroke="#cc8d8f" stroke-width="3.6"/>
<path d="M386.75 509.50 L386.75 522.00 C386.75 528.08 391.67 533.00 397.75 533.00 L894.00 533.00 C900.08 533.00 905.00 528.08 905.00 522.00 L905.00 509.50 M381.25 515.40 L386.75 509.50 L392.25 515.40 M899.50 515.40 L905.00 509.50 L910.50 515.40" stroke="#3d8663" stroke-width="3.6"/>
<path d="M393.00 558.00 L393.00 551.00 C393.00 546.58 396.58 543.00 401.00 543.00 L697.50 543.00 C704.13 543.00 709.50 537.63 709.50 531.00 L709.50 509.50 M387.50 552.10 L393.00 558.00 L398.50 552.10 M704.00 515.40 L709.50 509.50 L715.00 515.40" stroke="#3bc8f0" stroke-width="3.2"/>
<path d="M532.00 543.00 L532.00 509.50 M526.50 515.40 L532.00 509.50 L537.50 515.40" stroke="#3bc8f0" stroke-width="3.2"/>
<path d="M623.00 533.00 L623.00 558.00 M617.50 552.10 L623.00 558.00 L628.50 552.10" stroke="#3d8663" stroke-width="3.6"/>
<path d="M852.50 622.00 L852.50 632.00 C852.50 636.42 848.92 640.00 844.50 640.00 L497.00 640.00 C490.37 640.00 485.00 645.37 485.00 652.00 L485.00 669.50 M479.50 663.60 L485.00 669.50 L490.50 663.60" stroke="#cc8d8f" stroke-width="3.4"/>
<path d="M602.50 640.00 L602.50 669.50 M597.00 663.60 L602.50 669.50 L608.00 663.60" stroke="#cc8d8f" stroke-width="3.4"/>
<path d="M393.00 622.00 L393.00 642.25 C393.00 648.88 398.37 654.25 405.00 654.25 L752.00 654.25 C756.42 654.25 760.00 657.83 760.00 662.25 L760.00 669.50 M754.50 663.60 L760.00 669.50 L765.50 663.60" stroke="#3bc8f0" stroke-width="3.2"/>
<path d="M643.25 654.25 L643.25 669.50 M637.75 663.60 L643.25 669.50 L648.75 663.60" stroke="#3bc8f0" stroke-width="3.2"/>
<path d="M623.00 622.00 L623.00 669.50 M617.80 663.70 L623.00 669.50 L628.20 663.70" stroke="#3d8663" stroke-width="4"/>
<path d="M623.00 630.00 L623.00 635.50 C623.00 642.13 628.37 647.50 635.00 647.50 L885.50 647.50 C892.13 647.50 897.50 652.87 897.50 659.50 L897.50 669.50 M892.30 663.70 L897.50 669.50 L902.70 663.70" stroke="#3d8663" stroke-width="4"/>
<path d="M485.00 750.00 L485.00 762.50 C485.00 768.02 489.48 772.50 495.00 772.50 L750.00 772.50 C755.52 772.50 760.00 776.98 760.00 782.50 L760.00 804.00 M754.50 798.10 L760.00 804.00 L765.50 798.10" stroke="#cc8d8f" stroke-width="3.4"/>
<path d="M602.50 750.00 L602.50 762.50 C602.50 768.02 598.02 772.50 592.50 772.50 L570.00 772.50" stroke="#cc8d8f" stroke-width="3.4"/>
<path d="M655.00 772.50 L655.00 804.00 M649.50 798.10 L655.00 804.00 L660.50 798.10" stroke="#cc8d8f" stroke-width="3.4"/>
<path d="M898.00 750.00 L898.00 766.00 C898.00 773.73 891.73 780.00 884.00 780.00 L493.00 780.00 C488.58 780.00 485.00 783.58 485.00 788.00 L485.00 804.00 M479.80 798.20 L485.00 804.00 L490.20 798.20" stroke="#3d8663" stroke-width="3.8"/>
<path d="M778.00 750.00 L778.00 773.00 C778.00 780.73 771.73 787.00 764.00 787.00 L356.50 787.00 C351.53 787.00 347.50 791.03 347.50 796.00 L347.50 804.00 M342.00 798.10 L347.50 804.00 L353.00 798.10" stroke="#3bc8f0" stroke-width="3.4"/>
<path d="M623.00 750.00 L623.00 804.00 M617.80 798.20 L623.00 804.00 L628.20 798.20" stroke="#3d8663" stroke-width="4"/>
<path d="M395.00 916.00 L395.00 894.50 C395.00 887.87 400.37 882.50 407.00 882.50 L867.75 882.50 C875.48 882.50 881.75 888.77 881.75 896.50 L881.75 916.00 M389.50 910.10 L395.00 916.00 L400.50 910.10 M876.25 910.10 L881.75 916.00 L887.25 910.10" stroke="#cc8d8f" stroke-width="3.5"/>
<path d="M623.00 868.50 L623.00 882.50" stroke="#cc8d8f" stroke-width="3.5"/>
<path d="M760.00 868.50 L760.00 877.50 C760.00 880.26 757.76 882.50 755.00 882.50 L740.00 882.50" stroke="#cc8d8f" stroke-width="3.5"/>
<path d="M553.00 882.50 L553.00 916.00 M547.50 910.10 L553.00 916.00 L558.50 910.10" stroke="#cc8d8f" stroke-width="3.5"/>
<path d="M347.50 868.50 L347.50 916.00 M342.00 910.10 L347.50 916.00 L353.00 910.10" stroke="#3bc8f0" stroke-width="3.4"/>
<path d="M347.50 875.00 L347.50 883.50 C347.50 891.23 353.77 897.50 361.50 897.50 L503.00 897.50 C507.42 897.50 511.00 901.08 511.00 905.50 L511.00 916.00 M505.50 910.10 L511.00 916.00 L516.50 910.10" stroke="#3bc8f0" stroke-width="3.4"/>
<path d="M485.00 868.50 L485.00 880.50 C485.00 887.13 490.37 892.50 497.00 892.50 L694.75 892.50 C702.48 892.50 708.75 898.77 708.75 906.50 L708.75 916.00 M703.55 910.20 L708.75 916.00 L713.95 910.20" stroke="#3d8663" stroke-width="4"/>
<path d="M600.50 868.50 L600.50 892.50" stroke="#3d8663" stroke-width="4"/>
<path d="M881.25 1036.00 L881.25 1040.50 C881.25 1043.26 879.01 1045.50 876.25 1045.50 L407.00 1045.50 C401.48 1045.50 397.00 1049.98 397.00 1055.50 L397.00 1083.00 M391.50 1076.60 L397.00 1082.50 L402.50 1076.60" stroke="#cc8d8f" stroke-width="3.5"/>
<path d="M397.00 1036.00 L397.00 1060.00" stroke="#cc8d8f" stroke-width="3.5"/>
<path d="M581.25 1036.00 L581.25 1081.00 M575.75 1075.10 L581.25 1081.00 L586.75 1075.10" stroke="#cc8d8f" stroke-width="3.5"/>
<path d="M350.50 1036.00 L350.50 1082.50 M345.00 1076.60 L350.50 1082.50 L356.00 1076.60" stroke="#3bc8f0" stroke-width="3.4"/>
<path d="M350.50 1042.00 L350.50 1049.00 C350.50 1057.84 357.66 1065.00 366.50 1065.00 L873.25 1065.00 C877.67 1065.00 881.25 1068.58 881.25 1073.00 L881.25 1079.50 M875.75 1073.60 L881.25 1079.50 L886.75 1073.60" stroke="#3bc8f0" stroke-width="3.4"/>
<path d="M493.00 1065.00 L493.00 1081.00 M487.50 1075.10 L493.00 1081.00 L498.50 1075.10" stroke="#3bc8f0" stroke-width="3.4"/>
<path d="M709.25 1036.00 L709.25 1081.00 M704.05 1075.20 L709.25 1081.00 L714.45 1075.20" stroke="#3d8663" stroke-width="4"/>
<path d="M709.25 1040.00 L709.25 1049.50 C709.25 1052.81 706.56 1055.50 703.25 1055.50 L546.25 1055.50 C540.73 1055.50 536.25 1059.98 536.25 1065.50 L536.25 1081.00 M531.05 1075.20 L536.25 1081.00 L541.45 1075.20" stroke="#3d8663" stroke-width="4"/>
<path d="M397.00 1173.00 L397.00 1176.25 C397.00 1179.01 399.24 1181.25 402.00 1181.25 L581.25 1181.25" stroke="#cc8d8f" stroke-width="3.5"/>
<path d="M581.25 1171.00 L581.25 1220.00 M575.75 1214.10 L581.25 1220.00 L586.75 1214.10" stroke="#cc8d8f" stroke-width="3.5"/>
<path d="M347.50 1220.00 L347.50 1202.00 C347.50 1196.48 351.98 1192.00 357.50 1192.00 L885.50 1192.00 C892.13 1192.00 897.50 1197.37 897.50 1204.00 L897.50 1220.00 M342.30 1214.20 L347.50 1220.00 L352.70 1214.20 M892.30 1214.20 L897.50 1220.00 L902.70 1214.20" stroke="#3d8663" stroke-width="4.2"/>
<path d="M537.00 1171.00 L537.00 1184.00 C537.00 1188.42 533.42 1192.00 529.00 1192.00 L520.00 1192.00" stroke="#3d8663" stroke-width="4.2"/>
<path d="M708.75 1171.00 L708.75 1184.00 C708.75 1188.42 705.17 1192.00 700.75 1192.00 L690.00 1192.00" stroke="#3d8663" stroke-width="4.2"/>
<path d="M350.50 1173.00 L350.50 1185.50 C350.50 1194.34 357.66 1201.50 366.50 1201.50 L867.25 1201.50 C874.98 1201.50 881.25 1195.23 881.25 1187.50 L881.25 1170.00" stroke="#3bc8f0" stroke-width="3.2"/>
<path d="M491.25 1171.00 L491.25 1191.50 C491.25 1197.02 486.77 1201.50 481.25 1201.50 L470.00 1201.50" stroke="#3bc8f0" stroke-width="3.2"/>
<path d="M632.50 1201.50 L632.50 1220.00 M627.00 1214.10 L632.50 1220.00 L638.00 1214.10" stroke="#3bc8f0" stroke-width="3.2"/>
<path d="M760.00 1201.50 L760.00 1220.00 M754.50 1214.10 L760.00 1220.00 L765.50 1214.10" stroke="#3bc8f0" stroke-width="3.2"/>
</g>
<!-- logo -->
<line x1="351.5" y1="1377.7" x2="930" y2="1377.7" stroke="#fff" stroke-width="1.3"/>
<circle cx="951" cy="1376.5" r="25.3" fill="#fff"/>
<circle cx="950.8" cy="1373.7" r="18.1" fill="none" stroke="#d9a23a" stroke-width="0.7"/>
<circle cx="950.8" cy="1373.7" r="16.6" fill="#72ef45"/>
<g fill="#b58c2a" stroke="none">
<path d="M951 1362.3 L952.7 1369.5 L952 1376.5 L950 1376.5 L949.3 1369.5 Z"/>
<ellipse cx="942.2" cy="1365.4" rx="2.6" ry="2.1" opacity=".8"/><ellipse cx="959.6" cy="1365.2" rx="2.6" ry="2.1" opacity=".8"/>
<ellipse cx="939.8" cy="1375.6" rx="2" ry="3.2" opacity=".8"/><ellipse cx="962" cy="1375.6" rx="2" ry="3.2" opacity=".8"/>
<ellipse cx="948" cy="1374.5" rx="1.4" ry="2.4"/><ellipse cx="954" cy="1374.5" rx="1.4" ry="2.4"/>
<rect x="941.8" y="1381.4" width="18" height="2.2" rx="0.5"/>
<rect x="945.2" y="1384" width="11.6" height="3.2" rx="0.4" opacity=".85"/>
</g>
<path d="M944.6 1373.5 Q944.8 1380.4 951 1380.4 Q957.6 1380.4 957.2 1372.5 Q957 1368.6 955 1367.6" fill="none" stroke="#b58c2a" stroke-width="1.5" stroke-linecap="round"/>
<path id="arc" d="M928.17 1381.81 A24.3 24.3 0 0 0 973.83 1381.81" fill="none"/>
<text font-size="4.7" font-weight="700" fill="#14782a" stroke="#14782a" stroke-width="0.3" font-family='"Bai Jamjuree", "Liberation Sans", "Noto Sans Thai", "Loma", sans-serif'><textPath href="#arc" startOffset="50%" text-anchor="middle">สำนักงานสภาเกษตรกรแห่งชาติ</textPath></text>
</svg>
<div class="bx r1" style="left:281.5px;top:164.5px;width:165.00px;height:113.25px;background:#ffb3a7;padding:10px 8px 0 8px;"><b>2. ด้านการสร้างความ<br>สามารถในการแข่งขัน</b><br><i></i>2.1 การเกษตรสร้างมูลค่า</div>
<div class="bx r1" style="left:454.25px;top:163.5px;width:164.75px;height:114.00px;background:#3bc8f0;padding:11px 6px 0 6px;"><b>&nbsp;3. ด้านการพัฒนาและเสริม<br>สร้างศักยภาพ<br>&nbsp;ทรัพยากรมนุษย์</b><br><i></i>&nbsp;3.2 การพัฒนาศักยภาพคน<br>ตลอดช่วงชีวิต</div>
<div class="bx r1" style="left:627px;top:162.5px;width:164.00px;height:115.00px;background:#3bc8f0;padding:12px 7px 0 7px;"><b>4. ด้านการสร้างโอกาสและ<br>ความเสมอภาคทางสังคม</b><br><i></i>4.1 การลดความเหลื่อมล้ำ<br>สร้างความเป็นธรรมในทุกมิติ</div>
<div class="bx r1" style="left:799.25px;top:162px;width:164.75px;height:114.50px;background:#bce3a4;padding:12.5px 7px 0 7px;"><b>5. ด้านการสร้างการเติบโต<br>บนคุณภาพชีวิตที่เป็นมิตรต่อ<br>สิ่งแวดล้อม</b><br><i></i>&nbsp;5.5 พัฒนาความมั่นคง น้ำ<br>พลังงาน และเกษตรที่เป็นมิตร<br>ต่อสิ่งแวดล้อม</div>
<div class="bx r2" style="left:281.5px;top:308px;width:165.00px;height:199.50px;background:#ffb3a7;padding:4.6px 8px 0 8px;"><b>1. ไทยเป็นประเทศชั้นนำด้านสินค้า<br>เกษตรและเกษตรแปรรูปมูลค่าสูง</b><br><i></i>1.1 มูลค่าเพิ่มของสินค้าเกษตรและเกษตร<br>แปรรูปสูงขึ้น<br><i></i>1.2 การพัฒนาโครงสร้างพื้นฐานและ<br>ระบบบริหารจัดการ เพื่อคุณภาพความ<br>มั่นคงทางอาหารและความยั่งยืนของภาค<br>เกษตร<br><i></i>1.3 การเพิ่มศักยภาพและบทบาทของ<br>ผู้ประกอบการเกษตรในฐานะหุ้นส่วน<br>เศรษฐกิจของห่วงโซ่อุปทานที่ได้รับส่วน<br>แบ่งประโยชน์อย่างเหมาะสมและเป็นธรรม</div>
<div class="bx r2" style="left:454.25px;top:308px;width:164.75px;height:199.50px;background:#3bc8f0;padding:4.6px 4px 0 4px;"><b>7. ไทยมีวิสาหกิจขนาดกลางและขนาด<br>ย่อมที่เข้มแข็ง มีศักยภาพสูงและสามารถ<br>แข่งขันได้</b><br><i class="w"></i>7.1 วิสาหกิจขนาดกลางและขนาดย่อมมี<br>สภาพแวดล้อมที่เอื้ออำนวยต่อการเติบโต<br>และแข่งขันได้<br><i class="w"></i>7.2 วิสาหกิจขนาดกลางและขนาดย่อม<br>มีศักยภาพสูงในการดำเนินธุรกิจ สามารถ<br>ยกระดับและปรับตัวเข้าสู่การแข่งขันใหม่<br><i class="w"></i>7.3 วิสาหกิจขนาดกลางและขนาดย่อม<br>สามารถเข้าถึงและได้รับการส่งเสริมอย่าง<br>มีประสิทธิผลจากภาครัฐ</div>
<div class="bx r2" style="left:627px;top:308px;width:164.00px;height:199.50px;background:#3bc8f0;padding:4.6px 6px 0 6px;"><b>9. ไทยมีความยากจนข้ามรุ่นลดลงและ<br>มีความคุ้มครองทางสังคมที่เพียงพอ<br>เหมาะสม</b><br><i></i>9.1 ครัวเรือนที่มีแนวโน้มกลายเป็น<br>ครัวเรือนยากจนข้ามรุ่น มีโอกาสในการ<br>เลื่อนสถานะทางเศรษฐกิจและสังคม<br>จนสามารถหลุดพ้นจากความยากจนได้<br>อย่างยั่งยืน</div>
<div class="bx r2" style="left:799.25px;top:308px;width:164.75px;height:199.50px;background:#bce3a4;padding:4.6px 6px 0 6px;"><b>10. ไทยมีเศรษฐกิจหมุนเวียนและสังคม<br>คาร์บอนต่ำ</b><br><i></i>10.2 การอนุรักษ์ ฟื้นฟู และใช้ประโยชน์<br>จากทรัพยากรธรรมชาติอย่างยั่งยืน<br><i></i>10.3 การสร้างสังคมคาร์บอนต่ำและ<br>ยั่งยืน<br><b>11. ไทยสามารถลดความเสี่ยงและ<br>ผลกระทบจากภัยธรรมชาติและ<br>การเปลี่ยนแปลงสภาพภูมิอากาศ</b><br><i></i>11.3 สังคมไทยมีภูมิคุ้มกันจากภัย<br>ธรรมชาติและการเปลี่ยนแปลงสภาพภูมิ<br>อากาศ<br><b>13. ไทยมีภาครัฐที่ทันสมัย มี<br>ประสิทธิภาพ และตอบโจทย์ประชาชน</b><br><i></i>13.1 การบริการภาครัฐมีคุณภาพ เข้าถึง<br>ได้</div>
<div class="bx r3" style="left:281.5px;top:559.5px;width:222.75px;height:63.00px;background:#3bc8f0;padding:10px 8px 0 8px;"><b class="u" style="color:#1748c4">ทิศที่ 1</b><br>สร้างความเข็มแข็งของเกษตรกร</div>
<div class="bx r3" style="left:512px;top:559.5px;width:223.00px;height:63.00px;background:#bce3a4;padding:10px 8px 0 8px;"><b class="u" style="color:#2e6b3a">ทิศที่ 2</b><br>การพัฒนาเกษตรสีเขียว</div>
<div class="bx r3" style="left:741px;top:559.5px;width:223.00px;height:63.00px;background:#ffb3a7;padding:10px 8px 0 8px;"><b class="u" style="color:#f02020">ทิศที่ 3</b><br>การเพิ่มมูลค่าสินค้าเกษตรสู่ตลาดโลก</div>
<div class="bx r4" style="left:281.5px;top:671px;width:131.50px;height:80.00px;background:#ffd88a;padding:6.5px 8px 0 8px;">1. ส่งเสริมการค้าการลงทุน<br>โครงข่ายคมนาคมและสิ่ง<br>อำนวยความสะดวกเพื่อ<br>รองรับการพัฒนา</div>
<div class="bx r4" style="left:419.25px;top:671px;width:131.75px;height:80.00px;background:#ffb3a7;padding:6.5px 5.25px 0 5.25px;">2. การพัฒนาการท่องเที่ยว<br>ที่ได้มาตรฐานและยั่งยืน<br>เป็นศูนย์กลางการประชุม<br>และจัดนิทรรศการ</div>
<div class="bx r4" style="left:557px;top:671px;width:131.25px;height:80.00px;background:#bce3a4;padding:6.5px 8.2px 0 8.2px;">3. การเพิ่มประสิทธิภาพ<br>การผลิตและสร้างมูลค่า<br>เพิ่มกับสินค้าเกษตร<br>สอดคล้องกับการตลาดด้วย<br>นวัตกรรมและเทคโนโลยี</div>
<div class="bx r4" style="left:694.5px;top:671px;width:131.50px;height:80.00px;background:#3bc8f0;padding:6.5px 8.5px 0 8.5px;">4.การพัฒนาทรัพยากร<br>มนุษย์ และสุขภาพครบ<br>วงจร</div>
<div class="bx r4" style="left:832px;top:671px;width:132.00px;height:80.00px;background:#bce3a4;padding:6.5px 7.7px 0 7.7px;">5.การบริหารจัดการ<br>ทรัพยากรธรรมชาติและสิ่ง<br>แวดล้อมอย่างยั่งยืน</div>
<div class="bx r4" style="left:281.5px;top:805.5px;width:131.50px;height:64.00px;background:#3bc8f0;padding:5.25px 8px 0 8px;">1. การพัฒนาคุณภาพชีวิต<br>ประชาชนและแก้ไขปัญหา<br>ความยากจน</div>
<div class="bx r4" style="left:419.25px;top:805.5px;width:131.75px;height:64.00px;background:#bce3a4;padding:5.25px 5.25px 0 5.25px;">2. การจัดการ<br>ทรัพยากรธรรมชาติและสิ่ง<br>แวดล้อม</div>
<div class="bx r4" style="left:557px;top:805.5px;width:131.25px;height:64.00px;background:#bce3a4;padding:5.25px 8.2px 0 8.2px;">3. การพัฒนาผลผลิต<br>ทางการเกษตร</div>
<div class="bx r4" style="left:694.5px;top:805.5px;width:131.50px;height:64.00px;background:#ffb3a7;padding:5.25px 8.5px 0 8.5px;">4. การส่งเสริมการท่อง<br>เที่ยวสินค้า OTOP และการ<br>ค้าชายแดน</div>
<div class="bx r4" style="left:832px;top:805.5px;width:132.00px;height:64.00px;background:#ffd88a;padding:5.25px 7.7px 0 7.7px;">5. การบริหารจัดการภาครัฐ<br>และการรักษาความมั่นคง<br>ชายแดน และความสงบ<br>เรียบร้อย</div>
<div class="bx r6 c" style="left:281.5px;top:917.5px;width:165.00px;height:119.00px;background:#3bc8f0;padding:2.8px 2px 0 2px;padding-left:6.6px;"><b>ยุทธศาสตร์ที่ 1</b><br>พัฒนาคุณภาพชีวิตเกษตรกร<br>ด้วยการผลิตสินค้าเกษตรและ<br>เกษตรแปรรูปมูลค่าสูง</div>
<div class="bx r6 c" style="left:454.25px;top:917.5px;width:164.75px;height:119.00px;background:#3bc8f0;padding:2.8px 2px 0 2px;"><b>ยุทธศาสตร์ที่ 2</b><br>พัฒนาขีดความสามารถในการ<br>แข่งขัน<br>และการจัดการสินค้าเกษตร<br>สร้างความมั่นคงในอาชีพ</div>
<div class="bx r6 c" style="left:627px;top:917px;width:164.00px;height:119.50px;background:#bce3a4;padding:2.8px 2px 0 2px;"><b>ยุทธศาสตร์ที่ 3</b><br>ส่งเสริมให้เกิดการบริหาร<br>จัดการ<br>ทรัพยากรการเกษตร<br>อย่างมีประสิทธิภาพ และสร้าง<br>สมดุล<br>ในระบบนิเวศน์อย่างยั่งยืน</div>
<div class="bx r6 c" style="left:799.25px;top:916.5px;width:164.75px;height:120.00px;background:#ffb3a7;padding:2.8px 2px 0 2px;"><b>ยุทธศาสตร์ที่ 4</b><br>การแก้ปัญหาหนี้สินภาค<br>การเกษตร<br>และการเพิ่มสิทธิและบทบาท<br>ของ<br>เกษตรกรเพื่อความเสมอภาค<br>ในสาขาอาชีพเกษตรกรรม</div>
<div class="bx r6 c" style="left:281.5px;top:1084px;width:165.00px;height:90.00px;background:#3bc8f0;padding:0.5px 2px 0 2px;padding-left:6.6px;"><b>ประเด็นการพัฒนาที่ 1</b><br>ยกระดับขีดความสามารถ<br>ในการแข่งขันภาคเกษตร</div>
<div class="bx r6 c" style="left:454.25px;top:1083px;width:164.75px;height:89.50px;background:#ffb3a7;padding:7px 2px 0 2px;"><b>ประเด็นการพัฒนาที่ 2</b><br>สร้างความเสมอภาคและ<br>กระจาย<br>ความเท่าเทียมทางสังคม<br>เกษตร</div>
<div class="bx r6 c" style="left:627px;top:1082px;width:164.00px;height:90.00px;background:#bce3a4;padding:8px 2px 0 2px;"><b>ประเด็นการพัฒนาที่ 3</b><br>บริหารจัดการทรัพยากร<br>การเกษตรและ<br>สิ่งแวดล้อมอย่างสมดุลและ<br>ยั่งยืน</div>
<div class="bx r6 c" style="left:799.25px;top:1081px;width:164.75px;height:90.00px;background:#3bc8f0;padding:9px 2px 0 2px;"><b>ประเด็นการพัฒนาที่ 4</b><br>พัฒนาระบบการบริหาร<br>จัดการภาครัฐ<br>และงานวิจัยด้านการเกษตร</div>
<div class="bx r6 c" style="left:281.5px;top:1221.5px;width:131.50px;height:93.50px;background:#bce3a4;padding:7.9px 1px 0 1px;"><b>ยุทธศาสตร์ที่ 1</b><br>ด้านโครงสร้างพื้นฐาน</div>
<div class="bx r6 c" style="left:419.25px;top:1221.5px;width:131.75px;height:93.50px;background:#ffd88a;padding:7.9px 1px 0 1px;"><b>ยุทธศาสตร์ที่ 2</b><br>ด้านส่งเสริมคุณภาพชีวิต</div>
<div class="bx r6 c" style="left:557px;top:1221.5px;width:131.25px;height:93.50px;background:#ffb3a7;padding:7.9px 1px 0 1px;"><b>ยุทธศาสตร์ที่ 3</b><br>ด้านการบริหารจัดการที่ดี<br>การจัดระเบียบชุมชน/<br>สังคมและการรักษาความ<br>สงบเรียบร้อย</div>
<div class="bx r6 c" style="left:694.5px;top:1221.5px;width:131.50px;height:93.50px;background:#3bc8f0;padding:7.9px 1px 0 1px;"><b>ยุทธศาสตร์ที่ 4</b><br>ด้านส่งเสริมเศรษฐกิจ<br>การลงทุนพาณิชยกรรม<br>การท่องเที่ยวและกีฬา</div>
<div class="bx r6 c" style="left:832px;top:1221.5px;width:132.00px;height:93.50px;background:#bce3a4;padding:7.9px 1px 0 1px;"><b>ยุทธศาสตร์ที่ 5</b><br>ด้านการบริหารจัดการ<br>และอนุรักษ์<br>ทรัพยากรธรรมชาติ<br>และสิ่งแวดล้อม</div>
<div class="lb" style="top:176.5px;left:31.5px"><div>ยุทธศาสตร์ชาติ 20 ปี<br>(พ.ศ. 2561-2580)</div></div>
<div class="lb" style="top:344px;left:33.5px"><div>แผนพัฒนาเศรษฐกิจและ<br>สังคมแห่งชาติ ฉบับที่ 13<br>(พ.ศ. 2566-2570)</div></div>
<div class="lb" style="top:540px;left:34px"><div>แผนแม่บทเพื่อพัฒนา<br>เกษตรกรรม ฉบับที่ 2<br>(พ.ศ. 2568-2573)</div></div>
<div class="lb" style="top:665px;left:25px"><div>แผนพัฒนากลุ่มจังหวัด<br>ภาคเหนือตอนล่าง 1<br>(พ.ศ. 2566-2570)</div></div>
<div class="lb" style="top:791px;left:24.5px"><div>แผนพัฒนาจังหวัดตาก<br>(พ.ศ. 2566-2570)</div></div>
<div class="lb" style="top:930.5px;left:29px"><div>แผนพัฒนาเกษตรกรรม<br>จังหวัดตาก<br>(พ.ศ. 2566-2570)</div></div>
<div class="lb" style="top:1082px;left:28.69999999999999px"><div>แผนพัฒนา<br>การเกษตรและสหกรณ์<br>ของจังหวัดตาก<br>(พ.ศ. 2566-2570)</div></div>
<div class="lb" style="top:1221px;left:28.5px"><div>แผนพัฒนาท้องถิ่น<br>(พ.ศ. 2566-2570)<span style="font-size:12px;display:block;line-height:16px">องค์การบริหารส่วนจังหวัดตาก</span></div></div>
<div class="t1">ความเชื่อมโยง</div>
<div class="t2">แผน</div>
<div class="sub">ระดับชาติ<br>แม่บทเพื่อพัฒนาเกษตรกรรม ฉบับที่ 2 (พ.ศ. 2568-2573)<br>ระดับจังหวัด จังหวัดตาก</div>
<div class="ft" style="top:1358px;font-size:12.3px;line-height:19px">สำนักงานสภาเกษตรกรจังหวัดตาก ศาลากลางจังหวัดตาก ตำบลหนองหลวง อำเภอเมืองตาก จังหวัดตาก 63000</div>
<div class="ft" style="top:1379px;font-size:10.5px;line-height:14px;color:#f0f0f0">โทร. 055-515678, 088-2781280 / E-mail : saraban_tak@nfc.mail.go.th / www.nfctak.com / Facebook : nfctakofficial</div>
</div></body></html>
